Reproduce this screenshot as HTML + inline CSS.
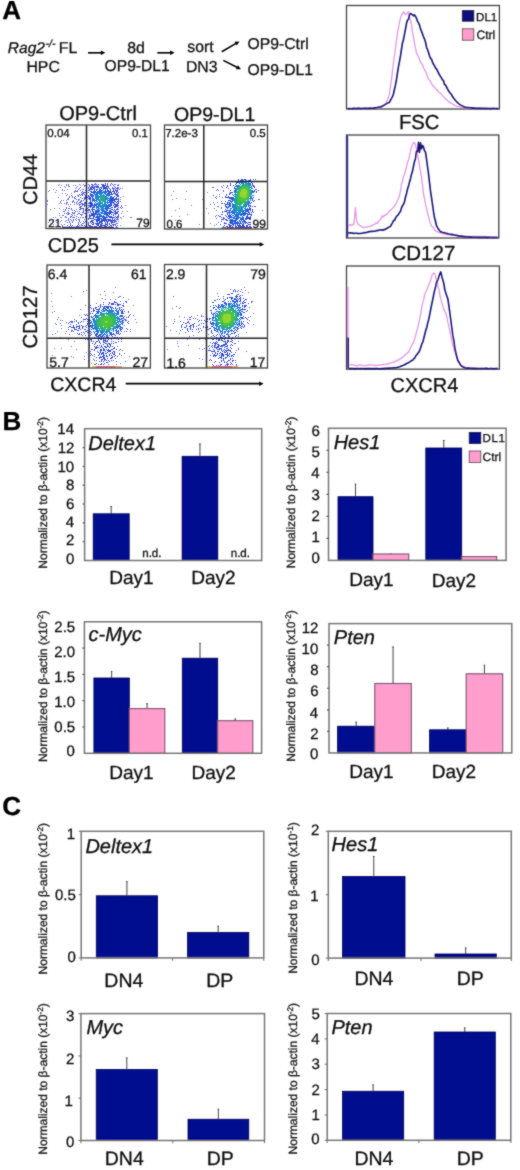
<!DOCTYPE html>
<html><head><meta charset="utf-8"><style>
html,body{margin:0;padding:0;background:#fff;}
body{width:520px;height:1170px;overflow:hidden;}
svg{display:block;font-family:"Liberation Sans", sans-serif;text-rendering:geometricPrecision;}
text{stroke:#111;stroke-width:0.3px;}
</style></head><body>
<svg width="520" height="1170" viewBox="0 0 520 1170">
<defs><filter id="gblur" x="0" y="0" width="100%" height="100%" filterUnits="userSpaceOnUse"><feConvolveMatrix order="3" kernelMatrix="1 2 1 2 16 2 1 2 1" divisor="28" edgeMode="duplicate"/></filter></defs>
<rect width="520" height="1170" fill="#fff"/>
<g filter="url(#gblur)">
<text x="2.32" y="18.80" font-size="26" font-weight="bold" fill="#000">A</text>
<text x="2.38" y="429.50" font-size="26" font-weight="bold" fill="#000">B</text>
<text x="2.16" y="814.50" font-size="26" font-weight="bold" fill="#000">C</text>
<text x="7.84" y="52.80" font-size="15.5" font-style="italic" fill="#111">Rag2</text>
<text x="45.48" y="47.30" font-size="10.5" font-style="italic" fill="#111">-/-</text>
<text x="58.74" y="52.80" font-size="15.8" fill="#111">FL</text>
<text x="26.44" y="71.90" font-size="15.8" fill="#111">HPC</text>
<line x1="88.00" y1="52.80" x2="101.40" y2="52.80" stroke="#000" stroke-width="1.6"/>
<path d="M105.40,52.80 L100.90,55.00 L100.90,50.60Z" fill="#000"/>
<text x="127.17" y="52.80" font-size="15.8" fill="#111">8d</text>
<text x="104.62" y="71.40" font-size="15.6" fill="#111">OP9-DL1</text>
<line x1="157.30" y1="52.80" x2="170.60" y2="52.80" stroke="#000" stroke-width="1.6"/>
<path d="M174.60,52.80 L170.10,55.00 L170.10,50.60Z" fill="#000"/>
<text x="187.33" y="52.30" font-size="15.8" fill="#111">sort</text>
<text x="185.94" y="71.90" font-size="15.8" fill="#111">DN3</text>
<line x1="221.80" y1="51.70" x2="236.04" y2="43.41" stroke="#000" stroke-width="1.6"/>
<path d="M239.50,41.40 L236.72,45.56 L234.50,41.76Z" fill="#000"/>
<line x1="223.30" y1="60.40" x2="237.42" y2="67.42" stroke="#000" stroke-width="1.6"/>
<path d="M241.00,69.20 L235.99,69.17 L237.95,65.23Z" fill="#000"/>
<text x="247.62" y="48.50" font-size="15.7" fill="#111">OP9-Ctrl</text>
<text x="247.62" y="74.60" font-size="15.7" fill="#111">OP9-DL1</text>
<g>
<g>
<path d="M56 190.5h1M59 203.5h1M47 201.5h1M65 193.5h1M59 213.5h1M58 197.5h1M57 222.5h1M67 189.5h1M55 192.5h1M53 224.5h1M48 191.5h1M48 222.5h1M67 194.5h1M66 185.5h1M56 222.5h1M47 204.5h1M54 208.5h1M55 217.5h1M61 185.5h1M47 200.5h1M80 185.5h1M53 189.5h1M57 226.5h1M50 209.5h1M61 217.5h1M49 190.5h1M59 184.5h1M53 217.5h1M62 190.5h1M58 185.5h1M77 186.5h1M75 188.5h1M63 209.5h1M62 193.5h1M79 184.5h1M75 185.5h1M65 187.5h1M61 203.5h1M60 217.5h1M59 215.5h1M61 220.5h1M59 208.5h1M61 200.5h1M62 215.5h1M73 185.5h1M64 203.5h1M60 187.5h1M66 200.5h1M69 186.5h1M64 186.5h1M63 200.5h1M66 195.5h1M68 186.5h1M64 190.5h1M68 184.5h1M60 201.5h1M60 202.5h1M76 187.5h1M62 189.5h1M60 221.5h1M66 184.5h1M71 193.5h1M68 185.5h1M127 211.5h1M123 196.5h1M131 217.5h1M125 205.5h1M123 216.5h1M130 217.5h1M122 188.5h1M120 225.5h1M61 224.5h1M60 227.5h1" stroke="rgb(115, 115, 230)" stroke-width="1" fill="none"/>
<path d="M72 210.5h1M78 213.5h1M79 188.5h1M78 226.5h1M64 213.5h1M69 221.5h1M78 223.5h1M71 209.5h1M71 208.5h1M67 212.5h1M65 209.5h1M72 202.5h1M74 198.5h1M67 202.5h1M72 222.5h1M76 199.5h1M68 214.5h1M67 199.5h1M70 224.5h1M62 225.5h1M79 219.5h1M70 219.5h1M70 204.5h1M69 222.5h1M74 217.5h1M68 220.5h1M73 217.5h1M79 221.5h1M73 213.5h1M71 216.5h1M76 191.5h1M77 191.5h1M78 224.5h1M79 225.5h1M75 190.5h1M85 226.5h1M75 219.5h1M78 196.5h1M71 214.5h1M81 225.5h1M73 220.5h1M75 198.5h1M69 213.5h1M69 208.5h1M84 186.5h1M65 216.5h1M77 226.5h1M72 215.5h1M76 216.5h1M80 187.5h1M68 208.5h1M62 225.5h1M78 222.5h1M71 208.5h1M70 219.5h1M68 204.5h1M79 211.5h1M79 213.5h1M68 212.5h1M72 201.5h1M78 200.5h1M80 217.5h1M68 198.5h1M79 220.5h1M83 221.5h1M73 201.5h1M65 221.5h1M72 213.5h1M66 202.5h1M69 196.5h1M80 227.5h1M79 199.5h1M84 225.5h1M83 223.5h1M73 200.5h1M84 222.5h1M67 214.5h1M80 222.5h1M69 197.5h1M74 202.5h1M71 220.5h1M76 220.5h1M65 217.5h1M74 204.5h1M74 197.5h1M74 215.5h1M78 217.5h1M70 216.5h1M73 219.5h1M76 203.5h1M82 214.5h1M79 194.5h1M72 212.5h1M66 204.5h1M66 207.5h1M64 211.5h1M71 226.5h1M72 196.5h1M80 195.5h1M76 202.5h1M74 215.5h1M83 217.5h1M81 224.5h1M74 212.5h1M63 211.5h1M78 217.5h1M82 217.5h1M68 199.5h1M71 195.5h1M78 203.5h1M66 203.5h1M68 212.5h1M83 189.5h1M80 190.5h1M84 185.5h1M75 191.5h1M76 218.5h1M74 192.5h1M75 211.5h1M78 219.5h1M74 191.5h1M78 224.5h1M82 223.5h1M74 213.5h1M84 186.5h1M74 210.5h1M66 217.5h1M67 222.5h1M82 189.5h1M85 185.5h1M66 220.5h1M64 224.5h1M86 227.5h1M65 210.5h1M68 213.5h1M79 213.5h1M76 209.5h1M82 225.5h1M68 210.5h1M69 206.5h1M83 184.5h1M63 215.5h1M77 214.5h1M72 221.5h1M72 217.5h1M70 224.5h1M75 196.5h1M70 223.5h1M66 213.5h1M77 201.5h1M68 218.5h1M77 190.5h1M68 219.5h1M81 214.5h1M78 195.5h1M72 225.5h1M77 195.5h1M80 214.5h1M78 189.5h1M75 219.5h1M83 189.5h1M66 208.5h1M65 221.5h1M70 217.5h1M69 197.5h1M77 211.5h1M77 204.5h1M117 187.5h1M112 227.5h1M115 184.5h1M110 184.5h1M118 219.5h1M118 221.5h1M117 185.5h1M117 223.5h1M117 187.5h1M118 184.5h1M117 227.5h1M117 225.5h1M118 188.5h1M115 225.5h1M112 184.5h1M88 184.5h1M116 226.5h1M111 227.5h1M116 227.5h1M88 184.5h1M118 185.5h1M114 184.5h1M113 185.5h1M118 187.5h1M79 209.5h1M121 213.5h1M122 207.5h1M120 217.5h1M72 197.5h1M120 199.5h1M121 208.5h1M111 183.5h1M120 197.5h1M121 205.5h1M78 199.5h1M120 188.5h1M83 184.5h1M119 189.5h1M121 218.5h1M122 211.5h1M81 215.5h1M95 183.5h1M121 206.5h1M84 219.5h1M115 227.5h1M107 183.5h1M121 218.5h1M79 207.5h1M76 226.5h1M82 227.5h1M85 227.5h1M77 225.5h1M71 226.5h1M77 226.5h1M78 227.5h1M72 227.5h1M80 227.5h1M67 227.5h1M70 227.5h1M79 227.5h1M110 227.5h1M67 227.5h1M63 227.5h1M62 226.5h1M78 227.5h1M63 227.5h1M69 226.5h1M74 227.5h1M68 227.5h1M70 227.5h1M85 227.5h1M83 227.5h1M63 227.5h1M67 225.5h1M64 227.5h1M74 227.5h1M77 226.5h1M73 227.5h1M73 227.5h1M63 227.5h1M70 225.5h1M64 227.5h1M84 227.5h1" stroke="rgb(95, 101, 225)" stroke-width="1" fill="none"/>
<path d="M82 212.5h1M81 194.5h1M86 225.5h1M86 190.5h1M83 200.5h1M82 212.5h1M80 207.5h1M81 206.5h1M80 197.5h1M83 210.5h1M82 194.5h1M86 215.5h1M86 217.5h1M85 210.5h1M82 198.5h1M84 206.5h1M86 219.5h1M83 212.5h1M82 203.5h1M80 202.5h1M86 214.5h1M85 217.5h1M79 204.5h1M80 201.5h1M86 207.5h1M80 208.5h1M82 203.5h1M83 211.5h1M82 208.5h1M85 210.5h1M83 193.5h1M84 192.5h1M85 192.5h1M81 201.5h1M85 216.5h1M83 204.5h1M80 206.5h1M86 218.5h1M84 203.5h1M80 209.5h1M83 208.5h1M84 213.5h1M83 209.5h1M83 192.5h1M79 202.5h1M81 200.5h1M80 209.5h1M82 195.5h1M85 205.5h1M79 205.5h1M80 204.5h1M81 208.5h1M84 192.5h1M82 212.5h1M85 192.5h1M84 197.5h1M85 217.5h1M81 192.5h1M82 198.5h1M84 205.5h1M82 205.5h1M85 190.5h1M82 191.5h1M86 226.5h1M83 192.5h1M80 204.5h1M82 204.5h1M82 191.5h1M82 195.5h1M84 202.5h1M85 213.5h1M82 193.5h1M86 225.5h1M84 197.5h1M82 198.5h1M85 203.5h1M84 194.5h1M84 206.5h1M86 187.5h1M86 210.5h1M85 221.5h1M114 220.5h1M114 188.5h1M88 225.5h1M118 192.5h1M100 227.5h1M117 190.5h1M105 226.5h1M112 188.5h1M93 227.5h1M110 185.5h1M91 184.5h1M89 227.5h1M104 226.5h1M118 201.5h1M112 187.5h1M94 227.5h1M116 190.5h1M95 227.5h1M117 213.5h1M92 186.5h1M118 203.5h1M91 226.5h1M89 186.5h1M117 212.5h1M96 226.5h1M111 226.5h1M91 184.5h1M105 184.5h1M90 222.5h1M118 217.5h1M118 200.5h1M118 201.5h1M88 219.5h1M117 189.5h1M107 184.5h1M88 218.5h1M107 185.5h1M113 225.5h1M93 185.5h1M95 226.5h1M88 223.5h1M117 213.5h1M103 184.5h1M118 214.5h1M92 186.5h1M88 222.5h1M118 195.5h1M117 218.5h1M106 226.5h1M116 221.5h1M90 187.5h1M113 188.5h1M114 222.5h1M91 186.5h1M91 226.5h1M110 225.5h1M115 187.5h1M118 199.5h1M97 185.5h1M88 227.5h1M90 226.5h1M102 184.5h1M113 224.5h1M118 205.5h1M100 226.5h1M107 225.5h1M115 189.5h1M109 226.5h1M117 193.5h1M88 187.5h1M118 203.5h1M103 184.5h1M89 225.5h1M88 219.5h1M101 226.5h1M92 185.5h1M118 207.5h1M115 224.5h1M115 218.5h1M94 184.5h1M89 226.5h1M114 224.5h1M115 220.5h1M97 185.5h1M118 211.5h1M116 223.5h1M116 217.5h1M88 224.5h1M114 186.5h1M92 226.5h1M118 211.5h1M117 219.5h1M118 207.5h1M110 225.5h1M89 185.5h1M117 188.5h1M88 223.5h1M118 211.5h1M101 184.5h1M97 227.5h1M108 227.5h1M96 184.5h1M90 187.5h1M116 188.5h1M107 227.5h1M88 188.5h1M94 184.5h1M99 226.5h1M118 216.5h1M115 221.5h1M118 215.5h1M86 220.5h1M98 184.5h1M113 188.5h1M88 188.5h1M105 183.5h1M85 209.5h1M118 214.5h1M117 217.5h1M81 206.5h1M116 219.5h1M84 192.5h1M84 198.5h1M95 184.5h1M91 186.5h1M107 184.5h1M112 224.5h1M118 198.5h1M118 203.5h1M118 199.5h1M117 189.5h1M111 225.5h1M115 220.5h1M103 227.5h1M118 196.5h1M107 225.5h1M115 218.5h1M113 222.5h1M114 221.5h1M117 191.5h1M117 216.5h1M120 207.5h1M96 226.5h1M117 191.5h1M92 184.5h1M84 204.5h1M120 201.5h1M103 227.5h1M118 209.5h1M109 227.5h1M87 210.5h1M81 203.5h1M84 199.5h1M101 184.5h1M94 226.5h1M86 226.5h1M93 227.5h1M102 227.5h1M96 227.5h1M88 227.5h1M94 227.5h1M88 227.5h1M102 227.5h1M96 227.5h1M91 227.5h1M88 227.5h1M104 227.5h1M94 227.5h1M96 227.5h1M90 226.5h1M94 227.5h1M87 227.5h1M90 225.5h1M102 227.5h1" stroke="rgb(76, 87, 220)" stroke-width="1" fill="none"/>
<path d="M86 202.5h1M86 197.5h1M85 196.5h1M86 192.5h1M86 196.5h1M85 198.5h1M86 192.5h1M85 197.5h1M86 196.5h1M88 192.5h1M110 219.5h1M102 225.5h1M90 216.5h1M93 220.5h1M116 198.5h1M91 221.5h1M115 213.5h1M111 222.5h1M105 225.5h1M108 221.5h1M106 224.5h1M113 190.5h1M100 225.5h1M113 215.5h1M116 195.5h1M91 218.5h1M116 213.5h1M93 187.5h1M116 194.5h1M90 188.5h1M111 216.5h1M115 205.5h1M89 217.5h1M102 185.5h1M96 224.5h1M89 210.5h1M92 187.5h1M116 204.5h1M98 187.5h1M117 194.5h1M116 192.5h1M109 188.5h1M115 193.5h1M111 221.5h1M111 217.5h1M112 191.5h1M97 225.5h1M109 220.5h1M97 187.5h1M106 186.5h1M117 203.5h1M88 192.5h1M89 218.5h1M90 221.5h1M116 213.5h1M90 212.5h1M88 212.5h1M91 220.5h1M88 203.5h1M115 206.5h1M112 218.5h1M114 192.5h1M103 186.5h1M101 225.5h1M114 191.5h1M115 213.5h1M89 206.5h1M103 185.5h1M117 196.5h1M113 212.5h1M110 220.5h1M113 191.5h1M89 209.5h1M89 218.5h1M88 205.5h1M116 194.5h1M114 207.5h1M98 225.5h1M118 202.5h1M115 210.5h1M93 223.5h1M107 223.5h1M104 185.5h1M116 198.5h1M92 187.5h1M93 223.5h1M100 224.5h1M116 199.5h1M95 223.5h1M115 194.5h1M92 224.5h1M88 192.5h1M117 199.5h1M91 188.5h1M112 220.5h1M105 223.5h1M111 223.5h1M116 206.5h1M90 218.5h1M97 223.5h1M117 204.5h1M117 204.5h1M91 223.5h1M115 210.5h1M91 188.5h1M103 225.5h1M111 220.5h1M89 215.5h1M102 186.5h1M111 220.5h1M112 222.5h1M116 202.5h1M88 209.5h1M113 217.5h1M96 223.5h1M115 214.5h1M117 211.5h1M98 224.5h1M115 216.5h1M109 224.5h1M117 209.5h1M91 223.5h1M113 220.5h1M106 186.5h1M112 217.5h1M117 204.5h1M115 205.5h1M116 212.5h1M112 222.5h1M92 222.5h1M96 224.5h1M115 216.5h1M115 190.5h1M117 195.5h1M117 206.5h1M116 205.5h1M117 194.5h1M105 223.5h1M91 218.5h1M116 197.5h1M93 220.5h1M115 194.5h1M89 214.5h1M89 189.5h1M95 186.5h1M115 194.5h1M104 225.5h1M89 216.5h1M117 208.5h1M90 211.5h1M93 224.5h1M105 185.5h1M117 208.5h1M117 194.5h1M112 221.5h1M115 212.5h1M89 216.5h1M103 225.5h1M104 185.5h1M109 223.5h1M90 218.5h1M108 186.5h1M115 216.5h1M91 189.5h1M97 186.5h1M110 221.5h1M94 188.5h1M116 206.5h1M88 190.5h1M90 215.5h1M114 193.5h1M90 189.5h1M117 196.5h1M86 201.5h1M92 221.5h1M94 187.5h1M98 186.5h1M112 191.5h1M86 203.5h1M112 219.5h1M94 186.5h1M107 222.5h1M115 213.5h1M85 195.5h1M85 196.5h1M107 186.5h1M93 188.5h1M86 206.5h1M105 224.5h1M117 199.5h1M115 207.5h1M87 197.5h1M91 187.5h1M116 191.5h1M89 190.5h1M106 224.5h1M113 189.5h1M97 224.5h1M106 186.5h1M91 188.5h1M93 222.5h1M87 208.5h1M113 214.5h1M92 220.5h1M96 187.5h1M92 218.5h1M96 186.5h1M85 202.5h1M115 194.5h1M116 209.5h1M88 210.5h1M88 209.5h1M114 217.5h1M86 198.5h1M88 203.5h1M118 202.5h1M110 189.5h1M116 191.5h1M104 186.5h1M88 192.5h1M90 211.5h1M108 187.5h1M102 225.5h1M92 221.5h1M110 189.5h1M117 204.5h1M88 192.5h1M101 224.5h1M115 210.5h1M114 219.5h1M88 207.5h1M113 212.5h1M109 224.5h1M114 211.5h1M117 205.5h1M95 223.5h1M117 201.5h1M97 187.5h1M115 207.5h1M114 209.5h1M115 210.5h1M117 208.5h1M116 213.5h1M115 211.5h1M114 213.5h1M114 209.5h1M111 217.5h1M86 199.5h1M109 224.5h1M107 186.5h1M112 222.5h1M115 193.5h1M107 224.5h1M104 186.5h1M102 186.5h1M115 194.5h1M108 187.5h1M93 224.5h1" stroke="rgb(56, 73, 215)" stroke-width="1" fill="none"/>
<path d="M97 219.5h1M111 194.5h1M110 213.5h1M110 192.5h1M96 219.5h1M97 220.5h1M94 216.5h1M89 197.5h1M90 202.5h1M90 193.5h1M114 201.5h1M104 187.5h1M90 206.5h1M96 219.5h1M113 203.5h1M89 197.5h1M90 194.5h1M111 192.5h1M106 188.5h1M92 208.5h1M104 188.5h1M114 204.5h1M101 221.5h1M92 214.5h1M113 202.5h1M88 196.5h1M93 213.5h1M108 215.5h1M103 188.5h1M93 191.5h1M92 214.5h1M106 219.5h1M100 222.5h1M97 221.5h1M110 211.5h1M106 219.5h1M92 214.5h1M91 215.5h1M90 207.5h1M90 202.5h1M105 219.5h1M92 207.5h1M113 203.5h1M112 207.5h1M96 220.5h1M100 221.5h1M101 221.5h1M89 198.5h1M105 220.5h1M108 190.5h1M89 198.5h1M98 223.5h1M106 221.5h1M92 208.5h1M89 196.5h1M90 204.5h1M94 190.5h1M109 214.5h1M88 195.5h1M115 201.5h1M94 189.5h1M91 192.5h1M115 204.5h1M90 199.5h1M112 212.5h1M91 215.5h1M90 206.5h1M113 199.5h1M89 203.5h1M114 196.5h1M90 194.5h1M89 203.5h1M103 220.5h1M94 216.5h1M102 220.5h1M104 188.5h1M112 194.5h1M89 202.5h1M113 203.5h1M91 209.5h1M104 220.5h1M92 192.5h1M101 221.5h1M94 219.5h1M96 221.5h1M100 222.5h1M90 197.5h1M97 220.5h1M92 210.5h1M114 200.5h1M91 191.5h1M96 220.5h1M99 220.5h1M113 198.5h1M98 220.5h1M114 200.5h1M108 216.5h1M90 207.5h1M114 203.5h1M106 220.5h1M91 214.5h1M114 199.5h1M89 202.5h1M106 188.5h1M107 217.5h1M90 195.5h1M106 187.5h1M106 219.5h1M100 187.5h1M113 210.5h1M90 204.5h1M90 197.5h1M102 221.5h1M103 220.5h1M90 200.5h1M90 197.5h1M90 205.5h1M110 190.5h1M95 219.5h1M100 222.5h1M89 203.5h1M109 191.5h1M110 191.5h1M114 200.5h1M91 214.5h1M110 212.5h1M99 222.5h1M90 197.5h1M107 221.5h1M91 205.5h1M110 192.5h1M109 219.5h1M107 219.5h1M109 213.5h1M110 210.5h1M100 187.5h1M95 217.5h1M92 189.5h1M113 197.5h1M114 206.5h1M115 201.5h1M107 221.5h1M109 213.5h1M103 187.5h1M109 216.5h1M89 197.5h1M113 193.5h1M97 189.5h1M94 216.5h1M110 210.5h1M111 214.5h1M90 195.5h1M107 189.5h1M108 220.5h1M105 222.5h1M99 221.5h1M91 214.5h1M115 198.5h1M91 206.5h1M91 206.5h1M96 189.5h1M99 220.5h1M112 209.5h1M92 209.5h1M113 205.5h1M92 213.5h1M110 216.5h1M107 221.5h1M109 214.5h1M89 205.5h1M90 203.5h1M112 209.5h1M91 214.5h1M99 188.5h1M107 221.5h1M89 199.5h1M113 203.5h1M92 192.5h1M110 212.5h1M101 188.5h1M113 193.5h1M93 218.5h1M111 209.5h1M112 209.5h1M111 205.5h1M111 193.5h1M113 200.5h1M90 201.5h1M90 191.5h1M90 199.5h1M111 211.5h1M93 217.5h1M90 198.5h1M92 210.5h1M90 199.5h1M93 212.5h1M91 202.5h1M111 205.5h1M110 190.5h1M106 187.5h1M99 223.5h1M91 203.5h1M114 201.5h1M91 206.5h1M89 198.5h1M103 187.5h1M110 213.5h1M92 211.5h1M90 206.5h1M90 194.5h1M104 221.5h1M93 215.5h1M114 196.5h1M110 213.5h1M97 222.5h1M92 209.5h1M91 209.5h1M106 219.5h1M89 196.5h1M96 221.5h1M95 217.5h1M102 223.5h1M93 213.5h1M92 189.5h1M110 217.5h1M114 196.5h1M93 211.5h1M91 204.5h1M101 187.5h1M109 217.5h1M92 211.5h1M90 202.5h1M110 212.5h1M92 207.5h1M90 205.5h1M90 200.5h1M113 198.5h1M108 216.5h1M101 223.5h1M111 207.5h1M91 213.5h1M89 203.5h1M101 222.5h1M93 213.5h1M114 200.5h1M115 199.5h1M108 220.5h1M111 212.5h1M93 214.5h1M105 187.5h1M102 221.5h1M93 218.5h1M88 198.5h1M104 220.5h1M97 221.5h1M91 192.5h1M92 215.5h1M92 211.5h1M113 210.5h1M104 221.5h1M107 217.5h1M111 207.5h1M108 219.5h1M95 217.5h1M93 216.5h1M99 188.5h1M107 188.5h1M101 188.5h1M105 188.5h1" stroke="rgb(43, 71, 214)" stroke-width="1" fill="none"/>
<path d="M107 213.5h1M100 216.5h1M110 204.5h1M96 214.5h1M94 206.5h1M110 198.5h1M96 190.5h1M99 217.5h1M92 198.5h1M94 201.5h1M107 215.5h1M109 212.5h1M95 205.5h1M93 207.5h1M98 219.5h1M93 192.5h1M111 203.5h1M91 196.5h1M97 217.5h1M92 197.5h1M111 199.5h1M95 211.5h1M111 198.5h1M110 201.5h1M109 192.5h1M99 219.5h1M92 205.5h1M95 204.5h1M99 216.5h1M93 200.5h1M111 196.5h1M109 193.5h1M94 206.5h1M95 191.5h1M94 215.5h1M98 217.5h1M97 216.5h1M92 195.5h1M108 207.5h1M96 216.5h1M106 215.5h1M92 194.5h1M109 195.5h1M94 192.5h1M110 202.5h1M97 218.5h1M96 217.5h1M91 194.5h1M107 190.5h1M94 214.5h1M109 192.5h1M95 204.5h1M97 191.5h1M103 189.5h1M110 206.5h1M107 213.5h1M94 201.5h1M106 214.5h1M108 208.5h1M93 193.5h1M94 204.5h1M105 190.5h1M107 214.5h1M110 199.5h1M95 214.5h1M110 196.5h1M112 199.5h1M93 209.5h1M110 197.5h1M104 219.5h1M102 216.5h1M102 219.5h1M97 215.5h1M106 215.5h1M106 216.5h1M99 218.5h1M112 198.5h1M105 189.5h1M110 198.5h1M111 202.5h1M108 208.5h1M106 217.5h1M96 208.5h1M97 216.5h1M103 217.5h1M91 196.5h1M91 195.5h1M103 216.5h1M103 218.5h1M105 189.5h1M97 191.5h1M94 209.5h1M97 217.5h1M111 200.5h1M106 191.5h1M103 218.5h1M110 200.5h1M108 193.5h1M93 206.5h1M110 198.5h1M98 218.5h1M112 200.5h1M100 190.5h1M99 189.5h1M99 218.5h1M101 220.5h1M92 199.5h1M108 192.5h1M112 198.5h1M98 218.5h1M94 213.5h1M108 212.5h1M108 191.5h1M105 217.5h1M99 189.5h1M111 200.5h1M109 193.5h1M101 216.5h1M111 204.5h1M106 191.5h1M109 211.5h1M101 218.5h1M106 213.5h1M94 203.5h1M111 198.5h1M107 214.5h1M105 218.5h1M97 191.5h1M95 210.5h1M109 193.5h1M93 205.5h1M109 204.5h1M95 212.5h1M95 192.5h1M110 198.5h1M102 217.5h1M93 205.5h1M93 199.5h1M96 211.5h1M99 219.5h1M106 213.5h1M105 189.5h1M107 191.5h1M99 216.5h1M96 212.5h1M105 214.5h1M110 208.5h1M92 204.5h1M94 201.5h1M106 214.5h1M110 203.5h1M93 209.5h1M94 205.5h1M95 204.5h1M109 194.5h1M99 217.5h1M101 219.5h1M109 206.5h1M92 205.5h1M98 216.5h1M108 213.5h1M109 210.5h1M101 219.5h1M96 212.5h1M110 199.5h1M99 190.5h1M92 196.5h1M110 205.5h1M106 217.5h1M110 206.5h1M106 191.5h1M95 191.5h1M107 210.5h1M93 200.5h1M105 191.5h1M94 207.5h1M103 189.5h1M95 214.5h1M97 191.5h1M99 218.5h1M112 197.5h1M93 205.5h1M92 200.5h1M112 201.5h1M107 210.5h1M109 212.5h1M96 213.5h1M95 211.5h1M109 195.5h1M96 214.5h1M107 190.5h1M103 216.5h1M109 206.5h1M94 206.5h1M96 212.5h1M92 197.5h1M109 208.5h1M104 216.5h1M111 200.5h1M109 208.5h1M92 194.5h1M93 207.5h1M95 212.5h1M97 191.5h1M99 189.5h1M92 201.5h1M100 218.5h1M93 207.5h1M105 214.5h1M111 201.5h1M93 192.5h1M107 213.5h1M108 212.5h1M112 197.5h1M96 208.5h1M104 217.5h1M101 219.5h1M106 215.5h1M96 208.5h1M107 212.5h1M103 218.5h1M103 219.5h1M92 194.5h1M97 191.5h1M99 218.5h1M103 215.5h1M92 203.5h1M96 210.5h1M99 218.5h1M95 213.5h1M96 208.5h1M109 205.5h1M92 200.5h1M96 214.5h1M108 213.5h1M94 213.5h1M108 206.5h1M104 218.5h1M111 197.5h1M110 199.5h1M97 214.5h1M102 217.5h1M104 218.5h1M110 206.5h1M110 194.5h1M94 191.5h1M101 190.5h1M108 193.5h1M107 191.5h1M102 190.5h1M100 190.5h1M107 191.5h1M92 198.5h1M100 189.5h1M111 200.5h1M92 194.5h1M100 190.5h1M112 202.5h1M93 193.5h1M105 191.5h1" stroke="rgb(39, 88, 219)" stroke-width="1" fill="none"/>
<path d="M109 201.5h1M94 194.5h1M101 212.5h1M96 192.5h1M102 213.5h1M102 213.5h1M106 206.5h1M98 212.5h1M104 191.5h1M99 192.5h1M102 212.5h1M100 192.5h1M102 212.5h1M106 192.5h1M95 200.5h1M98 213.5h1M107 195.5h1M100 215.5h1M95 194.5h1M106 211.5h1M94 193.5h1M109 200.5h1M98 211.5h1M98 205.5h1M101 215.5h1M95 195.5h1M98 191.5h1M98 207.5h1M104 214.5h1M107 194.5h1M107 209.5h1M105 192.5h1M108 205.5h1M108 196.5h1M93 195.5h1M96 200.5h1M98 213.5h1M96 193.5h1M108 196.5h1M94 194.5h1M97 203.5h1M96 205.5h1M108 198.5h1M102 211.5h1M103 213.5h1M93 196.5h1M97 212.5h1M96 207.5h1M97 207.5h1M96 194.5h1M93 196.5h1M103 210.5h1M107 207.5h1M102 212.5h1M95 194.5h1M107 208.5h1M99 210.5h1M98 206.5h1M108 195.5h1M100 214.5h1M104 211.5h1M102 210.5h1M107 193.5h1M108 202.5h1M107 206.5h1M101 213.5h1M102 192.5h1M96 201.5h1M97 209.5h1M109 199.5h1M99 215.5h1M98 212.5h1M102 211.5h1M98 214.5h1M107 207.5h1M103 211.5h1M105 207.5h1M97 193.5h1M107 203.5h1M97 211.5h1M95 202.5h1M104 210.5h1M97 212.5h1M103 210.5h1M104 193.5h1M96 193.5h1M106 207.5h1M105 208.5h1M106 211.5h1M99 215.5h1M94 200.5h1M95 195.5h1M97 203.5h1M108 194.5h1M97 206.5h1M96 206.5h1M107 209.5h1M98 214.5h1M94 200.5h1M101 213.5h1M96 201.5h1M103 210.5h1M97 212.5h1M100 214.5h1M98 205.5h1M109 202.5h1M103 211.5h1M95 196.5h1M106 206.5h1M95 197.5h1M109 201.5h1M106 209.5h1M107 205.5h1M98 208.5h1M103 211.5h1M108 198.5h1M105 209.5h1M95 197.5h1M93 198.5h1M95 200.5h1M96 204.5h1M97 204.5h1M108 200.5h1M101 213.5h1M102 211.5h1M105 207.5h1M95 197.5h1M97 203.5h1M101 212.5h1M98 210.5h1M105 212.5h1M102 211.5h1M101 215.5h1M105 213.5h1M101 210.5h1M97 210.5h1M99 214.5h1M107 209.5h1M108 204.5h1M97 206.5h1M103 191.5h1M108 194.5h1M106 210.5h1M106 209.5h1M107 208.5h1M109 201.5h1M106 212.5h1M99 208.5h1M96 194.5h1M97 192.5h1M96 192.5h1M100 214.5h1M102 210.5h1M109 198.5h1M104 192.5h1M95 198.5h1M93 198.5h1M99 208.5h1M98 191.5h1M96 193.5h1M101 191.5h1M96 204.5h1M102 192.5h1M93 195.5h1M105 213.5h1M98 214.5h1M108 195.5h1M108 195.5h1M100 192.5h1M100 209.5h1M95 198.5h1M104 213.5h1M98 210.5h1M96 199.5h1M104 212.5h1M96 192.5h1M94 194.5h1M100 212.5h1M109 200.5h1M99 191.5h1M104 214.5h1M96 203.5h1M101 212.5h1M97 211.5h1M96 194.5h1M101 210.5h1M106 208.5h1M106 205.5h1M106 205.5h1M107 201.5h1M102 212.5h1M107 202.5h1M98 209.5h1M96 203.5h1M97 204.5h1M107 207.5h1M96 192.5h1M97 206.5h1M94 199.5h1M102 212.5h1M98 207.5h1M99 213.5h1M104 212.5h1M96 207.5h1M100 212.5h1M101 212.5h1M103 192.5h1M109 202.5h1M99 210.5h1M108 196.5h1M93 198.5h1M104 211.5h1M101 210.5h1M105 211.5h1M105 211.5h1M97 212.5h1M108 195.5h1M99 215.5h1M105 208.5h1M109 202.5h1M106 208.5h1M105 193.5h1M107 206.5h1M93 196.5h1M99 210.5h1M104 192.5h1M102 210.5h1M107 205.5h1M99 211.5h1M108 204.5h1M107 203.5h1M106 194.5h1M94 194.5h1M96 199.5h1M104 191.5h1M107 201.5h1M98 192.5h1M103 192.5h1M105 192.5h1M100 191.5h1M101 192.5h1M104 193.5h1M106 192.5h1M106 204.5h1M108 198.5h1M106 192.5h1M97 203.5h1M106 207.5h1M105 193.5h1M100 192.5h1M98 192.5h1M109 199.5h1M100 191.5h1M109 198.5h1M96 199.5h1M107 194.5h1M103 192.5h1" stroke="rgb(35, 105, 225)" stroke-width="1" fill="none"/>
<path d="M99 204.5h1M105 205.5h1M102 206.5h1M97 197.5h1M105 202.5h1M105 199.5h1M103 207.5h1M96 198.5h1M105 204.5h1M102 205.5h1M103 194.5h1M98 197.5h1M96 196.5h1M98 199.5h1M105 198.5h1M100 195.5h1M102 205.5h1M99 204.5h1M101 195.5h1M107 197.5h1M96 198.5h1M106 198.5h1M105 206.5h1M104 195.5h1M100 207.5h1M97 199.5h1M105 201.5h1M101 195.5h1M100 202.5h1M101 205.5h1M104 205.5h1M99 204.5h1M102 193.5h1M96 197.5h1M104 202.5h1M99 194.5h1M97 199.5h1M106 196.5h1M104 208.5h1M100 194.5h1M105 194.5h1M105 199.5h1M106 195.5h1M98 198.5h1M99 199.5h1M105 204.5h1M102 206.5h1M101 205.5h1M99 194.5h1M102 195.5h1M100 205.5h1M99 204.5h1M104 203.5h1M96 196.5h1M103 209.5h1M104 208.5h1M103 205.5h1M96 195.5h1M98 193.5h1M104 203.5h1M99 206.5h1M106 196.5h1M103 205.5h1M96 198.5h1M99 204.5h1M101 205.5h1M105 200.5h1M105 196.5h1M100 205.5h1M100 203.5h1M103 194.5h1M99 196.5h1M105 204.5h1M97 194.5h1M96 195.5h1M102 195.5h1M102 193.5h1M99 206.5h1M107 198.5h1M97 198.5h1M99 194.5h1M103 195.5h1M102 204.5h1M97 197.5h1M105 201.5h1M100 206.5h1M100 204.5h1M100 203.5h1M105 200.5h1M101 195.5h1M102 208.5h1M104 204.5h1M100 195.5h1M103 205.5h1M103 206.5h1M101 195.5h1M101 208.5h1M97 195.5h1M102 204.5h1M99 203.5h1M100 207.5h1M107 197.5h1M104 196.5h1M97 198.5h1M105 198.5h1M98 195.5h1M100 206.5h1M105 194.5h1M102 207.5h1M100 204.5h1M98 203.5h1M105 202.5h1M105 205.5h1M103 205.5h1M102 207.5h1M107 199.5h1M105 204.5h1M102 207.5h1M103 208.5h1M100 207.5h1M102 209.5h1M99 205.5h1M101 195.5h1M103 195.5h1M101 193.5h1M98 193.5h1M100 202.5h1M99 200.5h1M104 208.5h1M102 205.5h1M106 202.5h1M104 201.5h1M107 197.5h1M98 204.5h1M105 204.5h1M96 197.5h1M96 195.5h1M100 205.5h1M101 206.5h1M99 199.5h1M96 197.5h1M104 206.5h1M100 204.5h1M99 206.5h1M100 202.5h1M101 209.5h1M98 202.5h1M100 203.5h1M103 208.5h1M106 195.5h1M104 202.5h1M102 208.5h1M103 204.5h1M105 200.5h1M107 200.5h1M101 203.5h1M101 207.5h1M105 197.5h1M96 195.5h1M102 205.5h1M106 197.5h1M104 206.5h1M96 196.5h1M99 206.5h1M100 205.5h1M101 203.5h1M101 195.5h1M99 194.5h1M104 196.5h1M98 195.5h1M104 195.5h1M105 198.5h1M103 194.5h1M101 194.5h1M103 195.5h1M98 196.5h1M97 194.5h1M105 197.5h1M103 195.5h1M101 206.5h1M106 197.5h1M97 196.5h1M97 194.5h1M100 193.5h1M97 195.5h1M99 196.5h1M97 201.5h1M101 195.5h1M97 197.5h1M107 200.5h1M105 200.5h1M99 193.5h1M99 202.5h1M103 205.5h1M101 203.5h1M105 203.5h1M100 194.5h1M99 194.5h1M98 198.5h1M106 195.5h1M106 196.5h1M99 201.5h1M106 199.5h1M98 195.5h1M98 200.5h1M97 198.5h1M98 200.5h1" stroke="rgb(30, 142, 204)" stroke-width="1" fill="none"/>
<path d="M103 200.5h1M102 199.5h1M99 197.5h1M101 200.5h1M102 199.5h1M102 198.5h1M99 197.5h1M104 200.5h1M102 203.5h1M103 200.5h1M103 201.5h1M101 200.5h1M101 197.5h1M103 196.5h1M101 199.5h1M100 196.5h1M103 201.5h1M100 197.5h1M102 199.5h1M100 200.5h1M102 200.5h1M102 197.5h1M104 200.5h1M101 198.5h1M100 200.5h1M102 201.5h1M101 197.5h1M103 199.5h1M103 198.5h1M100 201.5h1M102 200.5h1M101 200.5h1M104 200.5h1M104 198.5h1M104 199.5h1M102 203.5h1M102 203.5h1M102 199.5h1M104 200.5h1M100 200.5h1M101 202.5h1M101 197.5h1M100 196.5h1M102 201.5h1M100 200.5h1M102 199.5h1M102 197.5h1M103 199.5h1M102 196.5h1M100 200.5h1M103 196.5h1M100 198.5h1M103 196.5h1M103 198.5h1M103 201.5h1M102 202.5h1M102 199.5h1M104 199.5h1M103 198.5h1M102 201.5h1M103 198.5h1M100 196.5h1M101 198.5h1M103 196.5h1M100 199.5h1M103 199.5h1M100 198.5h1M100 198.5h1M101 199.5h1M101 196.5h1M101 202.5h1M102 196.5h1M104 198.5h1M103 200.5h1M103 197.5h1M103 200.5h1M104 197.5h1" stroke="rgb(43, 170, 133)" stroke-width="1" fill="none"/>
<line x1="62.00" y1="227.40" x2="114.00" y2="227.40" stroke="#303080" stroke-width="1.2"/>
<line x1="86.00" y1="228.80" x2="116.00" y2="228.80" stroke="#e0a0b0" stroke-width="1.0"/>
</g>
<line x1="86.50" y1="125.00" x2="86.50" y2="228.50" stroke="#262626" stroke-width="1.5"/>
<line x1="46.00" y1="181.00" x2="150.50" y2="181.00" stroke="#262626" stroke-width="1.5"/>
<rect x="46.00" y="125.00" width="104.50" height="103.50" fill="none" stroke="#444" stroke-width="1.3"/>
<g>
<path d="M176 198.5h1M175 220.5h1M171 195.5h1M179 208.5h1M175 210.5h1M185 199.5h1M199 224.5h1M202 199.5h1M172 199.5h1M187 214.5h1M191 205.5h1M171 216.5h1M186 191.5h1M173 191.5h1M179 216.5h1M210 223.5h1M207 192.5h1M206 208.5h1M208 213.5h1M262 210.5h1" stroke="rgb(115, 115, 230)" stroke-width="1" fill="none"/>
<path d="M219 194.5h1M216 190.5h1M216 198.5h1M219 196.5h1M212 187.5h1M216 210.5h1M217 189.5h1M223 185.5h1M218 222.5h1M227 185.5h1M215 216.5h1M213 202.5h1M218 206.5h1M213 195.5h1M222 187.5h1M223 190.5h1M214 204.5h1M223 191.5h1M223 190.5h1M215 197.5h1M214 225.5h1M217 206.5h1M221 186.5h1M216 218.5h1M213 187.5h1M214 208.5h1M217 202.5h1M223 191.5h1M216 196.5h1M218 190.5h1M221 201.5h1M210 204.5h1M216 224.5h1M256 181.5h1M216 215.5h1M258 199.5h1M259 199.5h1M255 220.5h1" stroke="rgb(95, 101, 225)" stroke-width="1" fill="none"/>
<path d="M222 203.5h1M226 187.5h1M222 212.5h1M226 195.5h1M227 186.5h1M220 216.5h1M221 207.5h1M221 219.5h1M222 197.5h1M223 218.5h1M221 203.5h1M221 208.5h1M218 215.5h1M222 227.5h1M228 188.5h1M221 214.5h1M222 214.5h1M225 196.5h1M227 185.5h1M256 192.5h1M253 179.5h1M256 181.5h1M230 184.5h1M230 184.5h1M230 183.5h1M258 190.5h1M219 216.5h1M222 211.5h1M233 181.5h1M255 179.5h1M221 217.5h1M255 206.5h1M254 206.5h1M222 219.5h1M221 221.5h1M230 185.5h1M220 224.5h1M226 194.5h1M256 189.5h1M223 227.5h1M223 226.5h1M223 227.5h1M224 227.5h1M222 227.5h1M224 227.5h1" stroke="rgb(76, 87, 220)" stroke-width="1" fill="none"/>
<path d="M227 197.5h1M226 216.5h1M225 201.5h1M227 197.5h1M223 217.5h1M224 211.5h1M224 223.5h1M228 196.5h1M238 179.5h1M250 179.5h1M229 193.5h1M230 190.5h1M224 218.5h1M225 204.5h1M254 186.5h1M250 222.5h1M250 214.5h1M255 189.5h1M252 209.5h1M251 212.5h1M251 215.5h1M252 206.5h1M254 200.5h1M233 185.5h1M224 222.5h1M256 191.5h1M223 219.5h1M228 227.5h1M226 197.5h1M224 225.5h1M252 210.5h1M225 219.5h1M226 226.5h1M226 219.5h1M225 206.5h1M225 223.5h1M226 216.5h1M226 223.5h1M227 226.5h1M249 217.5h1M251 214.5h1M225 215.5h1M227 227.5h1M225 219.5h1M230 227.5h1M253 212.5h1M228 197.5h1M225 197.5h1M224 203.5h1M225 211.5h1M252 211.5h1M225 205.5h1M252 209.5h1M250 210.5h1M250 226.5h1M250 219.5h1M250 224.5h1M250 217.5h1M250 226.5h1M250 217.5h1M248 227.5h1M250 216.5h1M250 227.5h1M250 224.5h1M250 218.5h1M249 227.5h1M250 226.5h1M248 227.5h1M249 227.5h1M228 227.5h1M227 228.5h1M249 228.5h1M227 228.5h1M251 227.5h1M228 227.5h1M250 228.5h1M248 227.5h1M229 227.5h1M228 227.5h1M231 228.5h1M250 227.5h1M250 226.5h1M225 227.5h1M249 224.5h1M249 228.5h1M226 228.5h1M230 227.5h1M250 227.5h1M226 228.5h1" stroke="rgb(56, 73, 215)" stroke-width="1" fill="none"/>
<path d="M227 210.5h1M228 197.5h1M226 207.5h1M227 208.5h1M227 213.5h1M226 211.5h1M251 202.5h1M250 180.5h1M254 187.5h1M236 182.5h1M253 195.5h1M235 184.5h1M233 185.5h1M251 182.5h1M237 182.5h1M234 187.5h1M254 191.5h1M250 181.5h1M236 182.5h1M253 185.5h1M229 194.5h1M253 195.5h1M232 192.5h1M238 180.5h1M250 180.5h1M235 186.5h1M241 179.5h1M244 179.5h1M232 192.5h1M252 183.5h1M252 185.5h1M237 182.5h1M229 198.5h1M246 218.5h1M250 206.5h1M246 222.5h1M235 227.5h1M228 202.5h1M229 198.5h1M230 197.5h1M226 206.5h1M247 213.5h1M226 210.5h1M226 220.5h1M249 212.5h1M230 223.5h1M253 197.5h1M227 213.5h1M248 212.5h1M253 201.5h1M236 183.5h1M231 227.5h1M225 209.5h1M230 198.5h1M253 197.5h1M242 225.5h1M249 207.5h1M239 228.5h1M227 204.5h1M250 181.5h1M230 193.5h1M247 227.5h1M248 224.5h1M227 212.5h1M238 181.5h1M245 219.5h1M227 217.5h1M229 220.5h1M246 219.5h1M233 227.5h1M250 205.5h1M228 224.5h1M226 220.5h1M228 200.5h1M229 197.5h1M243 227.5h1M232 227.5h1M246 219.5h1M226 204.5h1M230 223.5h1M248 214.5h1M247 215.5h1M228 210.5h1M228 207.5h1M230 226.5h1M226 210.5h1M228 210.5h1M227 202.5h1M240 226.5h1M227 214.5h1M230 192.5h1M227 203.5h1M227 220.5h1M227 203.5h1M245 223.5h1M242 179.5h1M227 212.5h1M227 210.5h1M225 211.5h1M227 207.5h1M227 212.5h1M228 204.5h1M227 210.5h1M228 218.5h1M228 206.5h1M250 206.5h1M229 202.5h1M245 179.5h1M243 227.5h1M227 217.5h1M246 218.5h1M228 204.5h1M231 192.5h1M242 227.5h1M248 217.5h1M250 209.5h1M231 225.5h1M247 216.5h1M229 224.5h1M245 227.5h1M249 209.5h1M249 208.5h1M247 226.5h1M246 222.5h1M249 213.5h1M233 227.5h1M249 226.5h1M250 208.5h1M229 226.5h1M244 226.5h1M249 214.5h1M248 214.5h1M229 225.5h1M244 222.5h1M247 217.5h1M249 219.5h1M245 221.5h1M246 219.5h1M247 217.5h1M236 227.5h1M237 227.5h1M247 223.5h1M243 224.5h1M243 227.5h1M229 222.5h1M249 214.5h1M248 222.5h1M243 223.5h1M241 226.5h1M247 218.5h1M246 227.5h1M246 225.5h1M249 222.5h1M238 227.5h1M247 217.5h1M249 218.5h1M245 219.5h1M229 200.5h1M249 226.5h1M242 226.5h1M245 222.5h1M231 227.5h1M247 225.5h1M246 216.5h1M248 224.5h1M236 227.5h1M245 221.5h1M250 210.5h1M230 225.5h1M243 225.5h1M236 227.5h1M244 222.5h1M229 220.5h1M243 227.5h1M236 227.5h1M248 218.5h1M229 220.5h1M248 209.5h1M249 180.5h1M238 181.5h1M243 227.5h1M244 228.5h1M241 228.5h1M244 228.5h1M243 227.5h1M235 227.5h1M232 227.5h1M241 226.5h1M241 226.5h1M247 227.5h1M243 227.5h1M232 226.5h1M244 227.5h1M244 227.5h1M240 227.5h1M248 227.5h1M248 227.5h1M240 227.5h1M241 227.5h1M236 227.5h1M239 227.5h1M246 226.5h1M232 227.5h1M237 228.5h1M239 228.5h1M243 226.5h1M246 227.5h1M239 227.5h1M246 227.5h1M245 228.5h1M248 227.5h1M245 227.5h1M233 227.5h1M239 227.5h1M236 227.5h1M238 227.5h1M236 227.5h1M235 228.5h1" stroke="rgb(43, 71, 214)" stroke-width="1" fill="none"/>
<path d="M250 183.5h1M230 203.5h1M250 183.5h1M239 182.5h1M246 180.5h1M242 180.5h1M243 180.5h1M242 180.5h1M248 182.5h1M241 181.5h1M248 180.5h1M241 181.5h1M234 188.5h1M253 195.5h1M243 180.5h1M232 194.5h1M252 185.5h1M240 181.5h1M241 181.5h1M251 198.5h1M253 192.5h1M231 198.5h1M245 180.5h1M252 188.5h1M236 186.5h1M253 186.5h1M252 184.5h1M241 180.5h1M248 206.5h1M247 181.5h1M240 180.5h1M248 181.5h1M248 182.5h1M247 181.5h1M248 180.5h1M231 198.5h1M253 191.5h1M254 190.5h1M235 189.5h1M238 182.5h1M248 211.5h1M252 199.5h1M235 221.5h1M241 219.5h1M235 226.5h1M246 211.5h1M242 221.5h1M232 222.5h1M231 223.5h1M232 219.5h1M230 209.5h1M229 216.5h1M238 222.5h1M245 212.5h1M230 198.5h1M230 210.5h1M252 200.5h1M237 224.5h1M239 223.5h1M241 220.5h1M231 198.5h1M234 221.5h1M242 216.5h1M240 219.5h1M253 191.5h1M232 199.5h1M230 216.5h1M245 211.5h1M239 221.5h1M252 198.5h1M245 212.5h1M244 214.5h1M232 224.5h1M242 222.5h1M237 223.5h1M229 202.5h1M242 217.5h1M235 223.5h1M237 221.5h1M245 213.5h1M247 215.5h1M242 224.5h1M230 220.5h1M230 208.5h1M241 218.5h1M232 223.5h1M243 217.5h1M235 221.5h1M230 217.5h1M236 185.5h1M229 214.5h1M233 224.5h1M229 217.5h1M231 214.5h1M232 217.5h1M251 198.5h1M232 220.5h1M233 195.5h1M235 224.5h1M238 225.5h1M232 221.5h1M245 214.5h1M239 220.5h1M240 221.5h1M229 206.5h1M245 218.5h1M243 180.5h1M243 214.5h1M229 205.5h1M241 219.5h1M229 210.5h1M229 206.5h1M232 222.5h1M238 222.5h1M230 212.5h1M230 204.5h1M237 222.5h1M230 221.5h1M240 221.5h1M230 216.5h1M230 209.5h1M242 180.5h1M231 221.5h1M230 220.5h1M229 203.5h1M237 223.5h1M229 215.5h1M239 220.5h1M228 212.5h1M247 213.5h1M231 197.5h1M251 198.5h1M232 223.5h1M230 222.5h1M242 219.5h1M241 218.5h1M228 215.5h1M231 222.5h1M230 206.5h1M247 210.5h1M236 226.5h1M241 218.5h1M235 224.5h1M230 198.5h1M249 205.5h1M230 200.5h1M247 209.5h1M242 217.5h1M242 222.5h1M229 214.5h1M230 208.5h1M240 225.5h1M236 222.5h1M230 201.5h1M233 220.5h1M245 219.5h1M230 201.5h1M236 223.5h1M231 220.5h1M248 205.5h1M240 222.5h1M230 204.5h1M233 218.5h1M245 213.5h1M231 199.5h1M230 204.5h1M234 220.5h1M237 224.5h1M246 211.5h1M229 205.5h1M233 221.5h1M229 211.5h1M248 209.5h1M228 204.5h1M231 220.5h1M235 222.5h1M232 198.5h1M242 216.5h1M233 224.5h1M237 222.5h1M229 210.5h1M231 221.5h1M230 215.5h1M232 221.5h1M239 220.5h1M246 216.5h1M230 204.5h1M230 198.5h1M239 226.5h1M243 215.5h1M229 213.5h1M235 225.5h1M229 212.5h1M235 221.5h1M235 223.5h1M229 215.5h1M235 222.5h1M228 216.5h1M238 223.5h1M229 204.5h1M231 219.5h1M240 219.5h1M238 226.5h1M250 203.5h1M237 222.5h1M239 220.5h1M244 220.5h1M233 218.5h1M247 209.5h1M248 210.5h1M230 219.5h1M229 205.5h1M229 217.5h1M231 216.5h1M243 220.5h1M239 221.5h1M229 205.5h1M239 226.5h1M246 217.5h1M244 221.5h1M231 219.5h1M233 225.5h1M231 214.5h1M247 214.5h1M232 219.5h1M240 222.5h1M231 221.5h1M246 210.5h1M234 223.5h1M243 221.5h1M233 223.5h1M246 217.5h1M246 213.5h1M231 217.5h1M229 218.5h1M230 220.5h1M243 218.5h1M234 222.5h1M232 222.5h1M242 221.5h1M245 218.5h1M239 225.5h1M247 211.5h1M243 218.5h1M239 224.5h1M235 223.5h1M235 225.5h1M232 219.5h1M235 225.5h1M231 217.5h1M230 220.5h1M231 216.5h1M249 207.5h1M243 214.5h1M245 212.5h1M233 225.5h1M239 226.5h1M244 215.5h1M229 211.5h1M243 219.5h1M241 223.5h1M247 208.5h1M237 221.5h1M240 223.5h1M229 204.5h1M237 225.5h1M238 226.5h1M242 218.5h1M229 218.5h1M245 180.5h1M248 182.5h1M253 191.5h1M238 226.5h1M238 226.5h1" stroke="rgb(39, 88, 219)" stroke-width="1" fill="none"/>
<path d="M234 194.5h1M233 198.5h1M241 182.5h1M247 204.5h1M250 198.5h1M250 183.5h1M233 197.5h1M240 182.5h1M238 186.5h1M241 182.5h1M242 181.5h1M251 191.5h1M246 181.5h1M234 191.5h1M234 190.5h1M239 183.5h1M250 185.5h1M240 218.5h1M242 182.5h1M234 194.5h1M241 181.5h1M252 192.5h1M232 204.5h1M251 188.5h1M249 202.5h1M234 192.5h1M234 196.5h1M234 190.5h1M252 188.5h1M246 181.5h1M246 205.5h1M248 202.5h1M239 183.5h1M246 182.5h1M244 181.5h1M236 189.5h1M242 182.5h1M251 187.5h1M251 190.5h1M237 186.5h1M250 199.5h1M249 185.5h1M252 191.5h1M249 203.5h1M237 185.5h1M250 187.5h1M249 185.5h1M235 191.5h1M249 183.5h1M249 201.5h1M252 190.5h1M246 205.5h1M251 196.5h1M248 183.5h1M248 183.5h1M232 197.5h1M242 182.5h1M246 182.5h1M235 190.5h1M232 206.5h1M235 219.5h1M234 213.5h1M238 215.5h1M232 207.5h1M237 214.5h1M232 212.5h1M241 214.5h1M244 212.5h1M238 215.5h1M242 212.5h1M232 213.5h1M235 189.5h1M232 200.5h1M244 181.5h1M247 204.5h1M232 201.5h1M237 214.5h1M250 185.5h1M244 213.5h1M252 192.5h1M243 214.5h1M239 217.5h1M242 212.5h1M236 217.5h1M235 220.5h1M245 210.5h1M237 217.5h1M232 203.5h1M245 209.5h1M235 188.5h1M244 210.5h1M237 217.5h1M233 217.5h1M245 207.5h1M237 216.5h1M232 204.5h1M236 219.5h1M234 212.5h1M236 220.5h1M232 204.5h1M230 205.5h1M233 199.5h1M242 213.5h1M232 211.5h1M232 213.5h1M250 200.5h1M237 219.5h1M243 210.5h1M232 211.5h1M235 215.5h1M237 219.5h1M233 205.5h1M241 213.5h1M231 208.5h1M250 200.5h1M250 184.5h1M244 213.5h1M232 210.5h1M243 212.5h1M236 217.5h1M237 215.5h1M233 217.5h1M232 212.5h1M244 213.5h1M235 216.5h1M237 218.5h1M238 216.5h1M244 181.5h1M251 193.5h1M233 215.5h1M234 217.5h1M231 212.5h1M239 214.5h1M236 214.5h1M237 218.5h1M245 209.5h1M235 188.5h1M232 207.5h1M236 217.5h1M231 211.5h1M233 217.5h1M232 215.5h1M233 212.5h1M237 215.5h1M240 215.5h1M231 201.5h1M241 215.5h1M231 208.5h1M232 213.5h1M233 206.5h1M246 209.5h1M235 191.5h1M233 197.5h1M238 217.5h1M235 215.5h1M232 206.5h1M232 197.5h1M238 218.5h1M243 213.5h1M236 220.5h1M249 203.5h1M237 218.5h1M238 215.5h1M235 214.5h1M240 217.5h1M242 213.5h1M238 218.5h1M237 217.5h1M235 214.5h1M235 219.5h1M235 190.5h1M236 220.5h1M233 204.5h1M231 212.5h1M233 211.5h1M233 207.5h1M239 217.5h1M242 214.5h1M233 213.5h1M235 218.5h1M234 218.5h1M232 207.5h1M232 212.5h1M230 210.5h1M245 181.5h1M244 210.5h1M242 210.5h1M248 204.5h1M232 217.5h1M231 208.5h1M233 213.5h1M234 216.5h1M234 214.5h1M233 212.5h1M236 214.5h1M236 218.5h1M251 186.5h1M234 218.5h1M242 213.5h1M232 207.5h1M243 211.5h1M233 209.5h1M237 215.5h1M232 205.5h1M252 195.5h1M243 210.5h1M248 203.5h1M235 220.5h1M231 202.5h1M240 217.5h1M245 208.5h1M245 207.5h1M246 206.5h1M230 206.5h1M231 211.5h1M239 217.5h1M232 207.5h1M233 215.5h1M242 213.5h1M235 215.5h1M245 206.5h1M232 213.5h1M240 214.5h1M239 217.5h1M232 210.5h1M232 213.5h1M236 216.5h1M234 218.5h1M233 211.5h1M245 210.5h1M236 214.5h1M235 218.5h1M233 204.5h1M241 214.5h1M244 208.5h1M238 214.5h1M233 208.5h1M232 215.5h1M232 210.5h1M236 215.5h1M236 219.5h1M236 214.5h1M236 216.5h1M250 200.5h1M233 208.5h1M251 198.5h1M245 181.5h1M249 203.5h1M244 181.5h1M244 181.5h1M249 201.5h1M238 185.5h1" stroke="rgb(35, 105, 225)" stroke-width="1" fill="none"/>
<path d="M243 182.5h1M242 209.5h1M246 203.5h1M233 200.5h1M247 183.5h1M238 188.5h1M250 196.5h1M235 206.5h1M235 195.5h1M249 185.5h1M240 184.5h1M236 190.5h1M247 204.5h1M239 185.5h1M245 183.5h1M248 183.5h1M237 189.5h1M235 194.5h1M240 184.5h1M248 184.5h1M240 184.5h1M244 205.5h1M236 191.5h1M251 191.5h1M235 190.5h1M250 194.5h1M250 199.5h1M248 184.5h1M234 202.5h1M251 191.5h1M237 187.5h1M249 184.5h1M244 182.5h1M235 196.5h1M239 186.5h1M247 183.5h1M234 201.5h1M241 207.5h1M241 183.5h1M245 183.5h1M242 183.5h1M251 194.5h1M240 184.5h1M249 186.5h1M250 193.5h1M248 201.5h1M243 183.5h1M242 206.5h1M246 203.5h1M241 183.5h1M250 194.5h1M251 192.5h1M235 192.5h1M237 212.5h1M249 198.5h1M246 204.5h1M244 182.5h1M237 188.5h1M242 183.5h1M247 203.5h1M250 187.5h1M238 186.5h1M243 183.5h1M245 205.5h1M244 182.5h1M249 187.5h1M233 200.5h1M245 183.5h1M238 211.5h1M235 195.5h1M251 188.5h1M245 182.5h1M249 201.5h1M242 183.5h1M240 209.5h1M251 197.5h1M241 209.5h1M234 211.5h1M234 206.5h1M234 204.5h1M240 211.5h1M234 212.5h1M235 205.5h1M236 212.5h1M240 209.5h1M234 198.5h1M239 210.5h1M236 210.5h1M245 182.5h1M247 201.5h1M237 212.5h1M239 210.5h1M237 212.5h1M235 212.5h1M236 211.5h1M234 210.5h1M236 209.5h1M250 197.5h1M248 201.5h1M238 213.5h1M238 211.5h1M236 212.5h1M245 204.5h1M239 211.5h1M233 208.5h1M234 200.5h1M236 210.5h1M238 209.5h1M240 210.5h1M234 205.5h1M234 207.5h1M238 186.5h1M237 210.5h1M238 212.5h1M233 199.5h1M236 208.5h1M241 210.5h1M240 213.5h1M241 211.5h1M234 201.5h1M250 192.5h1M245 205.5h1M235 204.5h1M233 210.5h1M234 196.5h1M246 204.5h1M236 189.5h1M240 211.5h1M239 212.5h1M235 204.5h1M235 206.5h1M242 208.5h1M234 205.5h1M235 208.5h1M239 209.5h1M240 209.5h1M240 210.5h1M238 211.5h1M234 199.5h1M243 206.5h1M234 205.5h1M234 210.5h1M247 202.5h1M239 212.5h1M234 209.5h1M236 210.5h1M234 210.5h1M234 202.5h1M241 210.5h1M237 213.5h1M241 211.5h1M234 211.5h1M239 209.5h1M243 206.5h1M237 188.5h1M234 208.5h1M236 188.5h1M234 211.5h1M233 206.5h1M235 208.5h1M251 192.5h1M241 211.5h1M234 211.5h1M242 207.5h1M241 208.5h1M235 210.5h1M240 208.5h1M239 210.5h1M239 211.5h1M235 202.5h1M238 212.5h1M239 211.5h1M234 199.5h1M235 199.5h1M242 208.5h1M234 208.5h1M243 206.5h1M234 204.5h1M234 210.5h1M244 208.5h1M235 193.5h1M244 204.5h1M235 194.5h1M245 205.5h1M243 207.5h1M235 209.5h1M234 202.5h1M246 204.5h1M235 205.5h1M235 196.5h1M245 206.5h1M236 190.5h1M241 207.5h1M237 212.5h1M239 209.5h1M241 208.5h1M235 196.5h1M239 211.5h1M247 204.5h1M234 211.5h1M237 212.5h1M234 207.5h1M242 208.5h1M236 194.5h1M235 197.5h1M236 211.5h1M235 203.5h1M239 213.5h1M239 212.5h1M237 210.5h1M234 204.5h1M242 208.5h1M242 206.5h1M236 210.5h1M239 213.5h1M233 206.5h1M235 209.5h1M244 205.5h1M238 213.5h1M240 210.5h1M235 208.5h1M242 207.5h1M235 208.5h1M236 208.5h1M240 209.5h1M235 201.5h1M234 212.5h1M241 208.5h1M243 207.5h1M235 208.5h1M234 201.5h1M241 208.5h1M234 208.5h1M234 206.5h1M236 212.5h1M247 202.5h1M248 203.5h1M241 209.5h1M247 201.5h1M244 206.5h1M246 203.5h1M234 207.5h1M238 213.5h1M244 206.5h1M234 200.5h1M242 211.5h1M243 207.5h1M236 213.5h1M238 210.5h1M234 211.5h1M240 210.5h1M235 211.5h1M235 211.5h1M235 208.5h1M235 200.5h1M236 209.5h1M239 213.5h1M234 202.5h1M236 211.5h1M241 211.5h1M240 212.5h1M247 203.5h1M238 211.5h1M244 208.5h1M241 210.5h1M238 210.5h1M235 210.5h1M241 210.5h1M235 207.5h1M247 203.5h1M247 202.5h1M242 207.5h1M250 195.5h1M245 182.5h1M237 188.5h1M246 183.5h1M236 192.5h1M250 192.5h1M236 191.5h1M245 183.5h1" stroke="rgb(30, 142, 204)" stroke-width="1" fill="none"/>
<path d="M248 186.5h1M243 205.5h1M248 185.5h1M249 196.5h1M247 185.5h1M249 187.5h1M238 189.5h1M240 203.5h1M250 192.5h1M248 200.5h1M249 190.5h1M239 186.5h1M238 203.5h1M249 193.5h1M241 186.5h1M247 185.5h1M236 195.5h1M243 184.5h1M239 187.5h1M247 186.5h1M235 199.5h1M247 200.5h1M247 184.5h1M236 204.5h1M244 202.5h1M236 195.5h1M236 197.5h1M245 202.5h1M249 189.5h1M236 202.5h1M243 204.5h1M236 205.5h1M239 205.5h1M241 206.5h1M249 187.5h1M236 201.5h1M240 187.5h1M244 184.5h1M245 185.5h1M238 187.5h1M244 202.5h1M248 188.5h1M237 192.5h1M250 193.5h1M250 190.5h1M246 184.5h1M240 186.5h1M238 188.5h1M242 185.5h1M235 196.5h1M235 196.5h1M236 197.5h1M246 202.5h1M239 188.5h1M239 205.5h1M239 206.5h1M249 189.5h1M242 185.5h1M250 195.5h1M240 186.5h1M240 203.5h1M250 189.5h1M249 196.5h1M236 192.5h1M236 192.5h1M244 203.5h1M242 185.5h1M237 194.5h1M247 185.5h1M247 184.5h1M237 193.5h1M242 185.5h1M236 203.5h1M241 186.5h1M246 201.5h1M247 185.5h1M250 192.5h1M248 188.5h1M247 186.5h1M249 194.5h1M238 204.5h1M246 185.5h1M236 202.5h1M246 184.5h1M245 184.5h1M239 204.5h1M250 193.5h1M237 196.5h1M237 194.5h1M235 197.5h1M238 189.5h1M247 185.5h1M246 184.5h1M249 190.5h1M242 203.5h1M248 185.5h1M246 201.5h1M246 185.5h1M240 207.5h1M236 192.5h1M236 206.5h1M238 208.5h1M248 198.5h1M236 201.5h1M236 204.5h1M239 206.5h1M248 186.5h1M237 208.5h1M237 203.5h1M239 207.5h1M237 199.5h1M235 204.5h1M236 207.5h1M238 204.5h1M248 188.5h1M238 208.5h1M240 204.5h1M238 209.5h1M248 198.5h1M240 207.5h1M250 191.5h1M236 201.5h1M236 203.5h1M241 204.5h1M238 207.5h1M239 203.5h1M243 204.5h1M243 184.5h1M237 193.5h1M241 206.5h1M241 204.5h1M239 208.5h1M237 198.5h1M240 207.5h1M236 207.5h1M246 185.5h1M236 205.5h1M240 208.5h1M239 186.5h1M238 202.5h1M236 199.5h1M236 202.5h1M242 203.5h1M237 207.5h1M239 187.5h1M249 188.5h1M236 200.5h1M237 203.5h1M236 192.5h1M245 203.5h1M249 195.5h1M237 204.5h1M241 206.5h1M238 204.5h1M237 199.5h1M250 192.5h1M237 208.5h1M236 196.5h1M243 204.5h1M235 198.5h1M242 206.5h1M239 203.5h1M238 209.5h1M239 208.5h1M241 204.5h1M245 202.5h1M237 199.5h1M237 207.5h1M243 185.5h1M239 208.5h1M236 197.5h1M237 206.5h1M245 202.5h1M239 208.5h1M240 205.5h1M237 203.5h1M236 198.5h1M238 207.5h1M237 209.5h1M236 200.5h1M236 205.5h1M249 196.5h1M249 192.5h1M249 194.5h1M240 203.5h1M236 192.5h1M236 192.5h1M238 202.5h1M236 206.5h1M237 202.5h1M235 200.5h1M236 201.5h1M238 204.5h1M240 205.5h1M236 199.5h1M239 205.5h1M238 208.5h1M248 199.5h1M247 200.5h1M237 201.5h1M247 200.5h1M239 203.5h1M250 193.5h1M239 203.5h1M238 206.5h1M240 204.5h1M238 209.5h1M238 190.5h1M235 196.5h1M236 198.5h1M236 191.5h1M237 202.5h1M236 205.5h1M237 206.5h1M247 202.5h1M246 202.5h1M241 206.5h1M241 203.5h1M241 206.5h1M238 207.5h1M235 198.5h1M236 206.5h1M237 208.5h1M235 204.5h1M237 191.5h1M235 196.5h1M237 201.5h1M237 193.5h1M236 197.5h1M237 208.5h1M236 197.5h1M235 198.5h1M247 202.5h1M237 207.5h1M237 206.5h1M242 206.5h1M236 204.5h1M238 209.5h1M246 202.5h1M237 208.5h1M237 205.5h1M239 204.5h1M236 200.5h1M239 204.5h1M237 205.5h1M236 203.5h1M236 200.5h1M239 204.5h1M235 201.5h1M235 202.5h1M246 201.5h1M239 203.5h1M237 204.5h1M244 204.5h1M237 201.5h1M240 206.5h1M244 203.5h1M237 200.5h1M235 202.5h1M240 204.5h1M243 205.5h1M238 203.5h1M247 200.5h1M238 202.5h1M236 203.5h1M239 208.5h1M240 204.5h1M238 208.5h1M244 204.5h1M242 184.5h1M246 201.5h1M243 185.5h1M246 184.5h1M248 198.5h1M239 186.5h1M250 194.5h1M239 187.5h1M250 191.5h1M242 184.5h1M249 195.5h1M250 189.5h1M247 185.5h1M250 193.5h1M241 185.5h1M242 184.5h1M238 191.5h1M247 200.5h1M244 184.5h1M237 197.5h1M243 185.5h1M246 201.5h1M250 190.5h1M237 201.5h1M245 185.5h1M248 200.5h1" stroke="rgb(43, 170, 133)" stroke-width="1" fill="none"/>
<path d="M246 186.5h1M248 189.5h1M248 191.5h1M245 186.5h1M247 187.5h1M243 201.5h1M249 195.5h1M238 198.5h1M237 200.5h1M248 190.5h1M240 200.5h1M240 189.5h1M246 186.5h1M246 186.5h1M249 193.5h1M238 193.5h1M245 199.5h1M243 201.5h1M247 199.5h1M246 186.5h1M249 189.5h1M242 187.5h1M239 189.5h1M245 186.5h1M238 191.5h1M245 186.5h1M248 192.5h1M238 197.5h1M241 188.5h1M247 196.5h1M243 186.5h1M238 202.5h1M239 200.5h1M246 198.5h1M247 189.5h1M240 202.5h1M241 203.5h1M239 192.5h1M239 199.5h1M248 196.5h1M247 189.5h1M243 201.5h1M247 189.5h1M238 192.5h1M248 192.5h1M239 191.5h1M246 186.5h1M238 198.5h1M239 188.5h1M248 196.5h1M238 196.5h1M241 188.5h1M243 201.5h1M248 187.5h1M237 199.5h1M247 189.5h1M247 188.5h1M247 186.5h1M239 189.5h1M247 187.5h1M247 188.5h1M247 197.5h1M247 198.5h1M240 201.5h1M249 189.5h1M247 198.5h1M245 200.5h1M238 202.5h1M248 192.5h1M240 201.5h1M247 187.5h1M245 186.5h1M249 191.5h1M241 186.5h1M238 198.5h1M238 197.5h1M245 186.5h1M244 202.5h1M244 185.5h1M242 186.5h1M239 202.5h1M243 185.5h1M248 197.5h1M246 186.5h1M243 201.5h1M244 201.5h1M237 194.5h1M238 198.5h1M240 201.5h1M244 186.5h1M249 192.5h1M243 202.5h1M242 186.5h1M244 186.5h1M241 187.5h1M246 186.5h1M248 198.5h1M239 190.5h1M247 199.5h1M239 188.5h1M238 193.5h1M240 188.5h1M241 187.5h1M249 191.5h1M243 186.5h1M243 185.5h1M246 186.5h1M238 192.5h1M241 201.5h1M238 190.5h1M238 191.5h1M239 190.5h1M238 192.5h1M243 185.5h1M244 185.5h1M247 198.5h1M246 199.5h1M239 188.5h1M240 201.5h1M248 196.5h1M247 199.5h1M240 202.5h1M248 189.5h1M238 197.5h1M239 200.5h1M239 189.5h1M239 202.5h1M238 201.5h1M240 202.5h1M238 199.5h1M238 202.5h1M243 202.5h1M242 186.5h1M239 197.5h1M248 198.5h1M239 202.5h1M245 199.5h1M246 199.5h1M248 198.5h1M243 201.5h1M245 201.5h1M237 194.5h1M241 201.5h1M237 195.5h1M239 192.5h1M237 200.5h1M239 201.5h1M239 202.5h1M245 200.5h1M242 186.5h1M238 197.5h1M237 198.5h1M243 186.5h1M244 202.5h1M237 194.5h1M237 199.5h1M238 199.5h1M246 199.5h1M240 200.5h1M240 203.5h1M243 202.5h1M239 202.5h1M247 198.5h1M243 202.5h1M238 199.5h1M239 197.5h1M238 200.5h1M248 191.5h1M242 187.5h1M240 200.5h1M244 202.5h1M241 201.5h1M241 202.5h1M240 201.5h1M244 201.5h1M239 197.5h1M249 193.5h1M237 197.5h1M238 200.5h1M237 194.5h1M244 185.5h1M240 200.5h1M243 202.5h1M240 201.5h1M239 202.5h1M245 200.5h1M244 200.5h1M240 202.5h1M244 202.5h1M246 199.5h1M243 201.5h1M239 200.5h1M244 202.5h1M242 201.5h1M246 199.5h1M246 199.5h1M244 201.5h1M242 202.5h1M240 202.5h1M242 201.5h1M238 201.5h1M244 200.5h1M238 202.5h1M246 187.5h1M238 197.5h1M239 189.5h1M238 191.5h1M240 188.5h1M244 186.5h1M244 185.5h1M242 187.5h1M244 185.5h1M245 186.5h1M248 187.5h1M248 188.5h1M238 192.5h1M239 188.5h1M238 197.5h1M245 199.5h1M238 194.5h1M241 187.5h1M238 190.5h1M244 186.5h1M244 185.5h1M248 192.5h1M239 189.5h1M240 188.5h1M249 191.5h1M243 185.5h1M238 193.5h1M242 186.5h1M246 186.5h1M239 190.5h1" stroke="rgb(60, 186, 86)" stroke-width="1" fill="none"/>
<path d="M243 198.5h1M240 200.5h1M241 188.5h1M247 195.5h1M240 191.5h1M240 199.5h1M247 197.5h1M240 196.5h1M244 188.5h1M239 194.5h1M247 192.5h1M240 197.5h1M238 193.5h1M246 191.5h1M247 194.5h1M244 199.5h1M245 197.5h1M239 194.5h1M248 190.5h1M244 188.5h1M243 187.5h1M246 188.5h1M242 188.5h1M247 191.5h1M246 189.5h1M240 198.5h1M247 191.5h1M243 188.5h1M244 188.5h1M245 188.5h1M244 187.5h1M239 192.5h1M245 199.5h1M244 199.5h1M240 191.5h1M243 200.5h1M240 194.5h1M240 195.5h1M241 200.5h1M244 188.5h1M243 187.5h1M245 197.5h1M247 194.5h1M247 192.5h1M241 200.5h1M246 197.5h1M240 197.5h1M245 187.5h1M247 195.5h1M241 189.5h1M239 192.5h1M246 190.5h1M239 195.5h1M247 190.5h1M244 187.5h1M240 193.5h1M245 188.5h1M242 189.5h1M243 199.5h1M247 192.5h1M239 198.5h1M239 199.5h1M245 189.5h1M245 199.5h1M246 196.5h1M247 188.5h1M247 188.5h1M247 195.5h1M246 188.5h1M248 194.5h1M240 196.5h1M243 198.5h1M243 188.5h1M244 198.5h1M244 187.5h1M244 188.5h1M240 199.5h1M244 200.5h1M242 198.5h1M239 192.5h1M245 189.5h1M247 190.5h1M240 189.5h1M247 193.5h1M246 192.5h1M240 199.5h1M239 193.5h1M239 194.5h1M247 191.5h1M241 189.5h1M246 195.5h1M246 195.5h1M245 198.5h1M244 198.5h1M240 200.5h1M240 191.5h1M239 197.5h1M241 190.5h1M239 193.5h1M241 188.5h1M246 196.5h1M241 190.5h1M241 200.5h1M242 199.5h1M242 198.5h1M248 191.5h1M246 191.5h1M240 193.5h1M242 188.5h1M239 195.5h1M248 193.5h1M242 189.5h1M240 189.5h1M243 188.5h1M247 194.5h1M247 194.5h1M244 199.5h1M240 198.5h1M246 188.5h1M243 188.5h1M240 191.5h1M240 197.5h1M242 200.5h1M239 193.5h1M239 194.5h1M239 192.5h1M238 195.5h1M244 188.5h1M241 189.5h1M246 198.5h1M244 187.5h1M247 195.5h1M238 196.5h1M247 195.5h1M244 188.5h1M240 197.5h1M243 199.5h1M242 200.5h1M240 192.5h1M239 190.5h1M248 190.5h1M247 196.5h1M241 199.5h1M244 187.5h1M240 190.5h1M247 189.5h1M241 198.5h1M242 199.5h1M248 191.5h1M246 196.5h1M239 196.5h1M247 194.5h1M239 193.5h1M242 188.5h1M240 195.5h1M239 199.5h1M246 191.5h1M239 196.5h1M242 188.5h1M245 197.5h1M239 191.5h1M245 198.5h1M242 199.5h1M247 193.5h1M247 192.5h1M238 195.5h1M239 197.5h1M246 189.5h1M246 195.5h1M242 198.5h1M246 197.5h1M243 198.5h1M241 189.5h1M239 193.5h1M247 190.5h1M243 188.5h1M247 197.5h1M246 195.5h1M244 198.5h1M240 191.5h1M239 193.5h1M240 199.5h1M240 190.5h1M240 197.5h1M240 195.5h1M241 200.5h1M241 188.5h1M244 199.5h1M240 200.5h1M247 191.5h1M247 193.5h1M247 194.5h1M244 198.5h1M243 198.5h1M247 194.5h1M247 189.5h1M243 200.5h1M246 188.5h1M244 199.5h1M244 199.5h1M246 196.5h1M245 188.5h1M241 198.5h1M246 194.5h1M246 195.5h1M239 195.5h1M245 187.5h1M240 196.5h1M243 200.5h1M243 200.5h1M245 198.5h1M241 198.5h1M240 191.5h1M242 199.5h1M247 195.5h1M240 199.5h1M243 198.5h1M246 198.5h1M242 200.5h1M240 196.5h1M244 198.5h1M242 199.5h1M246 189.5h1M247 188.5h1M244 199.5h1M242 188.5h1M239 194.5h1M247 195.5h1M241 200.5h1M243 187.5h1M245 187.5h1M241 199.5h1M245 198.5h1M248 195.5h1M246 192.5h1M242 198.5h1M240 198.5h1M244 199.5h1M243 198.5h1M241 197.5h1M242 200.5h1M248 193.5h1M247 192.5h1M247 188.5h1M246 190.5h1M239 198.5h1M247 194.5h1M244 199.5h1M239 196.5h1M244 200.5h1M246 189.5h1M247 194.5h1M247 189.5h1M247 192.5h1M245 198.5h1M244 188.5h1M247 191.5h1M247 191.5h1M247 192.5h1M246 194.5h1M245 198.5h1M248 194.5h1M240 192.5h1M242 188.5h1M243 188.5h1M246 197.5h1M245 188.5h1M245 187.5h1M246 194.5h1M247 190.5h1M247 195.5h1M243 187.5h1M243 188.5h1M245 187.5h1M246 191.5h1M243 188.5h1M247 194.5h1M247 196.5h1M245 188.5h1M246 190.5h1M242 199.5h1M244 188.5h1M239 192.5h1M248 193.5h1M238 195.5h1M246 187.5h1M242 188.5h1M239 191.5h1M246 194.5h1M239 192.5h1M246 187.5h1M241 197.5h1M240 190.5h1M244 188.5h1M245 189.5h1M240 191.5h1M239 192.5h1M244 187.5h1M246 195.5h1M243 188.5h1M243 188.5h1M242 200.5h1" stroke="rgb(76, 197, 64)" stroke-width="1" fill="none"/>
<path d="M240 193.5h1M243 195.5h1M246 195.5h1M241 196.5h1M241 196.5h1M246 196.5h1M243 196.5h1M243 190.5h1M245 192.5h1M241 194.5h1M244 189.5h1M243 191.5h1M240 196.5h1M243 197.5h1M243 196.5h1M244 192.5h1M241 194.5h1M241 195.5h1M244 191.5h1M241 196.5h1M243 194.5h1M241 190.5h1M242 195.5h1M244 191.5h1M241 196.5h1M240 195.5h1M243 195.5h1M245 193.5h1M242 196.5h1M245 190.5h1M243 191.5h1M243 195.5h1M244 192.5h1M245 190.5h1M244 195.5h1M243 190.5h1M242 195.5h1M244 194.5h1M245 191.5h1M245 191.5h1M246 193.5h1M244 195.5h1M244 195.5h1M245 193.5h1M246 191.5h1M244 194.5h1M241 193.5h1M244 195.5h1M242 189.5h1M244 190.5h1M241 190.5h1M242 191.5h1M243 195.5h1M241 192.5h1M245 196.5h1M245 192.5h1M241 195.5h1M240 196.5h1M243 190.5h1M244 196.5h1M244 190.5h1M242 197.5h1M242 190.5h1M241 195.5h1M244 196.5h1M241 192.5h1M241 195.5h1M242 190.5h1M246 195.5h1M244 197.5h1M240 196.5h1M243 190.5h1M246 191.5h1M244 192.5h1M244 197.5h1M243 194.5h1M242 190.5h1M243 195.5h1M240 192.5h1M243 193.5h1M245 189.5h1M243 191.5h1M241 196.5h1M245 190.5h1M244 191.5h1M241 193.5h1M242 194.5h1M245 192.5h1M242 193.5h1M244 189.5h1M243 191.5h1M244 192.5h1M243 189.5h1M245 196.5h1M244 196.5h1M244 190.5h1M244 195.5h1M244 190.5h1M243 190.5h1M244 196.5h1M243 192.5h1M244 197.5h1M242 195.5h1M245 191.5h1M245 194.5h1M244 192.5h1M242 190.5h1M244 192.5h1M245 192.5h1M244 190.5h1M245 196.5h1M242 196.5h1M244 189.5h1M243 194.5h1M241 194.5h1M244 197.5h1M243 196.5h1M243 194.5h1M243 193.5h1M242 197.5h1M246 192.5h1M243 196.5h1M242 189.5h1M241 194.5h1M241 194.5h1M244 192.5h1M246 195.5h1M241 192.5h1M243 197.5h1M243 196.5h1M245 190.5h1M242 191.5h1M243 197.5h1M241 194.5h1M242 189.5h1M241 196.5h1M246 190.5h1M242 195.5h1M242 193.5h1M244 190.5h1M246 193.5h1M243 191.5h1M240 193.5h1M245 197.5h1M242 192.5h1M244 195.5h1M243 194.5h1M246 196.5h1M241 191.5h1M242 195.5h1M241 196.5h1M243 193.5h1M245 194.5h1M245 191.5h1M244 189.5h1M243 189.5h1M246 191.5h1M245 194.5h1M245 192.5h1M242 197.5h1M245 195.5h1M244 189.5h1M242 189.5h1M247 193.5h1M240 195.5h1M241 193.5h1M240 195.5h1M243 190.5h1M241 194.5h1M241 195.5h1M244 192.5h1M242 190.5h1M245 192.5h1M241 193.5h1M243 192.5h1M241 195.5h1M246 193.5h1M243 191.5h1M242 193.5h1M244 194.5h1M245 195.5h1M242 196.5h1M245 195.5h1M244 197.5h1M240 196.5h1M243 194.5h1M243 192.5h1M244 193.5h1M241 195.5h1M245 195.5h1M242 197.5h1M242 191.5h1M243 196.5h1M243 190.5h1M243 190.5h1M244 190.5h1M245 197.5h1M243 191.5h1M243 197.5h1M246 195.5h1M240 194.5h1M242 189.5h1M243 191.5h1M241 195.5h1M243 194.5h1M241 195.5h1M244 189.5h1M241 195.5h1M243 197.5h1M242 193.5h1M243 192.5h1M242 193.5h1M241 196.5h1M243 197.5h1M242 194.5h1M246 193.5h1M240 196.5h1M240 193.5h1M246 193.5h1M243 195.5h1M243 190.5h1M243 191.5h1M244 193.5h1M243 190.5h1M244 194.5h1M245 196.5h1M245 196.5h1M243 193.5h1M243 191.5h1M244 195.5h1M241 192.5h1M241 192.5h1M244 197.5h1M243 196.5h1M244 197.5h1M241 196.5h1M242 194.5h1M245 192.5h1M243 191.5h1M242 189.5h1M245 193.5h1M243 189.5h1M243 195.5h1M243 190.5h1M245 196.5h1M242 195.5h1M244 196.5h1M245 196.5h1M244 193.5h1M241 194.5h1M241 191.5h1M244 189.5h1M245 194.5h1M245 195.5h1M245 189.5h1M243 197.5h1M242 197.5h1M243 194.5h1M244 192.5h1M243 192.5h1M246 192.5h1M242 190.5h1M244 189.5h1M244 194.5h1M244 193.5h1M243 189.5h1M245 195.5h1M243 191.5h1M245 191.5h1M244 197.5h1M244 192.5h1M242 193.5h1M241 195.5h1M243 189.5h1M243 191.5h1M244 194.5h1M241 192.5h1M242 196.5h1M241 195.5h1M244 197.5h1M243 189.5h1M246 192.5h1M243 196.5h1M243 191.5h1M241 195.5h1M241 194.5h1M245 193.5h1M241 190.5h1M241 195.5h1M245 196.5h1M243 190.5h1M241 193.5h1M245 193.5h1M246 196.5h1M244 195.5h1M246 195.5h1M243 195.5h1M244 195.5h1M244 196.5h1M245 191.5h1M244 195.5h1M241 190.5h1M242 190.5h1M244 192.5h1M243 191.5h1M242 197.5h1M242 193.5h1M243 191.5h1M242 194.5h1M241 193.5h1M243 190.5h1M243 194.5h1M245 192.5h1M242 189.5h1M242 189.5h1M245 193.5h1M242 194.5h1M243 194.5h1M245 196.5h1M244 189.5h1M245 193.5h1M246 196.5h1M240 195.5h1M243 190.5h1M244 190.5h1M242 190.5h1M244 197.5h1M242 192.5h1" stroke="rgb(146, 213, 46)" stroke-width="1" fill="none"/>
<path d="M244 193.5h1M244 193.5h1" stroke="rgb(230, 200, 30)" stroke-width="1" fill="none"/>
<line x1="225.00" y1="228.20" x2="252.00" y2="228.20" stroke="#a03848" stroke-width="1.3"/>
<line x1="221.00" y1="228.20" x2="225.00" y2="228.20" stroke="#50a060" stroke-width="1.3"/>
</g>
<line x1="203.75" y1="125.00" x2="203.75" y2="229.00" stroke="#262626" stroke-width="1.5"/>
<line x1="164.50" y1="181.50" x2="267.50" y2="181.50" stroke="#262626" stroke-width="1.5"/>
<rect x="164.50" y="125.00" width="103.00" height="104.00" fill="none" stroke="#444" stroke-width="1.3"/>
<g>
<path d="M52 355.5h1M51 293.5h1M61 348.5h1M76 349.5h1M54 348.5h1M71 296.5h1M51 301.5h1M115 287.5h1" stroke="rgb(115, 115, 230)" stroke-width="1" fill="none"/>
<path d="M52 312.5h1M68 339.5h1M60 337.5h1M58 317.5h1M86 290.5h1M83 291.5h1M52 306.5h1M54 311.5h1M79 315.5h1M74 341.5h1M84 356.5h1M71 346.5h1M83 291.5h1M71 356.5h1M73 357.5h1M56 324.5h1M52 334.5h1M60 320.5h1M55 323.5h1M65 333.5h1M57 319.5h1M60 323.5h1M61 325.5h1M57 331.5h1M71 338.5h1M55 333.5h1M62 320.5h1M61 328.5h1M130 331.5h1M130 329.5h1M80 309.5h1M85 305.5h1M136 322.5h1M128 299.5h1M100 294.5h1M102 298.5h1M105 295.5h1M133 315.5h1M113 292.5h1M135 319.5h1M120 296.5h1M123 297.5h1M119 296.5h1M104 291.5h1M133 305.5h1M116 364.5h1M122 350.5h1M84 359.5h1M120 363.5h1M129 356.5h1M124 353.5h1M91 363.5h1M88 361.5h1M111 367.5h1M114 367.5h1M86 352.5h1M125 361.5h1M94 366.5h1" stroke="rgb(95, 101, 225)" stroke-width="1" fill="none"/>
<path d="M72 322.5h1M71 321.5h1M70 324.5h1M78 334.5h1M66 331.5h1M79 334.5h1M70 321.5h1M79 333.5h1M76 320.5h1M71 330.5h1M73 331.5h1M72 330.5h1M71 331.5h1M66 322.5h1M81 334.5h1M71 322.5h1M69 322.5h1M68 323.5h1M74 319.5h1M74 321.5h1M77 333.5h1M86 314.5h1M69 334.5h1M72 321.5h1M85 335.5h1M68 327.5h1M68 329.5h1M69 326.5h1M96 303.5h1M130 314.5h1M126 328.5h1M76 321.5h1M128 323.5h1M118 339.5h1M118 338.5h1M85 315.5h1M84 314.5h1M128 312.5h1M124 331.5h1M88 307.5h1M90 307.5h1M126 331.5h1M82 335.5h1M127 329.5h1M90 305.5h1M81 317.5h1M128 321.5h1M91 308.5h1M118 297.5h1M123 303.5h1M88 339.5h1M110 299.5h1M128 317.5h1M128 311.5h1M128 311.5h1M128 316.5h1M105 299.5h1M90 339.5h1M129 315.5h1M115 299.5h1M126 302.5h1M120 301.5h1M125 301.5h1M126 301.5h1M121 355.5h1M89 345.5h1M93 359.5h1M121 341.5h1M91 341.5h1M89 360.5h1M90 355.5h1M119 350.5h1M107 366.5h1M96 360.5h1M116 361.5h1M95 364.5h1M91 349.5h1M94 364.5h1M121 339.5h1M94 356.5h1M100 364.5h1M108 364.5h1M100 364.5h1M90 351.5h1M100 364.5h1M117 356.5h1M106 367.5h1M92 349.5h1M88 356.5h1M90 353.5h1M118 341.5h1M120 349.5h1M90 339.5h1M116 342.5h1M96 363.5h1M98 364.5h1M91 354.5h1M116 361.5h1M94 360.5h1M119 354.5h1M119 353.5h1M94 354.5h1M92 355.5h1M121 337.5h1M117 346.5h1M100 367.5h1M87 339.5h1M85 339.5h1" stroke="rgb(76, 87, 220)" stroke-width="1" fill="none"/>
<path d="M73 327.5h1M74 328.5h1M71 327.5h1M86 331.5h1M78 322.5h1M74 329.5h1M79 327.5h1M82 328.5h1M74 327.5h1M78 323.5h1M83 321.5h1M75 329.5h1M77 330.5h1M82 326.5h1M82 327.5h1M72 327.5h1M81 325.5h1M84 329.5h1M91 334.5h1M85 326.5h1M76 324.5h1M76 327.5h1M80 322.5h1M77 326.5h1M80 329.5h1M79 326.5h1M79 328.5h1M70 326.5h1M84 333.5h1M78 328.5h1M76 329.5h1M83 332.5h1M85 319.5h1M91 339.5h1M81 321.5h1M74 328.5h1M73 325.5h1M78 326.5h1M79 325.5h1M76 326.5h1M73 326.5h1M83 326.5h1M122 305.5h1M88 335.5h1M90 313.5h1M84 319.5h1M88 332.5h1M124 311.5h1M93 309.5h1M124 325.5h1M114 337.5h1M115 337.5h1M83 319.5h1M113 341.5h1M98 347.5h1M87 330.5h1M82 326.5h1M87 332.5h1M93 308.5h1M126 320.5h1M109 302.5h1M119 334.5h1M93 310.5h1M87 315.5h1M121 331.5h1M95 308.5h1M86 318.5h1M96 307.5h1M120 333.5h1M127 322.5h1M90 333.5h1M95 307.5h1M91 311.5h1M117 337.5h1M84 319.5h1M78 330.5h1M98 306.5h1M100 304.5h1M103 302.5h1M81 332.5h1M109 303.5h1M90 335.5h1M126 317.5h1M119 304.5h1M117 304.5h1M123 309.5h1M103 304.5h1M116 302.5h1M85 329.5h1M119 304.5h1M121 307.5h1M113 303.5h1M111 303.5h1M96 346.5h1M112 303.5h1M123 306.5h1M120 304.5h1M85 331.5h1M115 302.5h1M100 305.5h1M118 304.5h1M116 302.5h1M117 303.5h1M125 319.5h1M123 305.5h1M114 302.5h1M125 320.5h1M114 301.5h1M91 334.5h1M117 304.5h1M95 348.5h1M95 347.5h1M112 356.5h1M116 338.5h1M101 364.5h1M91 340.5h1M115 342.5h1M114 352.5h1M94 346.5h1M104 363.5h1M114 351.5h1M95 343.5h1M94 344.5h1M103 361.5h1M99 357.5h1M112 356.5h1M104 360.5h1M96 341.5h1M111 341.5h1M99 354.5h1M103 364.5h1M101 361.5h1M102 359.5h1M98 352.5h1M112 346.5h1M110 344.5h1M114 351.5h1M113 354.5h1M99 345.5h1M111 357.5h1M109 361.5h1M96 348.5h1M99 358.5h1M114 354.5h1M114 352.5h1M93 341.5h1M111 343.5h1M112 356.5h1M114 356.5h1M112 357.5h1M99 353.5h1M111 358.5h1M111 360.5h1M97 341.5h1M112 356.5h1M109 361.5h1M108 360.5h1M94 349.5h1M107 362.5h1M111 360.5h1M101 359.5h1M106 360.5h1M96 357.5h1M111 339.5h1M95 342.5h1M112 357.5h1M113 343.5h1M101 360.5h1M100 356.5h1M116 349.5h1M112 346.5h1M99 361.5h1M114 347.5h1M110 358.5h1M97 345.5h1M111 357.5h1M101 363.5h1M114 348.5h1M113 351.5h1M115 358.5h1M94 346.5h1M100 357.5h1M92 343.5h1M106 362.5h1M97 347.5h1M97 351.5h1M96 347.5h1M95 343.5h1M113 348.5h1M94 350.5h1M113 360.5h1M98 355.5h1M115 355.5h1M97 351.5h1M114 353.5h1M102 359.5h1" stroke="rgb(56, 73, 215)" stroke-width="1" fill="none"/>
<path d="M86 325.5h1M87 324.5h1M88 325.5h1M87 321.5h1M88 322.5h1M89 331.5h1M91 316.5h1M115 307.5h1M94 337.5h1M102 306.5h1M122 324.5h1M122 312.5h1M116 332.5h1M120 310.5h1M87 319.5h1M100 307.5h1M89 319.5h1M118 332.5h1M122 327.5h1M93 311.5h1M122 315.5h1M89 319.5h1M118 305.5h1M103 339.5h1M93 311.5h1M119 307.5h1M122 311.5h1M119 309.5h1M106 338.5h1M120 328.5h1M87 324.5h1M98 338.5h1M98 309.5h1M103 340.5h1M86 327.5h1M118 331.5h1M106 306.5h1M99 308.5h1M123 320.5h1M94 310.5h1M118 333.5h1M112 336.5h1M122 311.5h1M96 338.5h1M88 326.5h1M100 349.5h1M121 329.5h1M122 313.5h1M121 327.5h1M105 340.5h1M120 329.5h1M97 309.5h1M123 318.5h1M123 317.5h1M104 306.5h1M92 313.5h1M88 320.5h1M105 339.5h1M96 336.5h1M121 312.5h1M88 322.5h1M120 330.5h1M95 335.5h1M123 322.5h1M121 311.5h1M124 319.5h1M122 310.5h1M89 329.5h1M122 324.5h1M98 340.5h1M119 308.5h1M123 313.5h1M115 304.5h1M91 332.5h1M116 333.5h1M105 306.5h1M100 343.5h1M105 306.5h1M122 315.5h1M123 313.5h1M100 306.5h1M113 304.5h1M108 304.5h1M87 323.5h1M88 319.5h1M119 307.5h1M108 304.5h1M102 338.5h1M98 337.5h1M117 305.5h1M90 331.5h1M121 309.5h1M122 328.5h1M119 309.5h1M96 309.5h1M111 304.5h1M124 316.5h1M112 304.5h1M115 335.5h1M109 354.5h1M105 346.5h1M109 343.5h1M112 336.5h1M104 349.5h1M105 351.5h1M100 338.5h1M102 338.5h1M103 357.5h1M101 357.5h1M108 343.5h1M101 339.5h1M103 350.5h1M107 352.5h1M106 356.5h1M100 347.5h1M117 333.5h1M109 355.5h1M104 342.5h1M105 343.5h1M104 357.5h1M104 359.5h1M108 337.5h1M108 350.5h1M104 346.5h1M101 346.5h1M99 342.5h1M100 343.5h1M114 334.5h1M112 353.5h1M107 346.5h1M107 358.5h1M99 341.5h1M102 356.5h1M110 353.5h1M101 349.5h1M107 338.5h1M101 349.5h1M103 349.5h1M100 339.5h1M107 350.5h1M111 349.5h1M103 355.5h1M111 349.5h1M101 354.5h1M102 347.5h1M106 343.5h1M105 347.5h1M103 342.5h1M107 341.5h1M108 350.5h1M104 340.5h1M103 341.5h1M110 350.5h1M105 353.5h1M102 353.5h1M101 350.5h1M104 355.5h1M108 349.5h1M104 359.5h1M107 344.5h1M111 355.5h1M107 345.5h1M106 343.5h1M107 340.5h1M97 336.5h1M101 345.5h1M109 344.5h1M108 339.5h1M103 350.5h1M110 351.5h1M103 344.5h1M103 356.5h1M103 352.5h1M100 350.5h1M104 349.5h1M106 347.5h1M109 347.5h1M98 339.5h1M103 348.5h1M107 356.5h1M110 345.5h1M110 351.5h1M100 352.5h1M110 350.5h1M103 358.5h1M108 346.5h1M104 357.5h1M107 356.5h1M106 341.5h1M108 349.5h1M109 351.5h1M103 354.5h1M105 359.5h1M111 355.5h1M99 341.5h1M101 353.5h1M112 349.5h1M104 350.5h1M107 346.5h1M103 353.5h1M107 350.5h1M104 355.5h1M106 349.5h1M108 351.5h1M106 353.5h1M103 356.5h1M106 355.5h1M110 346.5h1M110 338.5h1M108 350.5h1M106 341.5h1M112 352.5h1M105 341.5h1M104 357.5h1M104 358.5h1M112 352.5h1M109 347.5h1M109 350.5h1M103 342.5h1M102 352.5h1M100 351.5h1" stroke="rgb(43, 71, 214)" stroke-width="1" fill="none"/>
<path d="M91 327.5h1M91 326.5h1M90 325.5h1M91 329.5h1M113 333.5h1M97 311.5h1M107 308.5h1M98 310.5h1M116 309.5h1M103 308.5h1M97 312.5h1M118 330.5h1M113 334.5h1M89 323.5h1M108 306.5h1M100 335.5h1M95 331.5h1M98 335.5h1M89 323.5h1M96 333.5h1M89 321.5h1M119 328.5h1M121 318.5h1M111 335.5h1M96 333.5h1M90 322.5h1M121 316.5h1M99 337.5h1M122 321.5h1M122 322.5h1M116 331.5h1M102 336.5h1M96 335.5h1M103 335.5h1M102 335.5h1M90 320.5h1M111 334.5h1M107 337.5h1M111 307.5h1M118 310.5h1M107 307.5h1M94 315.5h1M122 323.5h1M117 331.5h1M98 335.5h1M107 308.5h1M95 314.5h1M106 336.5h1M122 320.5h1M109 306.5h1M121 323.5h1M90 323.5h1M92 317.5h1M105 308.5h1M116 309.5h1M99 337.5h1M121 323.5h1M101 336.5h1M94 333.5h1M89 326.5h1M94 332.5h1M111 308.5h1M93 331.5h1M120 316.5h1M108 308.5h1M97 334.5h1M121 321.5h1M97 333.5h1M117 308.5h1M103 337.5h1M116 330.5h1M107 335.5h1M93 316.5h1M91 317.5h1M118 310.5h1M89 320.5h1M111 333.5h1M121 319.5h1M118 310.5h1M122 320.5h1M105 308.5h1M119 326.5h1M96 334.5h1M106 307.5h1M89 326.5h1M106 337.5h1M90 320.5h1M94 315.5h1M98 311.5h1M110 334.5h1M109 335.5h1M104 336.5h1M118 310.5h1M103 308.5h1M106 335.5h1M120 327.5h1M113 334.5h1M100 336.5h1M118 312.5h1M117 311.5h1M120 315.5h1M96 313.5h1M99 309.5h1M89 323.5h1M120 326.5h1M93 329.5h1M108 307.5h1M96 311.5h1M118 311.5h1M90 326.5h1M116 309.5h1M118 310.5h1M110 307.5h1M110 307.5h1M117 311.5h1M116 309.5h1M110 307.5h1M103 307.5h1M110 306.5h1M112 307.5h1M92 328.5h1M97 311.5h1M122 318.5h1M113 308.5h1M115 308.5h1M120 315.5h1M98 336.5h1M98 311.5h1M96 335.5h1M95 334.5h1M103 307.5h1M111 307.5h1M121 313.5h1M104 308.5h1M97 312.5h1M117 308.5h1M102 309.5h1M116 310.5h1M122 316.5h1M110 334.5h1M107 306.5h1M121 315.5h1M112 334.5h1M104 307.5h1M120 324.5h1M121 319.5h1M106 336.5h1M106 336.5h1M101 337.5h1M107 336.5h1M99 334.5h1M99 335.5h1M99 337.5h1" stroke="rgb(39, 88, 219)" stroke-width="1" fill="none"/>
<path d="M92 323.5h1M92 323.5h1M93 325.5h1M94 327.5h1M109 310.5h1M93 319.5h1M91 322.5h1M92 326.5h1M104 333.5h1M93 321.5h1M116 311.5h1M98 331.5h1M92 324.5h1M116 327.5h1M117 326.5h1M109 332.5h1M100 334.5h1M92 326.5h1M118 325.5h1M95 317.5h1M103 310.5h1M101 333.5h1M113 311.5h1M120 321.5h1M104 310.5h1M119 316.5h1M120 322.5h1M105 310.5h1M104 333.5h1M92 324.5h1M105 310.5h1M116 329.5h1M117 313.5h1M104 334.5h1M111 332.5h1M108 310.5h1M116 313.5h1M102 311.5h1M96 330.5h1M115 328.5h1M101 334.5h1M117 327.5h1M97 332.5h1M109 333.5h1M95 315.5h1M112 310.5h1M98 313.5h1M100 334.5h1M118 317.5h1M115 330.5h1M111 310.5h1M92 319.5h1M95 316.5h1M119 324.5h1M111 310.5h1M97 332.5h1M117 328.5h1M110 333.5h1M102 311.5h1M100 334.5h1M91 325.5h1M95 316.5h1M96 329.5h1M92 325.5h1M93 318.5h1M95 315.5h1M117 326.5h1M96 329.5h1M110 332.5h1M105 334.5h1M97 330.5h1M93 325.5h1M104 334.5h1M105 310.5h1M94 318.5h1M113 330.5h1M93 320.5h1M114 312.5h1M91 325.5h1M93 319.5h1M92 325.5h1M91 322.5h1M117 314.5h1M93 328.5h1M103 311.5h1M96 331.5h1M92 325.5h1M110 310.5h1M118 326.5h1M103 309.5h1M109 309.5h1M98 332.5h1M110 332.5h1M95 328.5h1M103 310.5h1M119 318.5h1M113 310.5h1M117 328.5h1M103 310.5h1M118 317.5h1M99 311.5h1M101 333.5h1M92 324.5h1M95 329.5h1M116 311.5h1M106 310.5h1M117 314.5h1M120 319.5h1M119 316.5h1M113 331.5h1M119 325.5h1M91 321.5h1M97 330.5h1M101 332.5h1M118 325.5h1M116 313.5h1M91 321.5h1M96 331.5h1M118 327.5h1M110 310.5h1M110 332.5h1M118 317.5h1M100 332.5h1M95 317.5h1M105 309.5h1M119 319.5h1M103 309.5h1M101 310.5h1M102 333.5h1M119 320.5h1M117 312.5h1M103 310.5h1M111 310.5h1M115 330.5h1M105 310.5h1M93 321.5h1M119 321.5h1M118 314.5h1M103 334.5h1M103 310.5h1M112 311.5h1M97 313.5h1M111 309.5h1M107 310.5h1M100 312.5h1M115 310.5h1M116 311.5h1M98 312.5h1M118 317.5h1M101 310.5h1M92 327.5h1M119 318.5h1M114 312.5h1M106 309.5h1M119 325.5h1M94 328.5h1M118 313.5h1M95 329.5h1M119 321.5h1M96 315.5h1M93 319.5h1M110 332.5h1M96 329.5h1M97 331.5h1M107 334.5h1M106 333.5h1M100 334.5h1" stroke="rgb(35, 105, 225)" stroke-width="1" fill="none"/>
<path d="M105 331.5h1M95 327.5h1M112 329.5h1M104 311.5h1M97 328.5h1M107 311.5h1M97 328.5h1M95 326.5h1M101 314.5h1M117 319.5h1M94 323.5h1M118 319.5h1M98 315.5h1M102 330.5h1M110 311.5h1M109 331.5h1M97 329.5h1M95 322.5h1M101 313.5h1M115 327.5h1M96 327.5h1M97 316.5h1M104 311.5h1M114 314.5h1M113 329.5h1M99 330.5h1M106 332.5h1M94 319.5h1M117 325.5h1M94 324.5h1M107 332.5h1M95 327.5h1M114 328.5h1M116 326.5h1M98 328.5h1M114 328.5h1M115 326.5h1M115 315.5h1M118 322.5h1M94 323.5h1M95 327.5h1M111 330.5h1M108 312.5h1M94 325.5h1M118 323.5h1M100 331.5h1M115 326.5h1M105 332.5h1M108 312.5h1M97 315.5h1M96 316.5h1M103 313.5h1M113 328.5h1M96 326.5h1M95 324.5h1M117 324.5h1M112 313.5h1M97 317.5h1M101 330.5h1M96 318.5h1M95 323.5h1M113 313.5h1M112 312.5h1M104 331.5h1M100 331.5h1M94 321.5h1M114 327.5h1M114 313.5h1M94 324.5h1M95 322.5h1M113 329.5h1M102 330.5h1M96 328.5h1M96 328.5h1M116 324.5h1M107 332.5h1M95 322.5h1M97 317.5h1M96 328.5h1M94 320.5h1M97 328.5h1M115 326.5h1M102 331.5h1M95 323.5h1M116 317.5h1M99 330.5h1M96 319.5h1M108 312.5h1M100 331.5h1M95 320.5h1M101 330.5h1M107 331.5h1M102 331.5h1M117 320.5h1M95 325.5h1M102 313.5h1M116 317.5h1M99 329.5h1M95 322.5h1M117 319.5h1M94 321.5h1M94 322.5h1M95 325.5h1M106 331.5h1M117 322.5h1M95 320.5h1M116 325.5h1M97 316.5h1M110 312.5h1M94 320.5h1M96 316.5h1M108 311.5h1M112 312.5h1M117 318.5h1M95 321.5h1M117 322.5h1M108 331.5h1M109 331.5h1M118 321.5h1M118 321.5h1M109 311.5h1M113 328.5h1M94 319.5h1M97 315.5h1M100 330.5h1M101 312.5h1M109 331.5h1M101 312.5h1M116 324.5h1M116 317.5h1M93 322.5h1M118 322.5h1M101 314.5h1M95 323.5h1M111 330.5h1M101 313.5h1M116 324.5h1M94 326.5h1M98 316.5h1M97 317.5h1M118 318.5h1M118 321.5h1M102 332.5h1M104 331.5h1M96 317.5h1M97 317.5h1M117 317.5h1M117 316.5h1M99 329.5h1M95 323.5h1M108 311.5h1M95 323.5h1M97 315.5h1M117 322.5h1M115 327.5h1M103 332.5h1M95 325.5h1M109 330.5h1M111 312.5h1M114 314.5h1M98 330.5h1M116 317.5h1M109 330.5h1M116 315.5h1M97 315.5h1M109 311.5h1M111 311.5h1M108 312.5h1M116 314.5h1M101 331.5h1M114 314.5h1M94 325.5h1M100 313.5h1M114 314.5h1M115 313.5h1M109 331.5h1M111 312.5h1M95 321.5h1M116 326.5h1M103 331.5h1M97 328.5h1M96 326.5h1M100 313.5h1M109 331.5h1M97 328.5h1M116 315.5h1M108 312.5h1M115 326.5h1M101 331.5h1M94 321.5h1M116 314.5h1M113 313.5h1M108 311.5h1M116 315.5h1M109 331.5h1M104 331.5h1M109 312.5h1M100 314.5h1M116 317.5h1M96 326.5h1M107 331.5h1M101 312.5h1M106 312.5h1M111 312.5h1M109 330.5h1M96 326.5h1M96 318.5h1M95 326.5h1M99 315.5h1M96 319.5h1M117 321.5h1M96 316.5h1M95 327.5h1M117 322.5h1M99 329.5h1" stroke="rgb(30, 142, 204)" stroke-width="1" fill="none"/>
<path d="M116 322.5h1M115 321.5h1M99 317.5h1M100 327.5h1M115 317.5h1M101 316.5h1M109 328.5h1M114 316.5h1M107 313.5h1M114 323.5h1M102 328.5h1M110 328.5h1M109 329.5h1M113 314.5h1M115 316.5h1M96 324.5h1M108 329.5h1M112 328.5h1M107 314.5h1M101 316.5h1M99 326.5h1M103 329.5h1M107 314.5h1M108 313.5h1M114 317.5h1M114 324.5h1M111 315.5h1M96 323.5h1M99 326.5h1M96 322.5h1M116 320.5h1M114 317.5h1M111 313.5h1M96 323.5h1M108 329.5h1M115 317.5h1M98 326.5h1M103 329.5h1M107 330.5h1M107 330.5h1M115 324.5h1M106 314.5h1M106 330.5h1M96 320.5h1M115 316.5h1M115 321.5h1M106 329.5h1M103 315.5h1M101 328.5h1M115 322.5h1M107 314.5h1M115 324.5h1M107 329.5h1M112 328.5h1M97 323.5h1M96 321.5h1M104 330.5h1M106 329.5h1M96 325.5h1M114 323.5h1M116 323.5h1M101 329.5h1M103 315.5h1M100 327.5h1M104 314.5h1M110 328.5h1M103 329.5h1M107 329.5h1M98 325.5h1M106 314.5h1M115 318.5h1M113 314.5h1M113 327.5h1M97 323.5h1M113 327.5h1M103 314.5h1M103 314.5h1M102 329.5h1M112 326.5h1M112 326.5h1M113 316.5h1M107 330.5h1M96 325.5h1M115 321.5h1M100 327.5h1M110 314.5h1M99 317.5h1M105 313.5h1M115 317.5h1M97 325.5h1M106 330.5h1M107 329.5h1M98 325.5h1M108 330.5h1M115 324.5h1M102 314.5h1M104 313.5h1M116 323.5h1M98 327.5h1M115 318.5h1M103 330.5h1M114 323.5h1M114 317.5h1M104 329.5h1M103 329.5h1M115 324.5h1M114 316.5h1M107 330.5h1M116 318.5h1M97 320.5h1M100 315.5h1M105 329.5h1M98 325.5h1M115 319.5h1M102 315.5h1M116 320.5h1M108 329.5h1M97 320.5h1M97 324.5h1M99 328.5h1M115 322.5h1M107 330.5h1M114 323.5h1M101 316.5h1M113 314.5h1M102 315.5h1M115 322.5h1M109 328.5h1M104 314.5h1M115 324.5h1M110 328.5h1M96 322.5h1M110 329.5h1M113 325.5h1M114 316.5h1M107 313.5h1M106 313.5h1M97 322.5h1M115 322.5h1M97 327.5h1M114 326.5h1M107 330.5h1M107 330.5h1M96 320.5h1M96 324.5h1M96 323.5h1M98 326.5h1M99 317.5h1M106 314.5h1M115 323.5h1M101 315.5h1M102 315.5h1M111 314.5h1M116 318.5h1M101 316.5h1M111 328.5h1M111 315.5h1M98 319.5h1M101 316.5h1M110 313.5h1M97 320.5h1M115 318.5h1M106 314.5h1M115 318.5h1M111 315.5h1M97 319.5h1M111 315.5h1M100 327.5h1M110 328.5h1M107 329.5h1M98 325.5h1M114 323.5h1M108 313.5h1M97 325.5h1M98 325.5h1M106 314.5h1M109 313.5h1M100 315.5h1M115 321.5h1M114 316.5h1M109 313.5h1M113 314.5h1M97 322.5h1M97 323.5h1M100 315.5h1M111 315.5h1M109 328.5h1M114 315.5h1M114 317.5h1M108 314.5h1M97 322.5h1M112 314.5h1M96 322.5h1M100 315.5h1M98 318.5h1M109 314.5h1M112 315.5h1M111 314.5h1M100 328.5h1M115 322.5h1M102 328.5h1M115 321.5h1M113 316.5h1M97 323.5h1M110 313.5h1M116 322.5h1M112 314.5h1M103 315.5h1M110 313.5h1M113 316.5h1M104 329.5h1M97 324.5h1M97 322.5h1M116 322.5h1M113 326.5h1M113 315.5h1M115 322.5h1M104 314.5h1M115 321.5h1M116 320.5h1M102 315.5h1M116 320.5h1M115 322.5h1M113 326.5h1M107 329.5h1M98 317.5h1M98 318.5h1M109 313.5h1M115 320.5h1M114 324.5h1M114 318.5h1M97 326.5h1M97 321.5h1M98 327.5h1" stroke="rgb(43, 170, 133)" stroke-width="1" fill="none"/>
<path d="M108 316.5h1M109 316.5h1M112 321.5h1M105 328.5h1M108 315.5h1M107 316.5h1M107 327.5h1M102 318.5h1M112 321.5h1M100 317.5h1M112 316.5h1M114 320.5h1M99 324.5h1M98 321.5h1M108 326.5h1M101 317.5h1M113 323.5h1M108 327.5h1M98 320.5h1M100 326.5h1M111 316.5h1M107 327.5h1M104 315.5h1M110 327.5h1M111 324.5h1M103 328.5h1M100 319.5h1M111 324.5h1M100 326.5h1M100 324.5h1M113 322.5h1M108 326.5h1M110 317.5h1M101 325.5h1M112 321.5h1M105 316.5h1M113 317.5h1M100 324.5h1M112 325.5h1M113 318.5h1M101 317.5h1M112 319.5h1M99 321.5h1M110 325.5h1M109 326.5h1M106 315.5h1M100 317.5h1M113 323.5h1M113 322.5h1M99 320.5h1M101 327.5h1M112 324.5h1M108 315.5h1M104 315.5h1M113 320.5h1M98 322.5h1M104 316.5h1M99 318.5h1M100 323.5h1M112 324.5h1M100 321.5h1M110 315.5h1M112 323.5h1M112 321.5h1M111 316.5h1M104 327.5h1M101 325.5h1M109 326.5h1M99 320.5h1M102 317.5h1M112 319.5h1M110 316.5h1M105 327.5h1M102 327.5h1M99 319.5h1M111 318.5h1M111 324.5h1M99 319.5h1M108 315.5h1M100 326.5h1M102 326.5h1M101 318.5h1M108 327.5h1M111 325.5h1M113 320.5h1M107 327.5h1M99 320.5h1M106 315.5h1M100 325.5h1M114 321.5h1M108 326.5h1M112 324.5h1M111 325.5h1M100 323.5h1M99 321.5h1M113 323.5h1M111 318.5h1M105 328.5h1M113 317.5h1M110 316.5h1M112 322.5h1M101 325.5h1M100 324.5h1M100 326.5h1M110 327.5h1M108 326.5h1M101 327.5h1M101 317.5h1M110 326.5h1M112 322.5h1M100 319.5h1M100 318.5h1M100 321.5h1M108 328.5h1M110 325.5h1M113 320.5h1M107 316.5h1M100 325.5h1M104 326.5h1M111 326.5h1M112 319.5h1M112 317.5h1M104 315.5h1M109 315.5h1M104 327.5h1M105 316.5h1M102 318.5h1M113 323.5h1M101 326.5h1M114 321.5h1M102 327.5h1M108 315.5h1M99 320.5h1M110 327.5h1M102 317.5h1M109 327.5h1M100 325.5h1M113 319.5h1M113 320.5h1M107 327.5h1M112 323.5h1M104 326.5h1M111 318.5h1M99 320.5h1M112 318.5h1M100 318.5h1M100 323.5h1M112 320.5h1M100 319.5h1M112 320.5h1M114 322.5h1M113 321.5h1M111 326.5h1M113 319.5h1M105 327.5h1M108 327.5h1M102 326.5h1M98 324.5h1M112 322.5h1M101 327.5h1M110 325.5h1M102 316.5h1M101 327.5h1M110 325.5h1M108 328.5h1M100 323.5h1M103 316.5h1M104 316.5h1M102 318.5h1M108 327.5h1M99 320.5h1M104 328.5h1M108 328.5h1M99 321.5h1M99 323.5h1M110 327.5h1M99 323.5h1M103 328.5h1M102 317.5h1M112 320.5h1M112 324.5h1M98 322.5h1M103 316.5h1M113 318.5h1M106 316.5h1M105 327.5h1M108 315.5h1M108 326.5h1M100 326.5h1M104 315.5h1M102 318.5h1M114 321.5h1M109 315.5h1M103 328.5h1M112 324.5h1M112 323.5h1M104 326.5h1M101 326.5h1M110 316.5h1M100 320.5h1M103 316.5h1M107 316.5h1M113 324.5h1M106 316.5h1M114 321.5h1M100 321.5h1M103 327.5h1M113 317.5h1M112 324.5h1M103 317.5h1M114 321.5h1M102 317.5h1M103 316.5h1M114 320.5h1M105 316.5h1M110 316.5h1M112 317.5h1M102 326.5h1M114 319.5h1M109 326.5h1M100 324.5h1M102 326.5h1M110 326.5h1M110 327.5h1M113 319.5h1M111 318.5h1M113 319.5h1M108 316.5h1M102 318.5h1M100 320.5h1M108 328.5h1M111 317.5h1M108 315.5h1M98 320.5h1M104 316.5h1M113 323.5h1M112 319.5h1M113 318.5h1M113 317.5h1M100 323.5h1M108 327.5h1M110 316.5h1M104 326.5h1M107 328.5h1M103 316.5h1M102 316.5h1M113 319.5h1M99 318.5h1M107 328.5h1M101 325.5h1M110 315.5h1M99 323.5h1M106 327.5h1M99 322.5h1M110 317.5h1M110 315.5h1M102 317.5h1M100 325.5h1M99 323.5h1M98 320.5h1M108 315.5h1M108 328.5h1M104 316.5h1M114 320.5h1M110 325.5h1M100 321.5h1M101 326.5h1M114 322.5h1M105 327.5h1M99 320.5h1M104 326.5h1M101 318.5h1M112 325.5h1M112 322.5h1M99 322.5h1M100 325.5h1M113 317.5h1M107 327.5h1M99 323.5h1M104 327.5h1M99 325.5h1M108 328.5h1M100 320.5h1M98 323.5h1M100 318.5h1M99 321.5h1M112 319.5h1M100 319.5h1M105 327.5h1M112 323.5h1M107 316.5h1M111 318.5h1M102 318.5h1M102 326.5h1M100 321.5h1M99 320.5h1M105 328.5h1M107 328.5h1M102 326.5h1M112 323.5h1M99 320.5h1M111 325.5h1" stroke="rgb(60, 186, 86)" stroke-width="1" fill="none"/>
<path d="M106 326.5h1M104 320.5h1M107 324.5h1M101 324.5h1M104 320.5h1M104 325.5h1M107 325.5h1M107 323.5h1M104 320.5h1M108 322.5h1M107 320.5h1M102 325.5h1M104 319.5h1M108 322.5h1M110 320.5h1M105 320.5h1M104 321.5h1M108 318.5h1M104 319.5h1M109 321.5h1M107 326.5h1M102 322.5h1M105 317.5h1M103 322.5h1M107 320.5h1M107 326.5h1M103 320.5h1M101 319.5h1M107 326.5h1M110 323.5h1M110 322.5h1M106 318.5h1M108 324.5h1M105 318.5h1M101 319.5h1M103 323.5h1M109 320.5h1M108 317.5h1M105 319.5h1M107 318.5h1M110 323.5h1M107 319.5h1M100 322.5h1M110 320.5h1M107 326.5h1M110 321.5h1M108 319.5h1M108 317.5h1M103 323.5h1M106 318.5h1M107 326.5h1M110 319.5h1M104 322.5h1M106 324.5h1M106 326.5h1M109 325.5h1M108 320.5h1M108 323.5h1M110 320.5h1M107 317.5h1M106 319.5h1M110 320.5h1M104 324.5h1M109 322.5h1M105 325.5h1M107 320.5h1M105 326.5h1M108 324.5h1M101 319.5h1M106 325.5h1M102 324.5h1M105 319.5h1M101 320.5h1M103 325.5h1M103 324.5h1M107 322.5h1M108 320.5h1M111 319.5h1M108 317.5h1M109 323.5h1M110 318.5h1M102 325.5h1M111 321.5h1M103 321.5h1M103 320.5h1M110 320.5h1M101 320.5h1M109 317.5h1M102 322.5h1M109 320.5h1M104 321.5h1M110 324.5h1M101 323.5h1M105 320.5h1M105 323.5h1M105 323.5h1M104 324.5h1M100 322.5h1M101 320.5h1M108 319.5h1M105 318.5h1M107 317.5h1M105 318.5h1M102 323.5h1M104 325.5h1M111 321.5h1M111 319.5h1M106 319.5h1M101 322.5h1M105 324.5h1M104 321.5h1M105 326.5h1M106 323.5h1M109 324.5h1M103 318.5h1M103 320.5h1M107 324.5h1M102 319.5h1M102 325.5h1M101 322.5h1M107 323.5h1M102 321.5h1M101 320.5h1M110 320.5h1M107 319.5h1M106 318.5h1M108 317.5h1M103 321.5h1M103 321.5h1M108 320.5h1M105 320.5h1M108 317.5h1M104 321.5h1M105 318.5h1M111 320.5h1M106 324.5h1M106 326.5h1M108 317.5h1M109 321.5h1M105 320.5h1M106 323.5h1M107 323.5h1M102 323.5h1M108 322.5h1M104 320.5h1M104 325.5h1M102 322.5h1M106 326.5h1M108 325.5h1M104 319.5h1M108 325.5h1M109 321.5h1M107 325.5h1M103 319.5h1M108 320.5h1M105 325.5h1M103 322.5h1M109 320.5h1M103 319.5h1M106 318.5h1M106 323.5h1M103 321.5h1M104 320.5h1M107 324.5h1M106 324.5h1M102 325.5h1M107 319.5h1M101 320.5h1M101 323.5h1M105 324.5h1M109 324.5h1M105 323.5h1M102 320.5h1M104 323.5h1M104 324.5h1M107 325.5h1M111 323.5h1M107 318.5h1M108 321.5h1M104 320.5h1M104 322.5h1M107 319.5h1M106 318.5h1M105 318.5h1M110 321.5h1M109 317.5h1M109 320.5h1M109 319.5h1M108 319.5h1M111 319.5h1M103 318.5h1M111 319.5h1M109 320.5h1M110 320.5h1M103 319.5h1M102 320.5h1M108 320.5h1M109 317.5h1M111 320.5h1M103 321.5h1M106 317.5h1M105 319.5h1M102 320.5h1M108 325.5h1M108 325.5h1M107 323.5h1M108 317.5h1M104 321.5h1M110 323.5h1M101 319.5h1M104 318.5h1M110 319.5h1M104 317.5h1M102 322.5h1M102 320.5h1M110 318.5h1M100 322.5h1M108 322.5h1M104 317.5h1M109 318.5h1M101 322.5h1M108 322.5h1M106 326.5h1M105 319.5h1M104 322.5h1M105 318.5h1M109 317.5h1M103 322.5h1M100 322.5h1M104 323.5h1M108 321.5h1M111 323.5h1M104 319.5h1M102 322.5h1M102 322.5h1M111 320.5h1M110 318.5h1M103 319.5h1M104 321.5h1M108 319.5h1M102 324.5h1M103 324.5h1M101 321.5h1M104 319.5h1M102 325.5h1M102 319.5h1M110 323.5h1M105 317.5h1M110 324.5h1M110 323.5h1M107 323.5h1M105 319.5h1M102 322.5h1M107 317.5h1M102 321.5h1M109 325.5h1M102 319.5h1M109 322.5h1M111 319.5h1M109 324.5h1M103 322.5h1M104 322.5h1M109 319.5h1M110 324.5h1M103 319.5h1M104 319.5h1M102 323.5h1M110 321.5h1M109 321.5h1M111 320.5h1M107 322.5h1M110 323.5h1M109 320.5h1M104 323.5h1M103 325.5h1M106 324.5h1M109 317.5h1M105 318.5h1M104 324.5h1M103 321.5h1M108 319.5h1M104 323.5h1M102 322.5h1M108 321.5h1M104 320.5h1M103 323.5h1M107 324.5h1M108 320.5h1M108 323.5h1M109 322.5h1M110 322.5h1M103 319.5h1M105 323.5h1M111 321.5h1M103 320.5h1M111 322.5h1M103 324.5h1M106 323.5h1M101 321.5h1M110 324.5h1M102 320.5h1M101 322.5h1M108 317.5h1M107 326.5h1M107 325.5h1M105 324.5h1M101 324.5h1M108 321.5h1M106 323.5h1M105 319.5h1M106 323.5h1M102 322.5h1M108 320.5h1M110 321.5h1M108 319.5h1M108 319.5h1M102 322.5h1M106 326.5h1M104 319.5h1M103 322.5h1M106 323.5h1M108 318.5h1M108 322.5h1M107 324.5h1M109 323.5h1M104 318.5h1M105 320.5h1M109 321.5h1M108 317.5h1M110 319.5h1M103 325.5h1M109 318.5h1M101 319.5h1M102 325.5h1M104 322.5h1M109 324.5h1M109 320.5h1M103 322.5h1M105 325.5h1M110 320.5h1M105 325.5h1M105 319.5h1M109 318.5h1M109 322.5h1M111 322.5h1M109 319.5h1M108 324.5h1M106 324.5h1M107 322.5h1M107 320.5h1M111 322.5h1M107 317.5h1M107 319.5h1M103 325.5h1M108 325.5h1M103 322.5h1M107 318.5h1M108 322.5h1M104 320.5h1M102 322.5h1M102 320.5h1M101 321.5h1M103 323.5h1M106 319.5h1M106 320.5h1M111 319.5h1M110 320.5h1M108 318.5h1M104 319.5h1M102 322.5h1M111 321.5h1M106 325.5h1M110 324.5h1M104 323.5h1" stroke="rgb(76, 197, 64)" stroke-width="1" fill="none"/>
<path d="M105 321.5h1M107 321.5h1M106 321.5h1M106 321.5h1M105 322.5h1M106 321.5h1M106 322.5h1M107 321.5h1M107 321.5h1M107 321.5h1M105 321.5h1M105 322.5h1M105 321.5h1M107 321.5h1M105 322.5h1M106 321.5h1M106 322.5h1M105 321.5h1M106 322.5h1M106 321.5h1M105 322.5h1" stroke="rgb(146, 213, 46)" stroke-width="1" fill="none"/>
<line x1="96.00" y1="366.80" x2="115.00" y2="366.80" stroke="#e0607a" stroke-width="1.6"/>
<line x1="92.00" y1="366.80" x2="96.00" y2="366.80" stroke="#d8c860" stroke-width="1.6"/>
<line x1="115.00" y1="366.80" x2="122.00" y2="366.80" stroke="#e8a070" stroke-width="1.6"/>
</g>
<line x1="89.00" y1="265.00" x2="89.00" y2="368.00" stroke="#262626" stroke-width="1.5"/>
<line x1="47.00" y1="338.20" x2="150.40" y2="338.20" stroke="#262626" stroke-width="1.5"/>
<rect x="47.00" y="265.00" width="103.40" height="103.00" fill="none" stroke="#444" stroke-width="1.3"/>
<g>
<path d="M166 326.5h1M199 358.5h1M180 307.5h1M179 316.5h1M179 308.5h1M177 343.5h1M167 349.5h1M193 338.5h1M178 346.5h1M202 349.5h1M172 308.5h1M177 341.5h1M173 296.5h1M176 306.5h1M188 345.5h1M174 321.5h1M170 330.5h1M187 339.5h1M173 323.5h1M179 333.5h1M174 319.5h1M199 339.5h1M176 331.5h1M253 313.5h1M217 293.5h1M252 301.5h1M205 339.5h1M244 287.5h1M246 332.5h1M253 324.5h1M248 292.5h1M202 359.5h1M199 348.5h1M246 351.5h1" stroke="rgb(95, 101, 225)" stroke-width="1" fill="none"/>
<path d="M180 321.5h1M185 332.5h1M190 317.5h1M189 336.5h1M197 319.5h1M197 315.5h1M193 335.5h1M198 328.5h1M198 329.5h1M187 319.5h1M181 326.5h1M180 330.5h1M190 319.5h1M189 317.5h1M182 329.5h1M181 327.5h1M191 316.5h1M198 332.5h1M193 318.5h1M199 320.5h1M184 317.5h1M183 322.5h1M189 319.5h1M200 328.5h1M181 325.5h1M198 321.5h1M201 320.5h1M199 331.5h1M182 324.5h1M188 331.5h1M212 302.5h1M251 302.5h1M217 299.5h1M201 315.5h1M201 316.5h1M233 290.5h1M249 320.5h1M203 327.5h1M215 300.5h1M227 294.5h1M210 306.5h1M208 334.5h1M248 323.5h1M248 317.5h1M203 316.5h1M249 307.5h1M214 300.5h1M195 318.5h1M251 301.5h1M213 302.5h1M218 296.5h1M234 289.5h1M250 316.5h1M246 299.5h1M240 291.5h1M245 290.5h1M235 290.5h1M230 289.5h1M241 289.5h1M235 360.5h1M236 350.5h1M235 362.5h1M238 348.5h1M238 349.5h1M212 364.5h1M232 364.5h1M220 365.5h1M210 359.5h1M201 330.5h1M206 340.5h1M214 362.5h1M218 365.5h1M216 365.5h1M204 348.5h1M213 365.5h1M235 343.5h1M236 365.5h1M238 336.5h1M236 364.5h1M211 360.5h1M235 352.5h1M238 341.5h1M231 367.5h1M234 343.5h1M209 360.5h1M219 366.5h1" stroke="rgb(76, 87, 220)" stroke-width="1" fill="none"/>
<path d="M196 329.5h1M190 326.5h1M189 326.5h1M187 329.5h1M190 329.5h1M207 321.5h1M199 324.5h1M187 328.5h1M185 323.5h1M194 323.5h1M193 325.5h1M182 324.5h1M190 328.5h1M203 323.5h1M193 327.5h1M190 329.5h1M185 327.5h1M203 326.5h1M193 324.5h1M192 329.5h1M193 325.5h1M196 326.5h1M207 319.5h1M190 327.5h1M190 325.5h1M198 325.5h1M187 322.5h1M193 326.5h1M188 322.5h1M192 331.5h1M192 324.5h1M194 323.5h1M188 321.5h1M191 325.5h1M187 329.5h1M187 330.5h1M190 327.5h1M184 327.5h1M193 327.5h1M190 325.5h1M201 323.5h1M186 323.5h1M186 326.5h1M189 323.5h1M205 327.5h1M186 325.5h1M223 298.5h1M213 305.5h1M213 339.5h1M248 303.5h1M213 335.5h1M246 305.5h1M211 330.5h1M238 334.5h1M205 321.5h1M245 317.5h1M213 307.5h1M211 332.5h1M247 322.5h1M227 297.5h1M242 326.5h1M247 319.5h1M207 327.5h1M207 326.5h1M241 328.5h1M247 310.5h1M246 318.5h1M246 311.5h1M205 321.5h1M214 336.5h1M212 333.5h1M244 302.5h1M205 321.5h1M206 319.5h1M211 336.5h1M223 296.5h1M211 310.5h1M232 337.5h1M244 325.5h1M207 318.5h1M244 326.5h1M242 292.5h1M207 329.5h1M204 320.5h1M211 312.5h1M229 294.5h1M245 299.5h1M219 299.5h1M245 302.5h1M228 294.5h1M208 329.5h1M235 291.5h1M243 327.5h1M210 310.5h1M230 341.5h1M237 291.5h1M242 295.5h1M231 293.5h1M244 300.5h1M238 294.5h1M232 293.5h1M238 290.5h1M233 291.5h1M240 295.5h1M229 297.5h1M243 298.5h1M237 294.5h1M224 362.5h1M212 353.5h1M220 364.5h1M208 346.5h1M231 344.5h1M214 354.5h1M225 365.5h1M209 350.5h1M210 350.5h1M233 356.5h1M211 346.5h1M212 339.5h1M227 364.5h1M221 360.5h1M232 361.5h1M211 331.5h1M210 355.5h1M212 343.5h1M226 362.5h1M229 360.5h1M208 350.5h1M227 363.5h1M226 364.5h1M231 348.5h1M212 345.5h1M233 354.5h1M221 361.5h1M230 362.5h1M232 358.5h1M213 356.5h1M232 342.5h1M232 340.5h1M230 341.5h1M210 350.5h1M219 362.5h1M211 351.5h1M231 341.5h1M228 364.5h1M231 339.5h1M220 364.5h1M215 361.5h1M232 360.5h1M231 356.5h1M209 345.5h1M227 361.5h1M208 350.5h1M236 335.5h1M234 338.5h1M229 360.5h1M233 360.5h1M238 334.5h1M215 355.5h1M230 359.5h1M231 363.5h1M227 365.5h1M222 366.5h1M233 356.5h1M224 361.5h1M213 355.5h1M234 354.5h1M214 355.5h1M215 356.5h1M228 360.5h1M231 352.5h1M232 355.5h1M218 365.5h1M208 346.5h1M210 342.5h1M230 347.5h1M218 358.5h1M230 345.5h1M231 363.5h1M235 336.5h1M232 345.5h1M221 364.5h1M209 348.5h1M230 364.5h1" stroke="rgb(56, 73, 215)" stroke-width="1" fill="none"/>
<path d="M209 328.5h1M236 330.5h1M217 334.5h1M240 325.5h1M242 303.5h1M245 309.5h1M213 308.5h1M234 332.5h1M241 326.5h1M214 307.5h1M231 298.5h1M209 318.5h1M243 316.5h1M243 321.5h1M244 307.5h1M228 336.5h1M214 330.5h1M223 336.5h1M215 305.5h1M218 304.5h1M218 306.5h1M245 305.5h1M237 329.5h1M228 335.5h1M232 333.5h1M209 319.5h1M237 328.5h1M228 341.5h1M216 337.5h1M221 339.5h1M242 318.5h1M225 337.5h1M229 336.5h1M223 338.5h1M243 301.5h1M243 321.5h1M244 306.5h1M243 303.5h1M211 313.5h1M211 326.5h1M211 331.5h1M243 318.5h1M223 301.5h1M238 299.5h1M237 331.5h1M217 334.5h1M240 299.5h1M220 338.5h1M207 321.5h1M243 324.5h1M244 309.5h1M240 327.5h1M218 339.5h1M242 311.5h1M235 298.5h1M230 351.5h1M244 306.5h1M245 306.5h1M240 301.5h1M222 337.5h1M239 296.5h1M216 335.5h1M239 298.5h1M222 301.5h1M224 302.5h1M210 318.5h1M242 323.5h1M240 300.5h1M242 305.5h1M232 298.5h1M242 308.5h1M231 297.5h1M218 305.5h1M242 302.5h1M216 335.5h1M244 312.5h1M230 297.5h1M216 306.5h1M240 301.5h1M218 305.5h1M219 339.5h1M224 300.5h1M236 296.5h1M240 299.5h1M225 299.5h1M242 309.5h1M240 301.5h1M242 306.5h1M237 296.5h1M236 297.5h1M236 295.5h1M232 297.5h1M240 298.5h1M237 298.5h1M235 296.5h1M243 309.5h1M236 296.5h1M227 298.5h1M240 297.5h1M244 305.5h1M240 297.5h1M217 342.5h1M223 350.5h1M215 343.5h1M221 357.5h1M230 350.5h1M222 355.5h1M230 351.5h1M228 349.5h1M218 351.5h1M223 358.5h1M223 360.5h1M224 339.5h1M225 357.5h1M223 344.5h1M227 340.5h1M223 359.5h1M220 335.5h1M227 355.5h1M226 348.5h1M214 354.5h1M225 343.5h1M228 350.5h1M226 344.5h1M225 342.5h1M230 358.5h1M219 340.5h1M223 355.5h1M226 348.5h1M218 340.5h1M222 340.5h1M217 349.5h1M219 353.5h1M214 351.5h1M221 356.5h1M218 344.5h1M229 356.5h1M218 349.5h1M227 352.5h1M220 348.5h1M218 351.5h1M224 349.5h1M210 328.5h1M218 346.5h1M219 338.5h1M217 353.5h1M221 350.5h1M215 344.5h1M223 350.5h1M225 341.5h1M222 345.5h1M226 343.5h1M224 352.5h1M220 357.5h1M223 356.5h1M215 352.5h1M214 346.5h1M215 353.5h1M227 353.5h1M225 342.5h1M226 350.5h1M217 347.5h1M226 357.5h1M225 346.5h1M221 355.5h1M220 336.5h1M220 348.5h1M225 350.5h1M225 352.5h1M227 346.5h1M229 354.5h1M219 339.5h1M231 352.5h1M224 345.5h1M217 354.5h1M229 353.5h1M216 348.5h1M227 341.5h1M220 337.5h1M221 345.5h1M227 348.5h1M225 357.5h1M215 345.5h1M215 347.5h1M227 355.5h1M219 345.5h1M216 339.5h1M226 346.5h1M227 354.5h1M213 342.5h1M223 350.5h1M225 344.5h1M216 347.5h1M221 345.5h1M227 345.5h1M227 356.5h1M219 355.5h1M218 346.5h1M213 349.5h1M218 349.5h1M212 351.5h1M227 348.5h1M221 353.5h1M216 341.5h1M234 333.5h1M224 351.5h1M227 341.5h1M220 352.5h1M216 343.5h1M216 339.5h1M226 351.5h1M213 335.5h1M219 348.5h1M224 349.5h1M226 354.5h1M214 343.5h1M225 358.5h1M223 341.5h1M214 346.5h1M216 355.5h1M221 354.5h1M228 337.5h1M231 355.5h1M221 345.5h1M219 339.5h1M222 346.5h1M222 354.5h1M220 352.5h1M227 356.5h1M218 349.5h1M224 347.5h1M218 347.5h1M225 354.5h1M226 354.5h1M225 341.5h1M224 341.5h1M223 354.5h1M221 358.5h1M223 358.5h1M221 346.5h1M214 345.5h1M217 346.5h1M222 346.5h1M224 347.5h1M222 351.5h1M227 342.5h1M228 340.5h1M212 347.5h1M213 351.5h1M220 346.5h1M219 357.5h1M220 335.5h1M218 346.5h1M214 343.5h1M219 349.5h1M226 350.5h1M218 345.5h1M216 355.5h1M214 350.5h1M214 347.5h1M235 332.5h1M229 350.5h1M221 340.5h1M214 343.5h1M221 337.5h1M215 352.5h1M217 351.5h1M222 346.5h1M232 333.5h1M230 351.5h1M227 350.5h1M224 344.5h1M219 349.5h1M215 342.5h1M228 355.5h1M222 353.5h1M223 345.5h1M216 343.5h1M223 338.5h1M217 344.5h1" stroke="rgb(43, 71, 214)" stroke-width="1" fill="none"/>
<path d="M231 333.5h1M217 330.5h1M234 330.5h1M216 329.5h1M237 304.5h1M227 334.5h1M210 323.5h1M225 304.5h1M216 328.5h1M236 330.5h1M230 334.5h1M220 332.5h1M233 301.5h1M218 332.5h1M213 313.5h1M239 322.5h1M240 317.5h1M236 327.5h1M241 309.5h1M234 301.5h1M236 327.5h1M241 311.5h1M211 323.5h1M222 335.5h1M223 336.5h1M240 314.5h1M241 322.5h1M241 322.5h1M238 328.5h1M222 333.5h1M239 308.5h1M210 322.5h1M241 309.5h1M216 309.5h1M211 323.5h1M212 317.5h1M243 312.5h1M241 318.5h1M221 305.5h1M238 326.5h1M219 334.5h1M239 325.5h1M213 316.5h1M241 313.5h1M217 307.5h1M241 317.5h1M241 322.5h1M220 331.5h1M228 301.5h1M242 317.5h1M215 330.5h1M241 315.5h1M224 336.5h1M210 323.5h1M226 334.5h1M212 314.5h1M240 310.5h1M218 305.5h1M212 326.5h1M235 302.5h1M225 303.5h1M213 327.5h1M240 307.5h1M241 321.5h1M211 326.5h1M237 327.5h1M213 327.5h1M222 335.5h1M227 333.5h1M240 319.5h1M210 318.5h1M214 328.5h1M233 331.5h1M217 331.5h1M221 333.5h1M237 304.5h1M237 302.5h1M212 324.5h1M225 302.5h1M218 308.5h1M230 334.5h1M212 324.5h1M228 332.5h1M222 333.5h1M235 329.5h1M211 324.5h1M241 324.5h1M232 300.5h1M213 315.5h1M231 333.5h1M236 303.5h1M212 322.5h1M218 306.5h1M239 321.5h1M218 307.5h1M225 302.5h1M239 324.5h1M214 329.5h1M218 306.5h1M216 311.5h1M233 300.5h1M221 334.5h1M219 305.5h1M214 327.5h1M211 323.5h1M239 307.5h1M240 312.5h1M239 304.5h1M240 313.5h1M236 300.5h1M210 318.5h1M240 315.5h1M236 299.5h1M240 303.5h1M230 301.5h1M220 306.5h1M236 301.5h1M219 307.5h1M215 309.5h1M213 314.5h1M221 304.5h1M210 321.5h1M239 304.5h1M235 301.5h1M213 325.5h1M237 304.5h1M216 331.5h1M226 303.5h1M219 334.5h1M241 314.5h1M239 323.5h1M241 323.5h1M239 305.5h1M224 303.5h1M224 303.5h1M237 300.5h1M235 299.5h1M228 303.5h1M237 301.5h1M234 298.5h1M235 299.5h1M222 304.5h1M239 301.5h1M235 299.5h1M235 298.5h1M234 299.5h1M234 302.5h1M232 301.5h1M231 299.5h1M235 301.5h1M234 298.5h1M239 304.5h1M236 299.5h1M228 334.5h1M219 334.5h1M220 332.5h1M221 349.5h1M224 335.5h1M221 348.5h1" stroke="rgb(39, 88, 219)" stroke-width="1" fill="none"/>
<path d="M213 322.5h1M238 305.5h1M237 304.5h1M238 321.5h1M213 318.5h1M213 322.5h1M215 323.5h1M224 332.5h1M234 305.5h1M217 329.5h1M226 330.5h1M212 323.5h1M215 325.5h1M215 328.5h1M228 330.5h1M220 307.5h1M225 331.5h1M235 327.5h1M232 304.5h1M237 324.5h1M235 326.5h1M239 311.5h1M215 312.5h1M219 329.5h1M212 318.5h1M222 330.5h1M215 325.5h1M228 305.5h1M228 331.5h1M214 317.5h1M239 318.5h1M221 331.5h1M219 329.5h1M240 315.5h1M237 325.5h1M240 309.5h1M223 307.5h1M216 327.5h1M235 305.5h1M226 330.5h1M221 331.5h1M225 306.5h1M213 318.5h1M237 307.5h1M234 303.5h1M213 315.5h1M237 322.5h1M220 307.5h1M238 307.5h1M228 331.5h1M238 324.5h1M220 330.5h1M214 323.5h1M230 304.5h1M230 304.5h1M230 330.5h1M221 306.5h1M222 332.5h1M231 331.5h1M238 319.5h1M236 323.5h1M236 306.5h1M215 314.5h1M236 304.5h1M215 316.5h1M231 305.5h1M219 330.5h1M229 331.5h1M239 318.5h1M237 306.5h1M235 326.5h1M228 330.5h1M232 305.5h1M229 331.5h1M224 332.5h1M213 314.5h1M237 306.5h1M218 327.5h1M227 331.5h1M213 322.5h1M213 323.5h1M232 305.5h1M227 331.5h1M218 329.5h1M231 303.5h1M218 308.5h1M236 306.5h1M239 310.5h1M238 323.5h1M225 304.5h1M230 330.5h1M233 328.5h1M213 324.5h1M239 307.5h1M219 330.5h1M214 313.5h1M240 319.5h1M220 331.5h1M216 328.5h1M225 332.5h1M239 321.5h1M215 325.5h1M224 331.5h1M224 333.5h1M231 330.5h1M216 326.5h1M223 305.5h1M219 309.5h1M237 307.5h1M230 303.5h1M239 320.5h1M237 322.5h1M229 304.5h1M237 325.5h1M222 331.5h1M238 307.5h1M239 311.5h1M216 326.5h1M238 319.5h1M212 319.5h1M235 306.5h1M216 325.5h1M234 303.5h1M217 330.5h1M222 305.5h1M218 328.5h1M214 320.5h1M233 305.5h1M234 302.5h1M231 329.5h1M236 306.5h1M237 304.5h1M236 306.5h1M234 328.5h1M213 317.5h1M232 330.5h1M216 325.5h1M231 303.5h1M238 310.5h1M232 304.5h1M234 304.5h1M229 305.5h1M220 332.5h1M213 322.5h1M240 312.5h1M238 312.5h1M238 316.5h1M240 313.5h1M238 315.5h1M213 320.5h1M224 305.5h1M226 304.5h1M232 304.5h1M239 314.5h1M228 304.5h1M233 328.5h1M238 315.5h1M229 303.5h1M238 313.5h1M238 309.5h1M223 306.5h1M230 330.5h1M240 310.5h1M223 307.5h1M213 316.5h1M227 331.5h1M230 303.5h1M222 306.5h1M216 313.5h1M238 312.5h1M233 303.5h1M225 306.5h1M212 320.5h1M215 325.5h1M238 310.5h1M234 304.5h1M236 308.5h1M232 304.5h1M237 308.5h1M237 310.5h1M231 303.5h1M237 305.5h1M234 305.5h1M234 305.5h1M239 312.5h1M227 331.5h1M224 333.5h1" stroke="rgb(35, 105, 225)" stroke-width="1" fill="none"/>
<path d="M216 319.5h1M237 322.5h1M224 307.5h1M216 315.5h1M224 329.5h1M227 329.5h1M230 306.5h1M216 319.5h1M236 311.5h1M235 324.5h1M237 322.5h1M232 326.5h1M232 308.5h1M214 320.5h1M230 306.5h1M232 325.5h1M218 312.5h1M217 314.5h1M237 313.5h1M223 308.5h1M237 320.5h1M221 308.5h1M222 327.5h1M222 328.5h1M236 316.5h1M221 309.5h1M237 322.5h1M233 308.5h1M216 319.5h1M218 324.5h1M224 328.5h1M215 319.5h1M235 309.5h1M229 327.5h1M237 319.5h1M218 326.5h1M236 322.5h1M235 321.5h1M237 312.5h1M227 329.5h1M215 318.5h1M235 324.5h1M214 320.5h1M238 315.5h1M216 320.5h1M236 320.5h1M237 314.5h1M229 305.5h1M216 319.5h1M237 315.5h1M227 328.5h1M231 329.5h1M234 307.5h1M235 311.5h1M225 307.5h1M219 327.5h1M215 321.5h1M223 329.5h1M225 329.5h1M219 311.5h1M231 307.5h1M231 306.5h1M233 309.5h1M226 329.5h1M218 324.5h1M236 315.5h1M226 307.5h1M237 318.5h1M238 316.5h1M224 329.5h1M234 327.5h1M216 324.5h1M233 326.5h1M221 308.5h1M217 316.5h1M216 320.5h1M231 326.5h1M216 316.5h1M237 316.5h1M234 310.5h1M233 306.5h1M235 310.5h1M215 317.5h1M216 323.5h1M216 320.5h1M237 316.5h1M218 326.5h1M223 308.5h1M229 307.5h1M229 329.5h1M225 307.5h1M232 307.5h1M228 306.5h1M216 322.5h1M222 329.5h1M236 324.5h1M225 307.5h1M221 328.5h1M229 328.5h1M218 326.5h1M222 327.5h1M227 329.5h1M230 327.5h1M236 308.5h1M216 318.5h1M237 316.5h1M215 318.5h1M225 329.5h1M226 328.5h1M221 309.5h1M222 329.5h1M230 328.5h1M216 321.5h1M225 306.5h1M238 314.5h1M235 324.5h1M218 326.5h1M231 308.5h1M228 306.5h1M236 316.5h1M234 324.5h1M234 327.5h1M217 311.5h1M219 327.5h1M217 326.5h1M215 323.5h1M217 322.5h1M218 328.5h1M231 308.5h1M216 321.5h1M226 307.5h1M233 325.5h1M225 306.5h1M215 318.5h1M236 319.5h1M217 325.5h1M219 328.5h1M232 306.5h1M216 316.5h1M223 308.5h1M215 324.5h1M235 322.5h1M229 307.5h1M234 307.5h1M223 328.5h1M229 306.5h1M216 322.5h1M232 308.5h1M217 316.5h1M222 307.5h1M231 307.5h1M215 317.5h1M238 315.5h1M237 316.5h1M232 308.5h1M236 323.5h1M215 320.5h1M216 318.5h1M226 305.5h1M217 313.5h1M225 308.5h1M221 327.5h1M217 316.5h1M229 306.5h1M230 307.5h1M234 306.5h1M217 324.5h1M217 316.5h1M219 327.5h1M236 318.5h1M231 306.5h1M219 326.5h1M233 306.5h1M215 315.5h1M225 307.5h1M236 312.5h1M233 308.5h1M231 306.5h1M237 312.5h1M224 329.5h1M218 311.5h1M215 316.5h1M230 327.5h1M222 329.5h1" stroke="rgb(30, 142, 204)" stroke-width="1" fill="none"/>
<path d="M233 308.5h1M236 315.5h1M220 312.5h1M234 323.5h1M233 311.5h1M219 313.5h1M224 326.5h1M235 314.5h1M234 320.5h1M221 310.5h1M220 311.5h1M234 312.5h1M233 310.5h1M232 310.5h1M222 326.5h1M234 311.5h1M231 324.5h1M222 327.5h1M228 309.5h1M224 326.5h1M228 308.5h1M218 316.5h1M230 310.5h1M222 311.5h1M221 312.5h1M232 325.5h1M225 327.5h1M217 319.5h1M232 308.5h1M221 312.5h1M230 326.5h1M220 325.5h1M230 309.5h1M217 321.5h1M221 325.5h1M219 322.5h1M233 323.5h1M234 322.5h1M234 310.5h1M233 323.5h1M219 316.5h1M228 328.5h1M217 319.5h1M217 320.5h1M228 309.5h1M222 310.5h1M236 314.5h1M220 326.5h1M233 322.5h1M228 307.5h1M231 310.5h1M222 311.5h1M235 318.5h1M221 310.5h1M221 310.5h1M235 320.5h1M221 326.5h1M219 314.5h1M219 312.5h1M221 312.5h1M231 327.5h1M217 319.5h1M227 327.5h1M224 326.5h1M217 320.5h1M218 320.5h1M225 326.5h1M235 320.5h1M232 309.5h1M235 314.5h1M231 325.5h1M222 326.5h1M224 327.5h1M227 327.5h1M236 318.5h1M228 327.5h1M217 317.5h1M236 313.5h1M230 325.5h1M218 315.5h1M224 309.5h1M227 308.5h1M216 320.5h1M235 319.5h1M231 326.5h1M218 323.5h1M236 312.5h1M232 323.5h1M234 312.5h1M234 322.5h1M234 314.5h1M231 326.5h1M218 314.5h1M221 309.5h1M235 320.5h1M233 321.5h1M218 315.5h1M234 311.5h1M227 328.5h1M229 309.5h1M230 308.5h1M219 323.5h1M235 313.5h1M216 319.5h1M218 323.5h1M229 328.5h1M236 317.5h1M226 327.5h1M221 326.5h1M218 314.5h1M230 309.5h1M222 326.5h1M217 320.5h1M235 315.5h1M218 318.5h1M233 311.5h1M224 328.5h1M233 312.5h1M222 325.5h1M220 313.5h1M220 325.5h1M217 321.5h1M235 311.5h1M222 328.5h1M218 316.5h1M218 322.5h1M224 327.5h1M234 320.5h1M217 323.5h1M236 319.5h1M232 326.5h1M235 313.5h1M225 327.5h1M224 327.5h1M235 318.5h1M231 326.5h1M225 327.5h1M234 319.5h1M234 318.5h1M219 326.5h1M229 326.5h1M226 307.5h1M223 328.5h1M219 314.5h1M233 312.5h1M218 317.5h1M234 312.5h1M231 326.5h1M236 319.5h1M219 323.5h1M235 312.5h1M230 308.5h1M217 316.5h1M217 321.5h1M235 313.5h1M234 323.5h1M228 309.5h1M234 311.5h1M223 327.5h1M223 310.5h1M231 324.5h1M222 311.5h1M236 317.5h1M224 328.5h1M218 317.5h1M235 312.5h1M230 307.5h1M222 309.5h1M233 324.5h1M233 310.5h1M222 326.5h1M235 319.5h1M236 312.5h1M220 312.5h1M222 325.5h1M228 328.5h1M226 327.5h1M228 307.5h1M220 325.5h1M217 315.5h1M231 325.5h1M229 307.5h1M230 307.5h1M220 312.5h1M218 317.5h1M222 327.5h1M235 311.5h1M231 308.5h1M236 313.5h1M217 315.5h1M221 310.5h1M228 309.5h1M218 315.5h1M234 323.5h1M218 319.5h1M232 309.5h1M230 309.5h1M217 319.5h1M235 314.5h1M231 326.5h1M235 320.5h1M232 309.5h1M232 309.5h1M235 311.5h1M232 310.5h1M231 309.5h1M219 314.5h1M222 310.5h1M219 325.5h1M220 313.5h1M219 323.5h1M218 315.5h1M228 328.5h1M221 327.5h1M217 316.5h1" stroke="rgb(43, 170, 133)" stroke-width="1" fill="none"/>
<path d="M229 309.5h1M233 317.5h1M222 324.5h1M233 312.5h1M229 323.5h1M219 317.5h1M234 316.5h1M231 325.5h1M224 326.5h1M222 313.5h1M228 310.5h1M224 325.5h1M221 313.5h1M232 320.5h1M229 326.5h1M219 320.5h1M232 320.5h1M221 322.5h1M233 319.5h1M233 313.5h1M228 325.5h1M219 316.5h1M229 311.5h1M234 320.5h1M232 312.5h1M226 310.5h1M230 325.5h1M219 322.5h1M223 326.5h1M225 324.5h1M232 322.5h1M221 324.5h1M232 322.5h1M229 311.5h1M232 311.5h1M226 326.5h1M230 324.5h1M232 322.5h1M222 324.5h1M231 325.5h1M234 320.5h1M225 312.5h1M223 326.5h1M231 322.5h1M221 323.5h1M227 324.5h1M232 322.5h1M220 313.5h1M232 321.5h1M232 321.5h1M230 322.5h1M227 326.5h1M225 325.5h1M227 325.5h1M227 325.5h1M233 315.5h1M226 311.5h1M233 312.5h1M222 312.5h1M220 316.5h1M220 322.5h1M228 310.5h1M219 317.5h1M231 312.5h1M220 323.5h1M230 311.5h1M223 325.5h1M226 309.5h1M231 322.5h1M231 324.5h1M218 319.5h1M227 311.5h1M227 325.5h1M233 317.5h1M219 320.5h1M230 312.5h1M235 316.5h1M221 324.5h1M234 317.5h1M232 322.5h1M230 324.5h1M224 311.5h1M231 322.5h1M234 317.5h1M229 324.5h1M226 309.5h1M220 312.5h1M230 325.5h1M225 324.5h1M228 310.5h1M232 312.5h1M228 325.5h1M233 313.5h1M229 323.5h1M233 313.5h1M234 316.5h1M221 325.5h1M229 312.5h1M233 313.5h1M220 317.5h1M218 320.5h1M228 311.5h1M226 326.5h1M232 323.5h1M221 314.5h1M231 323.5h1M223 311.5h1M225 324.5h1M220 314.5h1M232 323.5h1M224 325.5h1M230 322.5h1M226 324.5h1M221 314.5h1M234 318.5h1M231 324.5h1M221 325.5h1M234 316.5h1M221 314.5h1M227 311.5h1M230 325.5h1M234 318.5h1M223 313.5h1M226 309.5h1M219 318.5h1M229 325.5h1M233 316.5h1M228 325.5h1M227 310.5h1M220 315.5h1M233 321.5h1M220 315.5h1M220 323.5h1M227 326.5h1M223 325.5h1M221 313.5h1M222 323.5h1M227 324.5h1M218 320.5h1M233 313.5h1M225 311.5h1M233 320.5h1M220 321.5h1M225 324.5h1M229 311.5h1M230 325.5h1M231 312.5h1M228 310.5h1M224 312.5h1M230 311.5h1M224 311.5h1M227 326.5h1M232 312.5h1M221 323.5h1M232 323.5h1M229 325.5h1M225 311.5h1M232 313.5h1M222 324.5h1M223 311.5h1M232 314.5h1M229 326.5h1M224 311.5h1M221 315.5h1M235 317.5h1M221 322.5h1M229 310.5h1M227 325.5h1M232 324.5h1M230 324.5h1M233 316.5h1M219 317.5h1M220 323.5h1M230 323.5h1M229 326.5h1M230 325.5h1M234 318.5h1M220 315.5h1M231 321.5h1M226 326.5h1M229 312.5h1M233 313.5h1M221 312.5h1M220 313.5h1M229 324.5h1M232 320.5h1M220 318.5h1M234 314.5h1M230 311.5h1M233 314.5h1M222 313.5h1M222 324.5h1M234 319.5h1M219 319.5h1M226 325.5h1M230 326.5h1M233 314.5h1M231 324.5h1M230 323.5h1M221 322.5h1M234 314.5h1M233 313.5h1M225 325.5h1M226 325.5h1M229 311.5h1M224 311.5h1M234 317.5h1M231 313.5h1M224 325.5h1M228 310.5h1M233 320.5h1M222 324.5h1M228 325.5h1M226 310.5h1M228 310.5h1M220 317.5h1M229 309.5h1M231 313.5h1M219 323.5h1M224 325.5h1M221 313.5h1M219 316.5h1M230 309.5h1M230 324.5h1M224 312.5h1M235 315.5h1M233 314.5h1M225 311.5h1M232 315.5h1M221 316.5h1M221 312.5h1M226 310.5h1M220 318.5h1M234 317.5h1M233 314.5h1M228 324.5h1M228 310.5h1M229 311.5h1M235 316.5h1M219 318.5h1M224 326.5h1M224 312.5h1M232 312.5h1M226 310.5h1M230 311.5h1M224 324.5h1M220 320.5h1M220 317.5h1M226 310.5h1M231 325.5h1M224 326.5h1M228 310.5h1M219 315.5h1M222 312.5h1M220 321.5h1M228 324.5h1M231 323.5h1M224 312.5h1M220 315.5h1M232 312.5h1M230 311.5h1M223 324.5h1M219 316.5h1M221 322.5h1M223 325.5h1M218 317.5h1M220 322.5h1M227 326.5h1M220 321.5h1M232 322.5h1M222 323.5h1" stroke="rgb(60, 186, 86)" stroke-width="1" fill="none"/>
<path d="M222 321.5h1M223 319.5h1M225 324.5h1M221 318.5h1M232 315.5h1M221 319.5h1M223 319.5h1M227 324.5h1M231 314.5h1M221 319.5h1M232 313.5h1M223 317.5h1M230 315.5h1M231 321.5h1M224 322.5h1M229 312.5h1M231 318.5h1M221 317.5h1M221 321.5h1M225 322.5h1M230 312.5h1M227 323.5h1M232 315.5h1M229 321.5h1M231 316.5h1M224 313.5h1M231 318.5h1M223 316.5h1M231 318.5h1M228 322.5h1M231 313.5h1M231 320.5h1M222 315.5h1M225 312.5h1M222 322.5h1M223 315.5h1M222 322.5h1M228 324.5h1M222 323.5h1M223 315.5h1M232 313.5h1M233 315.5h1M225 314.5h1M229 315.5h1M225 322.5h1M226 313.5h1M229 314.5h1M223 312.5h1M222 323.5h1M223 323.5h1M232 316.5h1M231 318.5h1M230 321.5h1M222 320.5h1M227 313.5h1M221 317.5h1M223 315.5h1M233 317.5h1M221 318.5h1M229 324.5h1M230 322.5h1M223 322.5h1M233 316.5h1M220 318.5h1M225 323.5h1M232 315.5h1M226 324.5h1M223 315.5h1M226 323.5h1M223 313.5h1M231 321.5h1M231 315.5h1M222 316.5h1M220 320.5h1M229 320.5h1M229 322.5h1M222 316.5h1M228 313.5h1M224 322.5h1M232 316.5h1M222 315.5h1M221 320.5h1M228 313.5h1M227 322.5h1M231 316.5h1M225 314.5h1M224 313.5h1M224 314.5h1M229 322.5h1M227 312.5h1M222 319.5h1M225 314.5h1M225 314.5h1M231 319.5h1M229 322.5h1M224 315.5h1M225 322.5h1M230 315.5h1M232 317.5h1M221 317.5h1M224 313.5h1M223 313.5h1M221 315.5h1M223 317.5h1M229 312.5h1M227 311.5h1M223 321.5h1M223 322.5h1M230 315.5h1M225 312.5h1M230 314.5h1M228 324.5h1M224 324.5h1M229 312.5h1M221 316.5h1M231 317.5h1M231 315.5h1M231 316.5h1M223 324.5h1M225 323.5h1M229 314.5h1M221 318.5h1M231 319.5h1M229 313.5h1M225 323.5h1M222 313.5h1M221 320.5h1M223 321.5h1M224 313.5h1M226 313.5h1M231 316.5h1M231 317.5h1M224 324.5h1M225 323.5h1M223 321.5h1M230 319.5h1M233 318.5h1M221 315.5h1M232 314.5h1M233 316.5h1M225 323.5h1M225 313.5h1M225 322.5h1M225 314.5h1M231 320.5h1M229 320.5h1M226 313.5h1M223 321.5h1M230 313.5h1M221 316.5h1M223 323.5h1M227 322.5h1M227 323.5h1M232 318.5h1M232 316.5h1M228 312.5h1M232 314.5h1M228 323.5h1M221 316.5h1M225 322.5h1M222 322.5h1M225 313.5h1M225 313.5h1M231 316.5h1M228 313.5h1M231 319.5h1M232 318.5h1M228 313.5h1M221 317.5h1M230 314.5h1M232 320.5h1M222 316.5h1M233 319.5h1M226 323.5h1M224 324.5h1M230 312.5h1M231 314.5h1M226 313.5h1M228 312.5h1M229 315.5h1M223 314.5h1M229 314.5h1M222 315.5h1M221 317.5h1M231 312.5h1M225 322.5h1M222 318.5h1M232 317.5h1M224 315.5h1M229 321.5h1M223 314.5h1M232 318.5h1M231 317.5h1M229 312.5h1M232 315.5h1M229 313.5h1M224 323.5h1M224 315.5h1M230 314.5h1M225 314.5h1M227 312.5h1M222 317.5h1M226 312.5h1M229 312.5h1M224 314.5h1M233 318.5h1M221 322.5h1M232 315.5h1M223 315.5h1M231 318.5h1M230 314.5h1M223 313.5h1M229 314.5h1M231 321.5h1M225 312.5h1M231 318.5h1M229 311.5h1M229 321.5h1M227 312.5h1M231 316.5h1M228 314.5h1M231 312.5h1M225 314.5h1M228 311.5h1M227 324.5h1M221 318.5h1M225 312.5h1M222 316.5h1M227 322.5h1M225 322.5h1M230 314.5h1M227 323.5h1M224 321.5h1M232 315.5h1M228 312.5h1M232 314.5h1M222 313.5h1M231 313.5h1M222 314.5h1M221 320.5h1M225 312.5h1M231 313.5h1M230 313.5h1M231 317.5h1M229 322.5h1M222 321.5h1M231 320.5h1M227 324.5h1M232 319.5h1M226 314.5h1M232 315.5h1M223 321.5h1M225 311.5h1M232 314.5h1M223 321.5h1M229 324.5h1M223 314.5h1M222 323.5h1M221 316.5h1M221 319.5h1M228 322.5h1M225 322.5h1M223 321.5h1M223 320.5h1M230 316.5h1M226 313.5h1M226 313.5h1M230 320.5h1M227 313.5h1M230 318.5h1M228 323.5h1M227 313.5h1M222 315.5h1M223 315.5h1M223 321.5h1M224 323.5h1M229 313.5h1M229 313.5h1M231 319.5h1M224 313.5h1M229 313.5h1M222 319.5h1M221 318.5h1M222 317.5h1M222 322.5h1M223 320.5h1M224 313.5h1M226 314.5h1M230 314.5h1M231 321.5h1M231 314.5h1M227 313.5h1M229 313.5h1M225 311.5h1M221 316.5h1M222 321.5h1M224 322.5h1M221 316.5h1M225 311.5h1M227 313.5h1M224 312.5h1M224 323.5h1M222 317.5h1M229 311.5h1M221 319.5h1M222 316.5h1M231 318.5h1M225 312.5h1M229 321.5h1M231 317.5h1M220 318.5h1M225 324.5h1M227 313.5h1M221 316.5h1M229 320.5h1M226 322.5h1M222 319.5h1M230 322.5h1M225 324.5h1M222 315.5h1M229 320.5h1M222 317.5h1M227 323.5h1M227 314.5h1M224 322.5h1M222 315.5h1M226 313.5h1M223 316.5h1M232 318.5h1M231 318.5h1M221 318.5h1M230 322.5h1M224 323.5h1M223 313.5h1M225 313.5h1M229 323.5h1M223 319.5h1M220 319.5h1M229 322.5h1M223 323.5h1M231 317.5h1M221 320.5h1M231 320.5h1M231 319.5h1M232 318.5h1" stroke="rgb(76, 197, 64)" stroke-width="1" fill="none"/>
<path d="M224 315.5h1M229 316.5h1M226 321.5h1M227 317.5h1M226 314.5h1M227 314.5h1M223 321.5h1M225 320.5h1M230 316.5h1M229 317.5h1M229 320.5h1M225 315.5h1M229 316.5h1M225 320.5h1M229 321.5h1M230 317.5h1M229 318.5h1M225 317.5h1M223 318.5h1M223 317.5h1M225 318.5h1M229 319.5h1M224 318.5h1M229 315.5h1M224 316.5h1M229 315.5h1M229 315.5h1M223 318.5h1M228 316.5h1M223 316.5h1M224 315.5h1M228 320.5h1M223 318.5h1M228 315.5h1M227 319.5h1M225 321.5h1M223 317.5h1M228 321.5h1M230 318.5h1M223 318.5h1M228 322.5h1M229 320.5h1M227 319.5h1M223 319.5h1M227 319.5h1M230 316.5h1M226 319.5h1M229 315.5h1M224 317.5h1M224 318.5h1M224 316.5h1M225 317.5h1M229 314.5h1M225 319.5h1M229 315.5h1M226 322.5h1M229 317.5h1M229 318.5h1M223 318.5h1M229 318.5h1M225 320.5h1M228 318.5h1M226 315.5h1M229 315.5h1M227 315.5h1M226 318.5h1M229 317.5h1M226 320.5h1M228 318.5h1M227 322.5h1M223 319.5h1M226 317.5h1M223 319.5h1M227 316.5h1M228 317.5h1M226 315.5h1M228 318.5h1M228 315.5h1M224 320.5h1M225 315.5h1M229 316.5h1M228 318.5h1M223 320.5h1M226 322.5h1M227 314.5h1M226 320.5h1M222 317.5h1M230 319.5h1M225 319.5h1M228 317.5h1M225 319.5h1M224 320.5h1M228 321.5h1M227 316.5h1M224 315.5h1M229 316.5h1M225 314.5h1M225 321.5h1M226 315.5h1M228 317.5h1M223 320.5h1M225 316.5h1M228 321.5h1M224 320.5h1M230 316.5h1M229 316.5h1M223 316.5h1M223 318.5h1M226 316.5h1M225 317.5h1M227 321.5h1M226 318.5h1M227 321.5h1M228 320.5h1M224 319.5h1M226 322.5h1M228 320.5h1M224 321.5h1M228 322.5h1M226 317.5h1M228 321.5h1M226 319.5h1M230 319.5h1M228 322.5h1M227 318.5h1M225 317.5h1M224 319.5h1M224 322.5h1M224 316.5h1M225 319.5h1M227 318.5h1M224 320.5h1M229 317.5h1M226 320.5h1M230 317.5h1M229 317.5h1M228 315.5h1M225 314.5h1M226 317.5h1M230 319.5h1M224 319.5h1M227 322.5h1M230 319.5h1M225 319.5h1M228 317.5h1M224 320.5h1M224 319.5h1M225 318.5h1M225 317.5h1M229 314.5h1M224 319.5h1M227 316.5h1M228 318.5h1M229 317.5h1M224 320.5h1M229 319.5h1M226 315.5h1M228 321.5h1M224 318.5h1M225 315.5h1M227 317.5h1M227 320.5h1M224 314.5h1M225 315.5h1M226 315.5h1M226 314.5h1M230 315.5h1M228 317.5h1M224 315.5h1M225 316.5h1M227 315.5h1M225 322.5h1M226 316.5h1M227 321.5h1M223 317.5h1M224 320.5h1M227 318.5h1M228 317.5h1M228 320.5h1M226 319.5h1M225 320.5h1M227 321.5h1M227 319.5h1M227 316.5h1M226 321.5h1M229 319.5h1M228 319.5h1M227 314.5h1M224 322.5h1M227 320.5h1M225 321.5h1M224 316.5h1M229 315.5h1M222 319.5h1M228 314.5h1M225 318.5h1M229 318.5h1M229 320.5h1M224 318.5h1M224 319.5h1M224 321.5h1M228 321.5h1M227 314.5h1M223 315.5h1M227 321.5h1M224 321.5h1M224 319.5h1M230 318.5h1M224 321.5h1M225 317.5h1M226 318.5h1M229 320.5h1M229 318.5h1M224 319.5h1M230 319.5h1M225 316.5h1M224 322.5h1M226 321.5h1M223 321.5h1M229 318.5h1M228 316.5h1M225 315.5h1M228 320.5h1M226 321.5h1M227 321.5h1M223 321.5h1M225 317.5h1M223 319.5h1M222 319.5h1M223 318.5h1M228 315.5h1M228 319.5h1M225 321.5h1M225 320.5h1M228 319.5h1M227 315.5h1M225 321.5h1M228 316.5h1M228 317.5h1M226 315.5h1M227 316.5h1M230 318.5h1M227 319.5h1M224 315.5h1M224 316.5h1M226 315.5h1M226 318.5h1M225 319.5h1M226 317.5h1M226 315.5h1M226 317.5h1M224 314.5h1M224 320.5h1M225 316.5h1M230 318.5h1M227 319.5h1M227 319.5h1M223 317.5h1M225 317.5h1M225 319.5h1M226 318.5h1M225 320.5h1M228 322.5h1M228 320.5h1M225 318.5h1M228 315.5h1M225 314.5h1M227 320.5h1M226 321.5h1M228 319.5h1M225 316.5h1M228 316.5h1M223 317.5h1M225 319.5h1M223 318.5h1M228 321.5h1M228 319.5h1M226 319.5h1M229 316.5h1M224 316.5h1M230 319.5h1M226 316.5h1M225 318.5h1M228 318.5h1M228 316.5h1M226 316.5h1M228 317.5h1M228 315.5h1M226 322.5h1M229 316.5h1M226 316.5h1M225 318.5h1M230 320.5h1M225 317.5h1M223 318.5h1M228 317.5h1M228 314.5h1M226 321.5h1M224 317.5h1M224 318.5h1M229 319.5h1M223 318.5h1M224 320.5h1M224 317.5h1M227 316.5h1M226 321.5h1M224 317.5h1M223 319.5h1M225 314.5h1M227 319.5h1M227 321.5h1M228 318.5h1M225 322.5h1M224 322.5h1M228 315.5h1M225 320.5h1M229 319.5h1M228 315.5h1M224 320.5h1M225 315.5h1M228 318.5h1M226 316.5h1M225 320.5h1M223 315.5h1M227 321.5h1M225 320.5h1M224 322.5h1M228 315.5h1M229 317.5h1M224 318.5h1M226 316.5h1M222 317.5h1M226 317.5h1M229 315.5h1M224 319.5h1M226 319.5h1M225 315.5h1M228 318.5h1M224 315.5h1M224 315.5h1M224 320.5h1M227 317.5h1M229 318.5h1M225 318.5h1M228 320.5h1M228 317.5h1M230 318.5h1M227 321.5h1" stroke="rgb(146, 213, 46)" stroke-width="1" fill="none"/>
<line x1="212.00" y1="366.80" x2="232.00" y2="366.80" stroke="#e0607a" stroke-width="1.6"/>
<line x1="207.00" y1="366.80" x2="212.00" y2="366.80" stroke="#d8c860" stroke-width="1.6"/>
<line x1="232.00" y1="366.80" x2="238.00" y2="366.80" stroke="#e8a070" stroke-width="1.6"/>
</g>
<line x1="206.50" y1="264.50" x2="206.50" y2="368.00" stroke="#262626" stroke-width="1.5"/>
<line x1="164.50" y1="338.20" x2="267.50" y2="338.20" stroke="#262626" stroke-width="1.5"/>
<rect x="164.50" y="264.50" width="103.00" height="103.50" fill="none" stroke="#444" stroke-width="1.3"/>
</g>
<text x="47.34" y="136.50" font-size="11.5" fill="#111">0.04</text>
<text x="131.99" y="136.50" font-size="11.5" fill="#111">0.1</text>
<text x="48.32" y="227.10" font-size="11.5" fill="#111">21</text>
<text x="136.36" y="227.30" font-size="12" fill="#111">79</text>
<text x="165.23" y="137.00" font-size="11.5" fill="#111">7.2e-3</text>
<text x="249.79" y="137.00" font-size="11.5" fill="#111">0.5</text>
<text x="166.54" y="228.30" font-size="11.5" fill="#111">0.6</text>
<text x="252.46" y="228.30" font-size="12" fill="#111">99</text>
<text x="47.80" y="279.20" font-size="14" fill="#111">6.4</text>
<text x="131.02" y="279.30" font-size="14" fill="#111">61</text>
<text x="49.24" y="367.20" font-size="14" fill="#111">5.7</text>
<text x="132.52" y="366.90" font-size="14" fill="#111">27</text>
<text x="165.90" y="279.30" font-size="14" fill="#111">2.9</text>
<text x="250.32" y="279.30" font-size="14" fill="#111">79</text>
<text x="166.38" y="367.50" font-size="14" fill="#111">1.6</text>
<text x="249.82" y="367.30" font-size="14" fill="#111">17</text>
<text x="59.20" y="120.40" font-size="20" fill="#111">OP9-Ctrl</text>
<text x="174.03" y="120.80" font-size="19.5" fill="#111">OP9-DL1</text>
<text transform="translate(36.50,204.90) rotate(-90)" font-size="20" fill="#111">CD44</text>
<text transform="translate(37.10,348.62) rotate(-90)" font-size="20.3" fill="#111">CD127</text>
<text x="47.75" y="251.50" font-size="20" fill="#111">CD25</text>
<line x1="111.40" y1="244.40" x2="260.20" y2="244.40" stroke="#000" stroke-width="1.7"/>
<path d="M264.20,244.40 L259.70,246.60 L259.70,242.20Z" fill="#000"/>
<text x="50.27" y="390.50" font-size="19.5" fill="#111">CXCR4</text>
<line x1="125.70" y1="383.70" x2="259.60" y2="383.70" stroke="#000" stroke-width="1.7"/>
<path d="M263.60,383.70 L259.10,385.90 L259.10,381.50Z" fill="#000"/>
<rect x="346.50" y="5.50" width="152.90" height="103.50" fill="none" stroke="#444" stroke-width="1.3"/>
<path d="M347.5,108.7 L348.5,108.6 L349.5,108.6 L350.5,108.5 L351.5,108.5 L352.5,108.6 L353.5,108.6 L354.5,108.5 L355.5,108.5 L356.5,108.5 L357.5,108.5 L358.5,108.5 L359.5,108.3 L360.5,108.6 L361.5,108.5 L362.5,108.4 L363.5,108.5 L364.5,108.3 L365.5,108.5 L366.5,108.4 L367.5,108.4 L368.5,108.3 L369.5,108.4 L370.5,108.4 L371.5,108.4 L372.5,108.4 L373.5,108.3 L374.5,108.3 L375.5,108.4 L376.5,108.1 L377.5,107.9 L378.5,107.8 L379.5,107.6 L380.5,107.5 L381.5,107.1 L382.5,106.6 L383.5,105.9 L384.5,105.3 L385.5,104.5 L386.5,102.1 L387.5,99.4 L388.5,97.1 L389.5,93.6 L390.5,85.9 L391.5,79.3 L392.5,70.9 L393.5,62.0 L394.5,55.5 L395.5,48.0 L396.5,40.9 L397.5,32.3 L398.5,28.0 L399.5,22.5 L400.5,18.1 L401.5,14.9 L402.5,14.1 L403.5,11.8 L404.5,13.2 L405.5,14.5 L406.5,14.0 L407.5,12.9 L408.5,11.5 L409.5,16.3 L410.5,20.6 L411.5,24.5 L412.5,32.1 L413.5,37.3 L414.5,42.9 L415.5,48.1 L416.5,52.8 L417.5,54.9 L418.5,56.6 L419.5,59.7 L420.5,62.0 L421.5,63.4 L422.5,64.8 L423.5,68.0 L424.5,69.6 L425.5,71.3 L426.5,73.6 L427.5,76.8 L428.5,79.2 L429.5,80.0 L430.5,81.7 L431.5,83.6 L432.5,85.0 L433.5,86.3 L434.5,87.7 L435.5,88.2 L436.5,90.0 L437.5,90.2 L438.5,91.9 L439.5,92.7 L440.5,93.4 L441.5,94.4 L442.5,95.4 L443.5,97.0 L444.5,97.3 L445.5,98.8 L446.5,99.7 L447.5,100.4 L448.5,101.8 L449.5,101.9 L450.5,102.9 L451.5,103.4 L452.5,104.0 L453.5,104.6 L454.5,105.1 L455.5,105.7 L456.5,106.4 L457.5,106.6 L458.5,106.6 L459.5,106.9 L460.5,107.0 L461.5,107.1 L462.5,107.3 L463.5,107.4 L464.5,107.5 L465.5,107.7 L466.5,107.8 L467.5,108.0 L468.5,107.9 L469.5,108.2 L470.5,108.1 L471.5,108.1 L472.5,108.1 L473.5,107.9 L474.5,108.2 L475.5,108.1 L476.5,108.2 L477.5,108.1 L478.5,108.3 L479.5,108.2 L480.5,108.2 L481.5,108.4 L482.5,108.4 L483.5,108.2 L484.5,108.3 L485.5,108.4 L486.5,108.3 L487.5,108.4 L488.5,108.4 L489.5,108.3 L490.5,108.4 L491.5,108.4 L492.5,108.5 L493.5,108.6 L494.5,108.6 L495.5,108.6 L496.5,108.5 L497.5,108.6 L498.5,108.6" fill="none" stroke="#e596e8" stroke-width="1.3" stroke-linejoin="round"/>
<path d="M347.5,108.6 L348.5,108.6 L349.5,108.6 L350.5,108.7 L351.5,108.7 L352.5,108.4 L353.5,108.6 L354.5,108.4 L355.5,108.5 L356.5,108.6 L357.5,108.4 L358.5,108.4 L359.5,108.4 L360.5,108.6 L361.5,108.5 L362.5,108.4 L363.5,108.5 L364.5,108.4 L365.5,108.4 L366.5,108.4 L367.5,108.5 L368.5,108.3 L369.5,108.4 L370.5,108.1 L371.5,108.2 L372.5,108.2 L373.5,108.2 L374.5,107.8 L375.5,107.9 L376.5,107.7 L377.5,107.4 L378.5,107.3 L379.5,107.1 L380.5,106.8 L381.5,106.6 L382.5,106.0 L383.5,105.4 L384.5,104.9 L385.5,104.3 L386.5,103.6 L387.5,103.0 L388.5,102.8 L389.5,102.2 L390.5,100.1 L391.5,98.3 L392.5,96.7 L393.5,93.7 L394.5,89.3 L395.5,84.9 L396.5,79.6 L397.5,72.6 L398.5,66.7 L399.5,61.3 L400.5,55.9 L401.5,49.2 L402.5,42.9 L403.5,39.6 L404.5,34.1 L405.5,28.9 L406.5,23.6 L407.5,20.2 L408.5,19.3 L409.5,14.8 L410.5,13.5 L411.5,14.1 L412.5,14.8 L413.5,15.8 L414.5,14.9 L415.5,16.4 L416.5,18.2 L417.5,21.2 L418.5,22.8 L419.5,25.1 L420.5,28.9 L421.5,31.3 L422.5,34.0 L423.5,36.8 L424.5,39.1 L425.5,42.0 L426.5,47.2 L427.5,49.5 L428.5,52.4 L429.5,55.7 L430.5,58.4 L431.5,59.2 L432.5,62.2 L433.5,64.4 L434.5,65.6 L435.5,68.0 L436.5,68.9 L437.5,70.9 L438.5,72.9 L439.5,74.9 L440.5,76.5 L441.5,77.9 L442.5,79.8 L443.5,80.6 L444.5,84.5 L445.5,85.0 L446.5,86.8 L447.5,88.9 L448.5,90.8 L449.5,92.2 L450.5,93.4 L451.5,94.6 L452.5,96.6 L453.5,97.9 L454.5,99.4 L455.5,100.5 L456.5,101.5 L457.5,102.7 L458.5,103.5 L459.5,104.3 L460.5,105.1 L461.5,105.6 L462.5,105.9 L463.5,106.5 L464.5,107.0 L465.5,107.2 L466.5,107.4 L467.5,107.5 L468.5,107.6 L469.5,107.7 L470.5,107.8 L471.5,107.9 L472.5,108.1 L473.5,108.0 L474.5,108.1 L475.5,108.2 L476.5,108.4 L477.5,108.4 L478.5,108.2 L479.5,108.4 L480.5,108.3 L481.5,108.6 L482.5,108.3 L483.5,108.5 L484.5,108.4 L485.5,108.5 L486.5,108.4 L487.5,108.5 L488.5,108.5 L489.5,108.5 L490.5,108.6 L491.5,108.5 L492.5,108.5 L493.5,108.4 L494.5,108.5 L495.5,108.5 L496.5,108.6 L497.5,108.6 L498.5,108.5" fill="none" stroke="#1a1478" stroke-width="1.6" stroke-linejoin="round"/>
<rect x="462.30" y="10.60" width="11.50" height="10.60" fill="#0a0a80" stroke="#222" stroke-width="0.8"/>
<rect x="462.30" y="28.80" width="11.50" height="11.40" fill="#ff9dcd" stroke="#444" stroke-width="0.8"/>
<text x="476.08" y="20.50" font-size="11.5" fill="#111">DL1</text>
<text x="476.39" y="39.00" font-size="12.2" fill="#111">Ctrl</text>
<text x="398.88" y="128.80" font-size="20.3" fill="#111">FSC</text>
<rect x="346.50" y="135.00" width="152.30" height="103.00" fill="none" stroke="#444" stroke-width="1.3"/>
<path d="M347.5,225.6 L348.5,225.8 L349.5,225.0 L350.5,224.5 L351.5,225.6 L352.5,224.7 L353.5,224.6 L354.5,218.8 L355.5,207.5 L356.5,220.2 L357.5,222.8 L358.5,224.6 L359.5,225.3 L360.5,225.7 L361.5,226.5 L362.5,227.4 L363.5,227.3 L364.5,227.8 L365.5,227.1 L366.5,227.1 L367.5,226.9 L368.5,226.4 L369.5,226.7 L370.5,226.1 L371.5,226.0 L372.5,224.8 L373.5,224.6 L374.5,224.6 L375.5,223.2 L376.5,222.9 L377.5,223.4 L378.5,221.1 L379.5,220.5 L380.5,219.4 L381.5,217.4 L382.5,215.7 L383.5,217.1 L384.5,215.2 L385.5,215.3 L386.5,213.9 L387.5,214.0 L388.5,212.4 L389.5,211.3 L390.5,210.3 L391.5,209.3 L392.5,208.1 L393.5,207.1 L394.5,206.4 L395.5,204.2 L396.5,203.1 L397.5,200.1 L398.5,198.9 L399.5,195.3 L400.5,190.9 L401.5,184.0 L402.5,181.5 L403.5,176.1 L404.5,174.7 L405.5,170.5 L406.5,167.2 L407.5,162.6 L408.5,159.9 L409.5,155.9 L410.5,151.2 L411.5,147.1 L412.5,144.8 L413.5,142.4 L414.5,142.6 L415.5,145.3 L416.5,149.2 L417.5,154.8 L418.5,159.7 L419.5,165.7 L420.5,171.1 L421.5,177.1 L422.5,185.7 L423.5,193.8 L424.5,198.7 L425.5,203.9 L426.5,207.8 L427.5,213.2 L428.5,216.0 L429.5,220.8 L430.5,223.5 L431.5,225.9 L432.5,226.7 L433.5,228.0 L434.5,229.7 L435.5,230.8 L436.5,231.9 L437.5,231.9 L438.5,232.2 L439.5,232.7 L440.5,232.9 L441.5,233.1 L442.5,233.5 L443.5,233.9 L444.5,234.1 L445.5,234.4 L446.5,234.6 L447.5,234.6 L448.5,234.7 L449.5,234.7 L450.5,235.0 L451.5,234.9 L452.5,235.0 L453.5,235.2 L454.5,235.2 L455.5,235.6 L456.5,235.5 L457.5,235.8 L458.5,235.8 L459.5,235.9 L460.5,236.0 L461.5,235.9 L462.5,236.0 L463.5,236.0 L464.5,236.3 L465.5,236.2 L466.5,236.2 L467.5,236.1 L468.5,236.3 L469.5,236.3 L470.5,236.3 L471.5,236.5 L472.5,236.1 L473.5,236.2 L474.5,236.3 L475.5,236.2 L476.5,236.4 L477.5,236.4 L478.5,236.4 L479.5,236.4 L480.5,236.5 L481.5,236.5 L482.5,236.4 L483.5,236.4 L484.5,236.6 L485.5,236.5 L486.5,236.5 L487.5,236.6 L488.5,236.6 L489.5,236.6 L490.5,236.6 L491.5,236.7 L492.5,236.8 L493.5,236.6 L494.5,236.6 L495.5,236.9 L496.5,236.7 L497.5,236.7" fill="none" stroke="#e596e8" stroke-width="1.3" stroke-linejoin="round"/>
<path d="M347.5,232.7 L348.5,233.0 L349.5,233.0 L350.5,232.9 L351.5,233.0 L352.5,233.1 L353.5,233.4 L354.5,233.3 L355.5,233.3 L356.5,233.2 L357.5,233.4 L358.5,233.5 L359.5,233.5 L360.5,233.5 L361.5,233.2 L362.5,233.2 L363.5,232.9 L364.5,232.6 L365.5,232.7 L366.5,232.4 L367.5,232.3 L368.5,231.8 L369.5,231.6 L370.5,231.6 L371.5,231.3 L372.5,231.4 L373.5,231.2 L374.5,231.2 L375.5,230.9 L376.5,230.4 L377.5,230.7 L378.5,230.2 L379.5,230.0 L380.5,230.0 L381.5,229.8 L382.5,229.9 L383.5,230.2 L384.5,229.4 L385.5,229.4 L386.5,228.4 L387.5,228.1 L388.5,227.3 L389.5,226.9 L390.5,226.4 L391.5,224.4 L392.5,222.8 L393.5,220.5 L394.5,220.4 L395.5,218.1 L396.5,216.4 L397.5,215.5 L398.5,214.2 L399.5,212.6 L400.5,211.4 L401.5,207.9 L402.5,205.6 L403.5,204.2 L404.5,201.9 L405.5,197.0 L406.5,193.7 L407.5,189.1 L408.5,185.9 L409.5,182.1 L410.5,178.7 L411.5,174.2 L412.5,171.3 L413.5,166.2 L414.5,161.6 L415.5,158.7 L416.5,151.2 L417.5,151.6 L418.5,142.3 L419.5,152.5 L420.5,142.9 L421.5,148.8 L422.5,145.4 L423.5,146.9 L424.5,150.8 L425.5,152.2 L426.5,159.0 L427.5,166.4 L428.5,173.6 L429.5,182.4 L430.5,191.0 L431.5,197.6 L432.5,204.5 L433.5,211.7 L434.5,217.6 L435.5,221.3 L436.5,225.7 L437.5,227.6 L438.5,229.3 L439.5,230.5 L440.5,231.9 L441.5,231.9 L442.5,232.5 L443.5,232.7 L444.5,232.6 L445.5,233.2 L446.5,233.4 L447.5,233.5 L448.5,234.0 L449.5,234.3 L450.5,234.4 L451.5,234.4 L452.5,234.6 L453.5,234.8 L454.5,235.0 L455.5,235.3 L456.5,235.4 L457.5,235.6 L458.5,235.9 L459.5,236.0 L460.5,236.1 L461.5,236.2 L462.5,236.4 L463.5,236.6 L464.5,236.5 L465.5,236.8 L466.5,236.8 L467.5,236.8 L468.5,237.0 L469.5,236.9 L470.5,237.1 L471.5,237.1 L472.5,237.3 L473.5,237.2 L474.5,237.2 L475.5,237.2 L476.5,237.2 L477.5,237.4 L478.5,237.3 L479.5,237.4 L480.5,237.3 L481.5,237.5 L482.5,237.2 L483.5,237.4 L484.5,237.4 L485.5,237.4 L486.5,237.4 L487.5,237.6 L488.5,237.4 L489.5,237.5 L490.5,237.5 L491.5,237.5 L492.5,237.5 L493.5,237.6 L494.5,237.5 L495.5,237.5 L496.5,237.5 L497.5,237.6" fill="none" stroke="#1a1478" stroke-width="1.6" stroke-linejoin="round"/>
<line x1="347.30" y1="135.50" x2="347.30" y2="237.50" stroke="#34328c" stroke-width="1.8"/>
<text x="391.48" y="260.00" font-size="20.5" fill="#111">CD127</text>
<rect x="346.50" y="266.00" width="152.90" height="103.20" fill="none" stroke="#444" stroke-width="1.3"/>
<path d="M348.8,364.9 L349.8,364.8 L350.8,364.7 L351.8,364.5 L352.8,364.8 L353.8,365.1 L354.8,365.4 L355.8,365.7 L356.8,365.6 L357.8,365.5 L358.8,365.2 L359.8,365.0 L360.8,365.2 L361.8,365.3 L362.8,365.5 L363.8,365.8 L364.8,365.8 L365.8,365.5 L366.8,365.4 L367.8,365.2 L368.8,365.0 L369.8,364.8 L370.8,364.9 L371.8,365.0 L372.8,365.1 L373.8,365.2 L374.8,365.3 L375.8,365.5 L376.8,365.3 L377.8,365.2 L378.8,365.1 L379.8,365.0 L380.8,364.9 L381.8,364.6 L382.8,364.4 L383.8,364.5 L384.8,364.3 L385.8,364.2 L386.8,364.0 L387.8,364.1 L388.8,363.5 L389.8,363.4 L390.8,362.8 L391.8,362.8 L392.8,362.1 L393.8,362.0 L394.8,361.9 L395.8,361.1 L396.8,360.4 L397.8,360.5 L398.8,359.5 L399.8,358.9 L400.8,358.9 L401.8,357.5 L402.8,357.2 L403.8,356.2 L404.8,355.3 L405.8,353.9 L406.8,353.7 L407.8,352.8 L408.8,351.5 L409.8,349.3 L410.8,346.9 L411.8,345.7 L412.8,343.2 L413.8,341.7 L414.8,338.6 L415.8,334.8 L416.8,330.6 L417.8,327.4 L418.8,323.3 L419.8,317.9 L420.8,313.3 L421.8,306.8 L422.8,302.9 L423.8,298.9 L424.8,294.3 L425.8,291.9 L426.8,290.0 L427.8,287.3 L428.8,284.4 L429.8,282.2 L430.8,279.7 L431.8,275.8 L432.8,273.8 L433.8,273.0 L434.8,273.5 L435.8,277.8 L436.8,281.0 L437.8,285.4 L438.8,289.4 L439.8,294.1 L440.8,298.9 L441.8,302.7 L442.8,306.1 L443.8,309.1 L444.8,311.6 L445.8,313.0 L446.8,316.5 L447.8,321.7 L448.8,325.8 L449.8,330.5 L450.8,335.9 L451.8,340.3 L452.8,345.0 L453.8,348.5 L454.8,351.5 L455.8,354.5 L456.8,357.2 L457.8,359.7 L458.8,362.0 L459.8,364.1 L460.8,365.1 L461.8,365.6 L462.8,366.1 L463.8,366.7 L464.8,367.3 L465.8,367.6 L466.8,367.6 L467.8,367.8 L468.8,367.8 L469.8,368.0 L470.8,368.1 L471.8,368.0 L472.8,368.2 L473.8,368.4 L474.8,368.4 L475.8,368.4 L476.8,368.3 L477.8,368.4 L478.8,368.4 L479.8,368.5 L480.8,368.5 L481.8,368.5 L482.8,368.5 L483.8,368.5 L484.8,368.4 L485.8,368.4 L486.8,368.5 L487.8,368.6 L488.8,368.6 L489.8,368.5 L490.8,368.5 L491.8,368.5 L492.8,368.5 L493.8,368.6 L494.8,368.5 L495.8,368.5 L496.8,368.5 L497.8,368.5" fill="none" stroke="#e596e8" stroke-width="1.3" stroke-linejoin="round"/>
<path d="M348.8,368.5 L349.8,368.5 L350.8,368.6 L351.8,368.5 L352.8,368.5 L353.8,368.7 L354.8,368.6 L355.8,368.6 L356.8,368.5 L357.8,368.5 L358.8,368.5 L359.8,368.7 L360.8,368.5 L361.8,368.5 L362.8,368.5 L363.8,368.7 L364.8,368.6 L365.8,368.6 L366.8,368.6 L367.8,368.6 L368.8,368.6 L369.8,368.5 L370.8,368.7 L371.8,368.6 L372.8,368.7 L373.8,368.5 L374.8,368.6 L375.8,368.5 L376.8,368.5 L377.8,368.6 L378.8,368.7 L379.8,368.7 L380.8,368.7 L381.8,368.6 L382.8,368.6 L383.8,368.5 L384.8,368.4 L385.8,368.4 L386.8,368.3 L387.8,368.3 L388.8,368.0 L389.8,368.2 L390.8,368.0 L391.8,368.0 L392.8,367.9 L393.8,367.7 L394.8,367.7 L395.8,367.7 L396.8,367.5 L397.8,367.3 L398.8,367.0 L399.8,366.7 L400.8,366.3 L401.8,365.8 L402.8,365.5 L403.8,365.1 L404.8,364.7 L405.8,364.0 L406.8,363.4 L407.8,363.0 L408.8,362.5 L409.8,361.9 L410.8,361.2 L411.8,360.5 L412.8,360.2 L413.8,358.6 L414.8,358.0 L415.8,355.8 L416.8,354.8 L417.8,353.3 L418.8,352.3 L419.8,350.1 L420.8,347.2 L421.8,343.9 L422.8,342.1 L423.8,338.2 L424.8,334.3 L425.8,330.2 L426.8,327.2 L427.8,322.9 L428.8,319.1 L429.8,314.2 L430.8,308.8 L431.8,303.9 L432.8,299.3 L433.8,293.9 L434.8,289.9 L435.8,286.3 L436.8,281.5 L437.8,280.1 L438.8,276.7 L439.8,273.9 L440.8,271.9 L441.8,276.4 L442.8,279.9 L443.8,283.5 L444.8,289.6 L445.8,293.1 L446.8,295.9 L447.8,298.6 L448.8,305.2 L449.8,312.5 L450.8,320.0 L451.8,327.8 L452.8,335.7 L453.8,340.4 L454.8,348.0 L455.8,352.6 L456.8,356.7 L457.8,360.5 L458.8,362.0 L459.8,363.7 L460.8,365.2 L461.8,366.3 L462.8,366.9 L463.8,367.2 L464.8,367.8 L465.8,368.0 L466.8,368.2 L467.8,368.1 L468.8,368.1 L469.8,368.3 L470.8,368.3 L471.8,368.5 L472.8,368.4 L473.8,368.4 L474.8,368.5 L475.8,368.4 L476.8,368.5 L477.8,368.6 L478.8,368.5 L479.8,368.5 L480.8,368.6 L481.8,368.5 L482.8,368.6 L483.8,368.5 L484.8,368.5 L485.8,368.4 L486.8,368.4 L487.8,368.6 L488.8,368.7 L489.8,368.5 L490.8,368.5 L491.8,368.6 L492.8,368.7 L493.8,368.6 L494.8,368.7 L495.8,368.6 L496.8,368.5 L497.8,368.5" fill="none" stroke="#1a1478" stroke-width="1.6" stroke-linejoin="round"/>
<line x1="347.80" y1="286.50" x2="347.80" y2="366.00" stroke="#e596e8" stroke-width="1.6"/>
<line x1="348.20" y1="337.50" x2="348.20" y2="368.50" stroke="#1a1478" stroke-width="1.6"/>
<text x="390.50" y="392.30" font-size="20" fill="#111">CXCR4</text>
<text x="57.35" y="434.40" font-size="15" fill="#111">14</text>
<text x="57.65" y="452.70" font-size="15" fill="#111">12</text>
<text x="57.50" y="471.50" font-size="15" fill="#111">10</text>
<text x="66.05" y="489.90" font-size="15" fill="#111">8</text>
<text x="66.05" y="508.70" font-size="15" fill="#111">6</text>
<text x="65.75" y="527.00" font-size="15" fill="#111">4</text>
<text x="66.05" y="545.00" font-size="15" fill="#111">2</text>
<text x="65.90" y="563.80" font-size="15" fill="#111">0</text>
<line x1="111.20" y1="506.00" x2="111.20" y2="513.80" stroke="#555" stroke-width="1.1"/>
<line x1="110.60" y1="506.50" x2="111.80" y2="506.50" stroke="#333" stroke-width="1"/>
<rect x="93.20" y="513.80" width="36.00" height="46.70" fill="#000a8e" stroke="#000050" stroke-width="0.8"/>
<line x1="199.95" y1="443.50" x2="199.95" y2="456.30" stroke="#555" stroke-width="1.1"/>
<line x1="199.35" y1="444.00" x2="200.55" y2="444.00" stroke="#333" stroke-width="1"/>
<rect x="182.10" y="456.30" width="35.70" height="104.20" fill="#000a8e" stroke="#000050" stroke-width="0.8"/>
<rect x="84.60" y="428.70" width="177.10" height="131.80" fill="none" stroke="#777" stroke-width="1.5"/>
<line x1="82.60" y1="447.53" x2="84.60" y2="447.53" stroke="#555" stroke-width="1.2"/>
<line x1="82.60" y1="466.36" x2="84.60" y2="466.36" stroke="#555" stroke-width="1.2"/>
<line x1="82.60" y1="485.19" x2="84.60" y2="485.19" stroke="#555" stroke-width="1.2"/>
<line x1="82.60" y1="504.01" x2="84.60" y2="504.01" stroke="#555" stroke-width="1.2"/>
<line x1="82.60" y1="522.84" x2="84.60" y2="522.84" stroke="#555" stroke-width="1.2"/>
<line x1="82.60" y1="541.67" x2="84.60" y2="541.67" stroke="#555" stroke-width="1.2"/>
<text x="88.30" y="449.80" font-size="20" font-style="italic" fill="#111">Deltex1</text>
<text x="142.19" y="556.70" font-size="11.6" fill="#111">n.d.</text>
<text x="230.69" y="556.70" font-size="11.6" fill="#111">n.d.</text>
<text x="109.28" y="583.80" font-size="19" fill="#111">Day1</text>
<text x="191.28" y="583.80" font-size="19" fill="#111">Day2</text>
<text transform="translate(46.70,568.66) rotate(-90)" font-size="12.0" fill="#222">Normalized to β-actin (x10<tspan font-size="8.2" dy="-4.1">-2</tspan><tspan dy="4.1">)</tspan></text>
<text x="311.55" y="436.40" font-size="15" fill="#111">6</text>
<text x="311.55" y="457.43" font-size="15" fill="#111">5</text>
<text x="311.25" y="478.47" font-size="15" fill="#111">4</text>
<text x="311.55" y="499.50" font-size="15" fill="#111">3</text>
<text x="311.55" y="520.53" font-size="15" fill="#111">2</text>
<text x="311.55" y="541.57" font-size="15" fill="#111">1</text>
<text x="311.40" y="562.60" font-size="15" fill="#111">0</text>
<line x1="355.50" y1="483.75" x2="355.50" y2="496.70" stroke="#555" stroke-width="1.1"/>
<line x1="354.90" y1="484.25" x2="356.10" y2="484.25" stroke="#333" stroke-width="1"/>
<rect x="338.00" y="496.70" width="35.00" height="63.70" fill="#000a8e" stroke="#000050" stroke-width="0.8"/>
<line x1="390.85" y1="553.50" x2="390.85" y2="554.00" stroke="#555" stroke-width="1.1"/>
<line x1="390.25" y1="554.00" x2="391.45" y2="554.00" stroke="#333" stroke-width="1"/>
<rect x="373.00" y="554.00" width="35.70" height="6.40" fill="#ff9dcd" stroke="#70506a" stroke-width="1.1"/>
<line x1="443.75" y1="440.00" x2="443.75" y2="448.00" stroke="#555" stroke-width="1.1"/>
<line x1="443.15" y1="440.50" x2="444.35" y2="440.50" stroke="#333" stroke-width="1"/>
<rect x="425.80" y="448.00" width="35.90" height="112.40" fill="#000a8e" stroke="#000050" stroke-width="0.8"/>
<line x1="479.20" y1="556.20" x2="479.20" y2="556.60" stroke="#555" stroke-width="1.1"/>
<line x1="478.60" y1="556.70" x2="479.80" y2="556.70" stroke="#333" stroke-width="1"/>
<rect x="461.70" y="556.60" width="35.00" height="3.80" fill="#ff9dcd" stroke="#70506a" stroke-width="1.1"/>
<rect x="328.50" y="428.30" width="177.60" height="132.10" fill="none" stroke="#777" stroke-width="1.5"/>
<line x1="326.50" y1="450.32" x2="328.50" y2="450.32" stroke="#555" stroke-width="1.2"/>
<line x1="326.50" y1="472.33" x2="328.50" y2="472.33" stroke="#555" stroke-width="1.2"/>
<line x1="326.50" y1="494.35" x2="328.50" y2="494.35" stroke="#555" stroke-width="1.2"/>
<line x1="326.50" y1="516.37" x2="328.50" y2="516.37" stroke="#555" stroke-width="1.2"/>
<line x1="326.50" y1="538.38" x2="328.50" y2="538.38" stroke="#555" stroke-width="1.2"/>
<text x="333.65" y="449.30" font-size="20" font-style="italic" fill="#111">Hes1</text>
<rect x="469.20" y="432.40" width="11.60" height="11.10" fill="#000a8e" stroke="#222" stroke-width="0.8"/>
<rect x="469.20" y="451.00" width="11.60" height="11.60" fill="#ff9dcd" stroke="#444" stroke-width="0.8"/>
<text x="482.47" y="442.40" font-size="11.6" fill="#111" letter-spacing="0.6">DL1</text>
<text x="482.60" y="461.00" font-size="12" fill="#111">Ctrl</text>
<text x="349.28" y="586.40" font-size="19" fill="#111">Day1</text>
<text x="431.78" y="586.50" font-size="19" fill="#111">Day2</text>
<text transform="translate(294.70,568.26) rotate(-90)" font-size="12.0" fill="#222">Normalized to β-actin (x10<tspan font-size="8.2" dy="-4.1">-2</tspan><tspan dy="4.1">)</tspan></text>
<text x="54.30" y="631.70" font-size="15" fill="#111">2.5</text>
<text x="54.15" y="656.70" font-size="15" fill="#111">2.0</text>
<text x="54.30" y="681.70" font-size="15" fill="#111">1.5</text>
<text x="54.15" y="706.70" font-size="15" fill="#111">1.0</text>
<text x="54.30" y="731.70" font-size="15" fill="#111">0.5</text>
<text x="66.60" y="756.00" font-size="15" fill="#111">0</text>
<line x1="111.60" y1="671.00" x2="111.60" y2="678.00" stroke="#555" stroke-width="1.1"/>
<line x1="111.00" y1="671.50" x2="112.20" y2="671.50" stroke="#333" stroke-width="1"/>
<rect x="93.90" y="678.00" width="35.40" height="75.30" fill="#000a8e" stroke="#000050" stroke-width="0.8"/>
<line x1="147.05" y1="703.20" x2="147.05" y2="708.60" stroke="#555" stroke-width="1.1"/>
<line x1="146.45" y1="703.70" x2="147.65" y2="703.70" stroke="#333" stroke-width="1"/>
<rect x="129.30" y="708.60" width="35.50" height="44.70" fill="#ff9dcd" stroke="#70506a" stroke-width="1.1"/>
<line x1="200.00" y1="642.90" x2="200.00" y2="658.20" stroke="#555" stroke-width="1.1"/>
<line x1="199.40" y1="643.40" x2="200.60" y2="643.40" stroke="#333" stroke-width="1"/>
<rect x="182.30" y="658.20" width="35.40" height="95.10" fill="#000a8e" stroke="#000050" stroke-width="0.8"/>
<line x1="235.25" y1="718.50" x2="235.25" y2="720.70" stroke="#555" stroke-width="1.1"/>
<line x1="234.65" y1="719.00" x2="235.85" y2="719.00" stroke="#333" stroke-width="1"/>
<rect x="217.70" y="720.70" width="35.10" height="32.60" fill="#ff9dcd" stroke="#70506a" stroke-width="1.1"/>
<rect x="84.40" y="621.80" width="177.20" height="131.50" fill="none" stroke="#777" stroke-width="1.5"/>
<line x1="82.40" y1="648.10" x2="84.40" y2="648.10" stroke="#555" stroke-width="1.2"/>
<line x1="82.40" y1="674.40" x2="84.40" y2="674.40" stroke="#555" stroke-width="1.2"/>
<line x1="82.40" y1="700.70" x2="84.40" y2="700.70" stroke="#555" stroke-width="1.2"/>
<line x1="82.40" y1="727.00" x2="84.40" y2="727.00" stroke="#555" stroke-width="1.2"/>
<text x="88.50" y="641.40" font-size="20" font-style="italic" fill="#111">c-Myc</text>
<text x="109.28" y="778.80" font-size="19" fill="#111">Day1</text>
<text x="191.48" y="778.80" font-size="19" fill="#111">Day2</text>
<text transform="translate(46.70,762.06) rotate(-90)" font-size="12.0" fill="#222">Normalized to β-actin (x10<tspan font-size="8.2" dy="-4.1">-2</tspan><tspan dy="4.1">)</tspan></text>
<text x="301.75" y="632.70" font-size="15" fill="#111">12</text>
<text x="301.60" y="653.70" font-size="15" fill="#111">10</text>
<text x="310.15" y="675.30" font-size="15" fill="#111">8</text>
<text x="310.15" y="696.40" font-size="15" fill="#111">6</text>
<text x="309.85" y="718.20" font-size="15" fill="#111">4</text>
<text x="310.15" y="739.10" font-size="15" fill="#111">2</text>
<text x="310.00" y="759.20" font-size="15" fill="#111">0</text>
<line x1="356.20" y1="721.70" x2="356.20" y2="726.20" stroke="#555" stroke-width="1.1"/>
<line x1="355.60" y1="722.20" x2="356.80" y2="722.20" stroke="#333" stroke-width="1"/>
<rect x="337.60" y="726.20" width="37.20" height="26.70" fill="#000a8e" stroke="#000050" stroke-width="0.8"/>
<line x1="393.05" y1="646.50" x2="393.05" y2="683.50" stroke="#555" stroke-width="1.1"/>
<line x1="392.45" y1="647.00" x2="393.65" y2="647.00" stroke="#333" stroke-width="1"/>
<rect x="374.80" y="683.50" width="36.50" height="69.40" fill="#ff9dcd" stroke="#70506a" stroke-width="1.1"/>
<line x1="447.85" y1="727.60" x2="447.85" y2="729.80" stroke="#555" stroke-width="1.1"/>
<line x1="447.25" y1="728.10" x2="448.45" y2="728.10" stroke="#333" stroke-width="1"/>
<rect x="429.60" y="729.80" width="36.50" height="23.10" fill="#000a8e" stroke="#000050" stroke-width="0.8"/>
<line x1="484.45" y1="664.80" x2="484.45" y2="673.80" stroke="#555" stroke-width="1.1"/>
<line x1="483.85" y1="665.30" x2="485.05" y2="665.30" stroke="#333" stroke-width="1"/>
<rect x="466.20" y="673.80" width="36.50" height="79.10" fill="#ff9dcd" stroke="#70506a" stroke-width="1.1"/>
<rect x="329.00" y="623.60" width="182.80" height="129.30" fill="none" stroke="#777" stroke-width="1.5"/>
<line x1="327.00" y1="645.15" x2="329.00" y2="645.15" stroke="#555" stroke-width="1.2"/>
<line x1="327.00" y1="666.70" x2="329.00" y2="666.70" stroke="#555" stroke-width="1.2"/>
<line x1="327.00" y1="688.25" x2="329.00" y2="688.25" stroke="#555" stroke-width="1.2"/>
<line x1="327.00" y1="709.80" x2="329.00" y2="709.80" stroke="#555" stroke-width="1.2"/>
<line x1="327.00" y1="731.35" x2="329.00" y2="731.35" stroke="#555" stroke-width="1.2"/>
<text x="333.80" y="643.80" font-size="20" font-style="italic" fill="#111">Pten</text>
<text x="349.28" y="778.00" font-size="19" fill="#111">Day1</text>
<text x="431.78" y="778.00" font-size="19" fill="#111">Day2</text>
<text transform="translate(294.70,761.76) rotate(-90)" font-size="12.0" fill="#222">Normalized to β-actin (x10<tspan font-size="8.2" dy="-4.1">-2</tspan><tspan dy="4.1">)</tspan></text>
<text x="66.75" y="839.20" font-size="15" fill="#111">1</text>
<text x="54.90" y="900.10" font-size="15" fill="#111">0.5</text>
<text x="67.60" y="962.30" font-size="15" fill="#111">0</text>
<line x1="126.90" y1="881.20" x2="126.90" y2="895.80" stroke="#555" stroke-width="1.1"/>
<line x1="126.30" y1="881.70" x2="127.50" y2="881.70" stroke="#333" stroke-width="1"/>
<rect x="96.30" y="895.80" width="61.20" height="62.10" fill="#000a8e" stroke="#000050" stroke-width="0.8"/>
<line x1="218.20" y1="925.80" x2="218.20" y2="932.40" stroke="#555" stroke-width="1.1"/>
<line x1="217.60" y1="926.30" x2="218.80" y2="926.30" stroke="#333" stroke-width="1"/>
<rect x="187.60" y="932.40" width="61.20" height="25.50" fill="#000a8e" stroke="#000050" stroke-width="0.8"/>
<rect x="81.20" y="831.30" width="182.55" height="126.60" fill="none" stroke="#777" stroke-width="1.5"/>
<line x1="78.70" y1="831.30" x2="81.20" y2="831.30" stroke="#777" stroke-width="1.1"/>
<line x1="78.70" y1="894.60" x2="81.20" y2="894.60" stroke="#777" stroke-width="1.1"/>
<line x1="78.70" y1="957.90" x2="81.20" y2="957.90" stroke="#777" stroke-width="1.1"/>
<line x1="81.20" y1="957.90" x2="81.20" y2="960.70" stroke="#777" stroke-width="1.1"/>
<line x1="172.50" y1="957.90" x2="172.50" y2="960.70" stroke="#777" stroke-width="1.1"/>
<line x1="263.75" y1="957.90" x2="263.75" y2="960.70" stroke="#777" stroke-width="1.1"/>
<text x="85.40" y="853.00" font-size="20" font-style="italic" fill="#111">Deltex1</text>
<text x="104.34" y="986.90" font-size="19.5" fill="#111">DN4</text>
<text x="206.24" y="986.80" font-size="19.5" fill="#111">DP</text>
<text transform="translate(46.70,974.46) rotate(-90)" font-size="12.0" fill="#222">Normalized to β-actin (x10<tspan font-size="8.2" dy="-4.1">-2</tspan><tspan dy="4.1">)</tspan></text>
<text x="311.05" y="835.40" font-size="15" fill="#111">2</text>
<text x="310.35" y="900.80" font-size="15" fill="#111">1</text>
<text x="311.20" y="964.60" font-size="15" fill="#111">0</text>
<line x1="373.75" y1="856.00" x2="373.75" y2="876.50" stroke="#555" stroke-width="1.1"/>
<line x1="373.15" y1="856.50" x2="374.35" y2="856.50" stroke="#333" stroke-width="1"/>
<rect x="342.50" y="876.50" width="62.50" height="81.60" fill="#000a8e" stroke="#000050" stroke-width="0.8"/>
<line x1="465.65" y1="947.50" x2="465.65" y2="954.00" stroke="#555" stroke-width="1.1"/>
<line x1="465.05" y1="948.00" x2="466.25" y2="948.00" stroke="#333" stroke-width="1"/>
<rect x="435.00" y="954.00" width="61.30" height="4.10" fill="#000a8e" stroke="#000050" stroke-width="0.8"/>
<rect x="328.30" y="831.30" width="183.00" height="126.80" fill="none" stroke="#777" stroke-width="1.5"/>
<line x1="325.80" y1="831.30" x2="328.30" y2="831.30" stroke="#777" stroke-width="1.1"/>
<line x1="325.80" y1="894.70" x2="328.30" y2="894.70" stroke="#777" stroke-width="1.1"/>
<line x1="325.80" y1="958.10" x2="328.30" y2="958.10" stroke="#777" stroke-width="1.1"/>
<line x1="328.30" y1="958.10" x2="328.30" y2="960.90" stroke="#777" stroke-width="1.1"/>
<line x1="421.00" y1="958.10" x2="421.00" y2="960.90" stroke="#777" stroke-width="1.1"/>
<line x1="511.30" y1="958.10" x2="511.30" y2="960.90" stroke="#777" stroke-width="1.1"/>
<text x="331.60" y="850.80" font-size="20" font-style="italic" fill="#111">Hes1</text>
<text x="354.44" y="985.10" font-size="19.5" fill="#111">DN4</text>
<text x="456.64" y="984.90" font-size="19.5" fill="#111">DP</text>
<text transform="translate(296.70,973.86) rotate(-90)" font-size="12.0" fill="#222">Normalized to β-actin (x10<tspan font-size="8.2" dy="-4.1">-1</tspan><tspan dy="4.1">)</tspan></text>
<text x="66.05" y="1021.20" font-size="15" fill="#111">3</text>
<text x="66.05" y="1063.80" font-size="15" fill="#111">2</text>
<text x="64.55" y="1106.20" font-size="15" fill="#111">1</text>
<text x="66.10" y="1147.20" font-size="15" fill="#111">0</text>
<line x1="126.78" y1="1057.50" x2="126.78" y2="1069.50" stroke="#555" stroke-width="1.1"/>
<line x1="126.18" y1="1058.00" x2="127.38" y2="1058.00" stroke="#333" stroke-width="1"/>
<rect x="96.25" y="1069.50" width="61.05" height="71.00" fill="#000a8e" stroke="#000050" stroke-width="0.8"/>
<line x1="218.38" y1="1108.75" x2="218.38" y2="1119.25" stroke="#555" stroke-width="1.1"/>
<line x1="217.78" y1="1109.25" x2="218.97" y2="1109.25" stroke="#333" stroke-width="1"/>
<rect x="188.00" y="1119.25" width="60.75" height="21.25" fill="#000a8e" stroke="#000050" stroke-width="0.8"/>
<rect x="80.90" y="1013.60" width="183.60" height="126.90" fill="none" stroke="#777" stroke-width="1.5"/>
<line x1="78.40" y1="1013.60" x2="80.90" y2="1013.60" stroke="#777" stroke-width="1.1"/>
<line x1="78.40" y1="1055.90" x2="80.90" y2="1055.90" stroke="#777" stroke-width="1.1"/>
<line x1="78.40" y1="1098.20" x2="80.90" y2="1098.20" stroke="#777" stroke-width="1.1"/>
<line x1="78.40" y1="1140.50" x2="80.90" y2="1140.50" stroke="#777" stroke-width="1.1"/>
<line x1="80.90" y1="1140.50" x2="80.90" y2="1143.30" stroke="#777" stroke-width="1.1"/>
<line x1="172.80" y1="1140.50" x2="172.80" y2="1143.30" stroke="#777" stroke-width="1.1"/>
<line x1="264.50" y1="1140.50" x2="264.50" y2="1143.30" stroke="#777" stroke-width="1.1"/>
<text x="86.40" y="1033.80" font-size="20" font-style="italic" fill="#111">Myc</text>
<text x="104.74" y="1164.50" font-size="19.5" fill="#111">DN4</text>
<text x="206.64" y="1164.50" font-size="19.5" fill="#111">DP</text>
<text transform="translate(47.00,1154.76) rotate(-90)" font-size="12.0" fill="#222">Normalized to β-actin (x10<tspan font-size="8.2" dy="-4.1">-2</tspan><tspan dy="4.1">)</tspan></text>
<text x="311.45" y="1019.20" font-size="15" fill="#111">5</text>
<text x="311.15" y="1044.20" font-size="15" fill="#111">4</text>
<text x="311.45" y="1069.20" font-size="15" fill="#111">3</text>
<text x="311.45" y="1094.60" font-size="15" fill="#111">2</text>
<text x="311.45" y="1119.50" font-size="15" fill="#111">1</text>
<text x="311.30" y="1144.20" font-size="15" fill="#111">0</text>
<line x1="373.10" y1="1084.50" x2="373.10" y2="1091.25" stroke="#555" stroke-width="1.1"/>
<line x1="372.50" y1="1085.00" x2="373.70" y2="1085.00" stroke="#333" stroke-width="1"/>
<rect x="342.50" y="1091.25" width="61.20" height="49.05" fill="#000a8e" stroke="#000050" stroke-width="0.8"/>
<line x1="464.75" y1="1027.40" x2="464.75" y2="1032.00" stroke="#555" stroke-width="1.1"/>
<line x1="464.15" y1="1027.90" x2="465.35" y2="1027.90" stroke="#333" stroke-width="1"/>
<rect x="434.20" y="1032.00" width="61.10" height="108.30" fill="#000a8e" stroke="#000050" stroke-width="0.8"/>
<rect x="327.20" y="1013.50" width="183.60" height="126.80" fill="none" stroke="#777" stroke-width="1.5"/>
<line x1="324.70" y1="1013.50" x2="327.20" y2="1013.50" stroke="#777" stroke-width="1.1"/>
<line x1="324.70" y1="1038.86" x2="327.20" y2="1038.86" stroke="#777" stroke-width="1.1"/>
<line x1="324.70" y1="1064.22" x2="327.20" y2="1064.22" stroke="#777" stroke-width="1.1"/>
<line x1="324.70" y1="1089.58" x2="327.20" y2="1089.58" stroke="#777" stroke-width="1.1"/>
<line x1="324.70" y1="1114.94" x2="327.20" y2="1114.94" stroke="#777" stroke-width="1.1"/>
<line x1="324.70" y1="1140.30" x2="327.20" y2="1140.30" stroke="#777" stroke-width="1.1"/>
<line x1="327.20" y1="1140.30" x2="327.20" y2="1143.10" stroke="#777" stroke-width="1.1"/>
<line x1="418.90" y1="1140.30" x2="418.90" y2="1143.10" stroke="#777" stroke-width="1.1"/>
<line x1="510.80" y1="1140.30" x2="510.80" y2="1143.10" stroke="#777" stroke-width="1.1"/>
<text x="331.40" y="1033.80" font-size="20" font-style="italic" fill="#111">Pten</text>
<text x="354.44" y="1164.80" font-size="19.5" fill="#111">DN4</text>
<text x="456.64" y="1165.00" font-size="19.5" fill="#111">DP</text>
<text transform="translate(296.70,1154.46) rotate(-90)" font-size="12.0" fill="#222">Normalized to β-actin (x10<tspan font-size="8.2" dy="-4.1">-2</tspan><tspan dy="4.1">)</tspan></text>
</g>
</svg>
</body></html>
